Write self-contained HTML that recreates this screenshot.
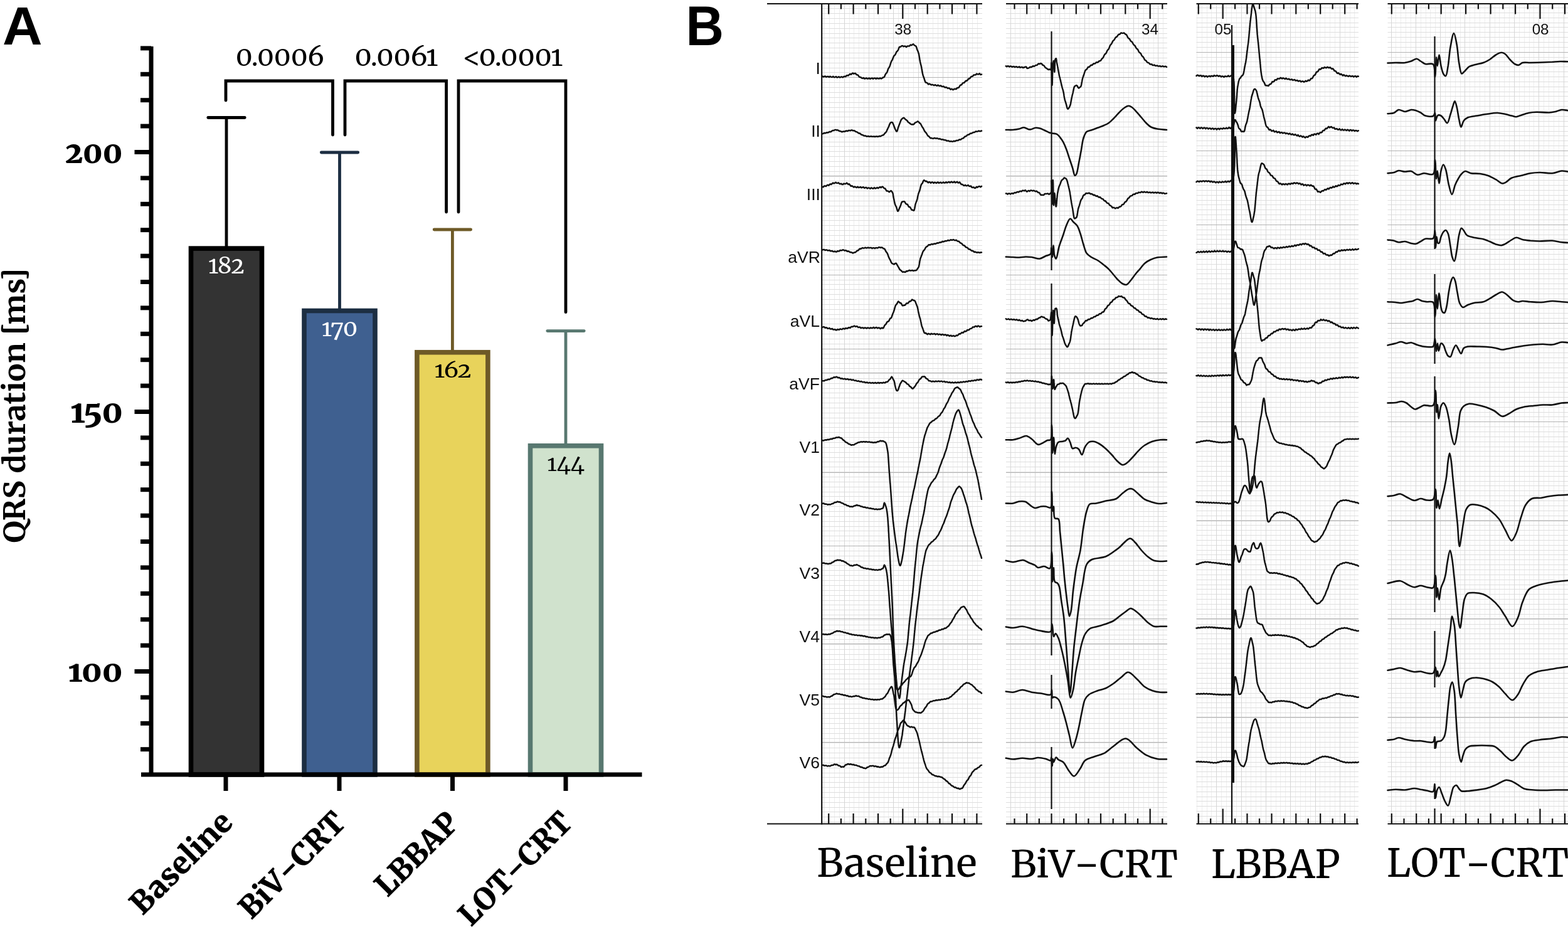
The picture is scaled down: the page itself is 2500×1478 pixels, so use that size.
<!DOCTYPE html>
<html><head><meta charset="utf-8"><style>
html,body{margin:0;padding:0;background:#fff;}
svg{display:block;}
text{font-optical-sizing:none;}
.on{font-variant-numeric:oldstyle-nums;}
.sf{font-size-adjust:cap-height 0.743;}
</style></head><body>
<svg width="2500" height="1478" viewBox="0 0 2500 1478">
<rect width="2500" height="1478" fill="#fff"/>
<line x1="361" y1="393.53999999999996" x2="361" y2="187.5" stroke="#000000" stroke-width="4.8"/>
<line x1="331.8" y1="187.5" x2="390.2" y2="187.5" stroke="#000000" stroke-width="4.8" stroke-linecap="round"/>
<rect x="304.5" y="396.14" width="113" height="838.86" fill="#333333" stroke="#000000" stroke-width="7.6"/>
<line x1="541.5" y1="492.9" x2="541.5" y2="243" stroke="#1c2e42" stroke-width="4.8"/>
<line x1="512.3" y1="243" x2="570.7" y2="243" stroke="#1c2e42" stroke-width="4.8" stroke-linecap="round"/>
<rect x="485.0" y="495.50" width="113" height="739.50" fill="#3f6090" stroke="#1c2e42" stroke-width="7.6"/>
<line x1="721.4" y1="559.14" x2="721.4" y2="366" stroke="#6e5a27" stroke-width="4.8"/>
<line x1="692.1999999999999" y1="366" x2="750.6" y2="366" stroke="#6e5a27" stroke-width="4.8" stroke-linecap="round"/>
<rect x="664.9" y="561.74" width="113" height="673.26" fill="#e8d35b" stroke="#6e5a27" stroke-width="7.6"/>
<line x1="902" y1="708.18" x2="902" y2="527.6" stroke="#587870" stroke-width="4.8"/>
<line x1="872.8" y1="527.6" x2="931.2" y2="527.6" stroke="#587870" stroke-width="4.8" stroke-linecap="round"/>
<rect x="845.5" y="710.78" width="113" height="524.22" fill="#d0e2cd" stroke="#587870" stroke-width="7.6"/>
<line x1="241" y1="74" x2="241" y2="1238" stroke="#000" stroke-width="7"/>
<line x1="224" y1="1194.7" x2="241" y2="1194.7" stroke="#000" stroke-width="7"/>
<line x1="224" y1="1153.3" x2="241" y2="1153.3" stroke="#000" stroke-width="7"/>
<line x1="224" y1="1111.9" x2="241" y2="1111.9" stroke="#000" stroke-width="7"/>
<line x1="214.5" y1="1070.5" x2="241" y2="1070.5" stroke="#000" stroke-width="7"/>
<line x1="224" y1="1029.1" x2="241" y2="1029.1" stroke="#000" stroke-width="7"/>
<line x1="224" y1="987.7" x2="241" y2="987.7" stroke="#000" stroke-width="7"/>
<line x1="224" y1="946.3" x2="241" y2="946.3" stroke="#000" stroke-width="7"/>
<line x1="224" y1="904.9" x2="241" y2="904.9" stroke="#000" stroke-width="7"/>
<line x1="224" y1="863.5" x2="241" y2="863.5" stroke="#000" stroke-width="7"/>
<line x1="224" y1="822.1" x2="241" y2="822.1" stroke="#000" stroke-width="7"/>
<line x1="224" y1="780.7" x2="241" y2="780.7" stroke="#000" stroke-width="7"/>
<line x1="224" y1="739.3" x2="241" y2="739.3" stroke="#000" stroke-width="7"/>
<line x1="224" y1="697.9" x2="241" y2="697.9" stroke="#000" stroke-width="7"/>
<line x1="214.5" y1="656.5" x2="241" y2="656.5" stroke="#000" stroke-width="7"/>
<line x1="224" y1="615.1" x2="241" y2="615.1" stroke="#000" stroke-width="7"/>
<line x1="224" y1="573.7" x2="241" y2="573.7" stroke="#000" stroke-width="7"/>
<line x1="224" y1="532.3" x2="241" y2="532.3" stroke="#000" stroke-width="7"/>
<line x1="224" y1="490.9" x2="241" y2="490.9" stroke="#000" stroke-width="7"/>
<line x1="224" y1="449.5" x2="241" y2="449.5" stroke="#000" stroke-width="7"/>
<line x1="224" y1="408.1" x2="241" y2="408.1" stroke="#000" stroke-width="7"/>
<line x1="224" y1="366.7" x2="241" y2="366.7" stroke="#000" stroke-width="7"/>
<line x1="224" y1="325.3" x2="241" y2="325.3" stroke="#000" stroke-width="7"/>
<line x1="224" y1="283.9" x2="241" y2="283.9" stroke="#000" stroke-width="7"/>
<line x1="214.5" y1="242.5" x2="241" y2="242.5" stroke="#000" stroke-width="7"/>
<line x1="224" y1="201.1" x2="241" y2="201.1" stroke="#000" stroke-width="7"/>
<line x1="224" y1="159.7" x2="241" y2="159.7" stroke="#000" stroke-width="7"/>
<line x1="224" y1="118.3" x2="241" y2="118.3" stroke="#000" stroke-width="7"/>
<line x1="224" y1="76.9" x2="241" y2="76.9" stroke="#000" stroke-width="7"/>
<line x1="225" y1="1235" x2="1023.5" y2="1235" stroke="#000" stroke-width="7"/>
<line x1="360" y1="1235" x2="360" y2="1261" stroke="#000" stroke-width="7"/>
<line x1="541" y1="1235" x2="541" y2="1261" stroke="#000" stroke-width="7"/>
<line x1="721.5" y1="1235" x2="721.5" y2="1261" stroke="#000" stroke-width="7"/>
<line x1="902" y1="1235" x2="902" y2="1261" stroke="#000" stroke-width="7"/>
<polyline points="360,160 360,129 530.5,129 530.5,215" fill="none" stroke="#000" stroke-width="4.8" stroke-linecap="round"/>
<polyline points="550,215 550,129 711.6,129 711.6,338" fill="none" stroke="#000" stroke-width="4.8" stroke-linecap="round"/>
<polyline points="731,338 731,129 902,129 902,497.7" fill="none" stroke="#000" stroke-width="4.8" stroke-linecap="round"/>
<path d="M1314.5 6.0V1313.5M1322.5 6.0V1313.5M1330.5 6.0V1313.5M1338.5 6.0V1313.5M1354.5 6.0V1313.5M1361.5 6.0V1313.5M1369.5 6.0V1313.5M1377.5 6.0V1313.5M1393.5 6.0V1313.5M1401.5 6.0V1313.5M1409.5 6.0V1313.5M1416.5 6.0V1313.5M1432.5 6.0V1313.5M1440.5 6.0V1313.5M1448.5 6.0V1313.5M1456.5 6.0V1313.5M1471.5 6.0V1313.5M1479.5 6.0V1313.5M1487.5 6.0V1313.5M1495.5 6.0V1313.5M1511.5 6.0V1313.5M1519.5 6.0V1313.5M1526.5 6.0V1313.5M1534.5 6.0V1313.5M1550.5 6.0V1313.5M1558.5 6.0V1313.5" stroke="#ededed" stroke-width="1" fill="none"/>
<path d="M1310.2 13.5H1566.0M1310.2 21.5H1566.0M1310.2 29.5H1566.0M1310.2 37.5H1566.0M1310.2 45.5H1566.0M1310.2 53.5H1566.0M1310.2 60.5H1566.0M1310.2 68.5H1566.0M1310.2 76.5H1566.0M1310.2 84.5H1566.0M1310.2 92.5H1566.0M1310.2 100.5H1566.0M1310.2 108.5H1566.0M1310.2 115.5H1566.0M1310.2 123.5H1566.0M1310.2 131.5H1566.0M1310.2 139.5H1566.0M1310.2 147.5H1566.0M1310.2 155.5H1566.0M1310.2 163.5H1566.0M1310.2 171.5H1566.0M1310.2 178.5H1566.0M1310.2 186.5H1566.0M1310.2 194.5H1566.0M1310.2 202.5H1566.0M1310.2 210.5H1566.0M1310.2 218.5H1566.0M1310.2 226.5H1566.0M1310.2 233.5H1566.0M1310.2 241.5H1566.0M1310.2 249.5H1566.0M1310.2 257.5H1566.0M1310.2 265.5H1566.0M1310.2 273.5H1566.0M1310.2 281.5H1566.0M1310.2 288.5H1566.0M1310.2 296.5H1566.0M1310.2 304.5H1566.0M1310.2 312.5H1566.0M1310.2 320.5H1566.0M1310.2 328.5H1566.0M1310.2 336.5H1566.0M1310.2 343.5H1566.0M1310.2 351.5H1566.0M1310.2 359.5H1566.0M1310.2 367.5H1566.0M1310.2 375.5H1566.0M1310.2 383.5H1566.0M1310.2 391.5H1566.0M1310.2 398.5H1566.0M1310.2 406.5H1566.0M1310.2 414.5H1566.0M1310.2 422.5H1566.0M1310.2 430.5H1566.0M1310.2 438.5H1566.0M1310.2 446.5H1566.0M1310.2 453.5H1566.0M1310.2 461.5H1566.0M1310.2 469.5H1566.0M1310.2 477.5H1566.0M1310.2 485.5H1566.0M1310.2 493.5H1566.0M1310.2 501.5H1566.0M1310.2 508.5H1566.0M1310.2 516.5H1566.0M1310.2 524.5H1566.0M1310.2 532.5H1566.0M1310.2 540.5H1566.0M1310.2 548.5H1566.0M1310.2 556.5H1566.0M1310.2 564.5H1566.0M1310.2 571.5H1566.0M1310.2 579.5H1566.0M1310.2 587.5H1566.0M1310.2 595.5H1566.0M1310.2 603.5H1566.0M1310.2 611.5H1566.0M1310.2 619.5H1566.0M1310.2 626.5H1566.0M1310.2 634.5H1566.0M1310.2 642.5H1566.0M1310.2 650.5H1566.0M1310.2 658.5H1566.0M1310.2 666.5H1566.0M1310.2 674.5H1566.0M1310.2 681.5H1566.0M1310.2 689.5H1566.0M1310.2 697.5H1566.0M1310.2 705.5H1566.0M1310.2 713.5H1566.0M1310.2 721.5H1566.0M1310.2 729.5H1566.0M1310.2 736.5H1566.0M1310.2 744.5H1566.0M1310.2 752.5H1566.0M1310.2 760.5H1566.0M1310.2 768.5H1566.0M1310.2 776.5H1566.0M1310.2 784.5H1566.0M1310.2 791.5H1566.0M1310.2 799.5H1566.0M1310.2 807.5H1566.0M1310.2 815.5H1566.0M1310.2 823.5H1566.0M1310.2 831.5H1566.0M1310.2 839.5H1566.0M1310.2 846.5H1566.0M1310.2 854.5H1566.0M1310.2 862.5H1566.0M1310.2 870.5H1566.0M1310.2 878.5H1566.0M1310.2 886.5H1566.0M1310.2 894.5H1566.0M1310.2 901.5H1566.0M1310.2 909.5H1566.0M1310.2 917.5H1566.0M1310.2 925.5H1566.0M1310.2 933.5H1566.0M1310.2 941.5H1566.0M1310.2 949.5H1566.0M1310.2 957.5H1566.0M1310.2 964.5H1566.0M1310.2 972.5H1566.0M1310.2 980.5H1566.0M1310.2 988.5H1566.0M1310.2 996.5H1566.0M1310.2 1004.5H1566.0M1310.2 1012.5H1566.0M1310.2 1019.5H1566.0M1310.2 1027.5H1566.0M1310.2 1035.5H1566.0M1310.2 1043.5H1566.0M1310.2 1051.5H1566.0M1310.2 1059.5H1566.0M1310.2 1067.5H1566.0M1310.2 1074.5H1566.0M1310.2 1082.5H1566.0M1310.2 1090.5H1566.0M1310.2 1098.5H1566.0M1310.2 1106.5H1566.0M1310.2 1114.5H1566.0M1310.2 1122.5H1566.0M1310.2 1129.5H1566.0M1310.2 1137.5H1566.0M1310.2 1145.5H1566.0M1310.2 1153.5H1566.0M1310.2 1161.5H1566.0M1310.2 1169.5H1566.0M1310.2 1177.5H1566.0M1310.2 1184.5H1566.0M1310.2 1192.5H1566.0M1310.2 1200.5H1566.0M1310.2 1208.5H1566.0M1310.2 1216.5H1566.0M1310.2 1224.5H1566.0M1310.2 1232.5H1566.0M1310.2 1239.5H1566.0M1310.2 1247.5H1566.0M1310.2 1255.5H1566.0M1310.2 1263.5H1566.0M1310.2 1271.5H1566.0M1310.2 1279.5H1566.0M1310.2 1287.5H1566.0M1310.2 1294.5H1566.0M1310.2 1302.5H1566.0M1310.2 1310.5H1566.0" stroke="#dedede" stroke-width="1" fill="none"/>
<path d="M1346.5 6.0V1313.5M1385.5 6.0V1313.5M1424.5 6.0V1313.5M1464.5 6.0V1313.5M1503.5 6.0V1313.5M1542.5 6.0V1313.5" stroke="#d6d6d6" stroke-width="1" fill="none"/>
<path d="M1310.2 123.5H1566.0M1310.2 280.5H1566.0M1310.2 438.5H1566.0M1310.2 556.5H1566.0M1310.2 594.5H1566.0M1310.2 753.5H1566.0M1310.2 870.5H1566.0M1310.2 986.5H1566.0M1310.2 1026.5H1566.0M1310.2 1183.5H1566.0" stroke="#b4b4b4" stroke-width="1" fill="none"/>
<path d="M1618.5 6.0V1313.5M1626.5 6.0V1313.5M1634.5 6.0V1313.5M1642.5 6.0V1313.5M1658.5 6.0V1313.5M1666.5 6.0V1313.5M1673.5 6.0V1313.5M1681.5 6.0V1313.5M1697.5 6.0V1313.5M1705.5 6.0V1313.5M1713.5 6.0V1313.5M1721.5 6.0V1313.5M1736.5 6.0V1313.5M1744.5 6.0V1313.5M1752.5 6.0V1313.5M1760.5 6.0V1313.5M1776.5 6.0V1313.5M1784.5 6.0V1313.5M1791.5 6.0V1313.5M1799.5 6.0V1313.5M1815.5 6.0V1313.5M1823.5 6.0V1313.5M1831.5 6.0V1313.5M1839.5 6.0V1313.5M1854.5 6.0V1313.5" stroke="#ededed" stroke-width="1" fill="none"/>
<path d="M1604.0 13.5H1861.0M1604.0 21.5H1861.0M1604.0 29.5H1861.0M1604.0 37.5H1861.0M1604.0 45.5H1861.0M1604.0 53.5H1861.0M1604.0 60.5H1861.0M1604.0 68.5H1861.0M1604.0 76.5H1861.0M1604.0 84.5H1861.0M1604.0 92.5H1861.0M1604.0 100.5H1861.0M1604.0 108.5H1861.0M1604.0 115.5H1861.0M1604.0 123.5H1861.0M1604.0 131.5H1861.0M1604.0 139.5H1861.0M1604.0 147.5H1861.0M1604.0 155.5H1861.0M1604.0 163.5H1861.0M1604.0 171.5H1861.0M1604.0 178.5H1861.0M1604.0 186.5H1861.0M1604.0 194.5H1861.0M1604.0 202.5H1861.0M1604.0 210.5H1861.0M1604.0 218.5H1861.0M1604.0 226.5H1861.0M1604.0 233.5H1861.0M1604.0 241.5H1861.0M1604.0 249.5H1861.0M1604.0 257.5H1861.0M1604.0 265.5H1861.0M1604.0 273.5H1861.0M1604.0 281.5H1861.0M1604.0 288.5H1861.0M1604.0 296.5H1861.0M1604.0 304.5H1861.0M1604.0 312.5H1861.0M1604.0 320.5H1861.0M1604.0 328.5H1861.0M1604.0 336.5H1861.0M1604.0 343.5H1861.0M1604.0 351.5H1861.0M1604.0 359.5H1861.0M1604.0 367.5H1861.0M1604.0 375.5H1861.0M1604.0 383.5H1861.0M1604.0 391.5H1861.0M1604.0 398.5H1861.0M1604.0 406.5H1861.0M1604.0 414.5H1861.0M1604.0 422.5H1861.0M1604.0 430.5H1861.0M1604.0 438.5H1861.0M1604.0 446.5H1861.0M1604.0 453.5H1861.0M1604.0 461.5H1861.0M1604.0 469.5H1861.0M1604.0 477.5H1861.0M1604.0 485.5H1861.0M1604.0 493.5H1861.0M1604.0 501.5H1861.0M1604.0 508.5H1861.0M1604.0 516.5H1861.0M1604.0 524.5H1861.0M1604.0 532.5H1861.0M1604.0 540.5H1861.0M1604.0 548.5H1861.0M1604.0 556.5H1861.0M1604.0 564.5H1861.0M1604.0 571.5H1861.0M1604.0 579.5H1861.0M1604.0 587.5H1861.0M1604.0 595.5H1861.0M1604.0 603.5H1861.0M1604.0 611.5H1861.0M1604.0 619.5H1861.0M1604.0 626.5H1861.0M1604.0 634.5H1861.0M1604.0 642.5H1861.0M1604.0 650.5H1861.0M1604.0 658.5H1861.0M1604.0 666.5H1861.0M1604.0 674.5H1861.0M1604.0 681.5H1861.0M1604.0 689.5H1861.0M1604.0 697.5H1861.0M1604.0 705.5H1861.0M1604.0 713.5H1861.0M1604.0 721.5H1861.0M1604.0 729.5H1861.0M1604.0 736.5H1861.0M1604.0 744.5H1861.0M1604.0 752.5H1861.0M1604.0 760.5H1861.0M1604.0 768.5H1861.0M1604.0 776.5H1861.0M1604.0 784.5H1861.0M1604.0 791.5H1861.0M1604.0 799.5H1861.0M1604.0 807.5H1861.0M1604.0 815.5H1861.0M1604.0 823.5H1861.0M1604.0 831.5H1861.0M1604.0 839.5H1861.0M1604.0 846.5H1861.0M1604.0 854.5H1861.0M1604.0 862.5H1861.0M1604.0 870.5H1861.0M1604.0 878.5H1861.0M1604.0 886.5H1861.0M1604.0 894.5H1861.0M1604.0 901.5H1861.0M1604.0 909.5H1861.0M1604.0 917.5H1861.0M1604.0 925.5H1861.0M1604.0 933.5H1861.0M1604.0 941.5H1861.0M1604.0 949.5H1861.0M1604.0 957.5H1861.0M1604.0 964.5H1861.0M1604.0 972.5H1861.0M1604.0 980.5H1861.0M1604.0 988.5H1861.0M1604.0 996.5H1861.0M1604.0 1004.5H1861.0M1604.0 1012.5H1861.0M1604.0 1019.5H1861.0M1604.0 1027.5H1861.0M1604.0 1035.5H1861.0M1604.0 1043.5H1861.0M1604.0 1051.5H1861.0M1604.0 1059.5H1861.0M1604.0 1067.5H1861.0M1604.0 1074.5H1861.0M1604.0 1082.5H1861.0M1604.0 1090.5H1861.0M1604.0 1098.5H1861.0M1604.0 1106.5H1861.0M1604.0 1114.5H1861.0M1604.0 1122.5H1861.0M1604.0 1129.5H1861.0M1604.0 1137.5H1861.0M1604.0 1145.5H1861.0M1604.0 1153.5H1861.0M1604.0 1161.5H1861.0M1604.0 1169.5H1861.0M1604.0 1177.5H1861.0M1604.0 1184.5H1861.0M1604.0 1192.5H1861.0M1604.0 1200.5H1861.0M1604.0 1208.5H1861.0M1604.0 1216.5H1861.0M1604.0 1224.5H1861.0M1604.0 1232.5H1861.0M1604.0 1239.5H1861.0M1604.0 1247.5H1861.0M1604.0 1255.5H1861.0M1604.0 1263.5H1861.0M1604.0 1271.5H1861.0M1604.0 1279.5H1861.0M1604.0 1287.5H1861.0M1604.0 1294.5H1861.0M1604.0 1302.5H1861.0M1604.0 1310.5H1861.0" stroke="#dedede" stroke-width="1" fill="none"/>
<path d="M1611.5 6.0V1313.5M1650.5 6.0V1313.5M1689.5 6.0V1313.5M1729.5 6.0V1313.5M1768.5 6.0V1313.5M1807.5 6.0V1313.5M1846.5 6.0V1313.5" stroke="#d6d6d6" stroke-width="1" fill="none"/>
<path d="M1604.0 123.5H1861.0M1604.0 280.5H1861.0M1604.0 438.5H1861.0M1604.0 556.5H1861.0M1604.0 594.5H1861.0M1604.0 753.5H1861.0M1604.0 870.5H1861.0M1604.0 986.5H1861.0M1604.0 1026.5H1861.0M1604.0 1183.5H1861.0" stroke="#b4b4b4" stroke-width="1" fill="none"/>
<path d="M1908.5 6.0V1313.5M1916.5 6.0V1313.5M1924.5 6.0V1313.5M1931.5 6.0V1313.5M1947.5 6.0V1313.5M1955.5 6.0V1313.5M1963.5 6.0V1313.5M1971.5 6.0V1313.5M1986.5 6.0V1313.5M1994.5 6.0V1313.5M2002.5 6.0V1313.5M2010.5 6.0V1313.5M2026.5 6.0V1313.5M2034.5 6.0V1313.5M2041.5 6.0V1313.5M2049.5 6.0V1313.5M2065.5 6.0V1313.5M2073.5 6.0V1313.5M2081.5 6.0V1313.5M2089.5 6.0V1313.5M2104.5 6.0V1313.5M2112.5 6.0V1313.5M2120.5 6.0V1313.5M2128.5 6.0V1313.5M2144.5 6.0V1313.5M2152.5 6.0V1313.5M2159.5 6.0V1313.5" stroke="#ededed" stroke-width="1" fill="none"/>
<path d="M1907.5 12.5H2166.0M1907.5 20.5H2166.0M1907.5 28.5H2166.0M1907.5 36.5H2166.0M1907.5 43.5H2166.0M1907.5 51.5H2166.0M1907.5 59.5H2166.0M1907.5 67.5H2166.0M1907.5 75.5H2166.0M1907.5 83.5H2166.0M1907.5 91.5H2166.0M1907.5 98.5H2166.0M1907.5 106.5H2166.0M1907.5 114.5H2166.0M1907.5 122.5H2166.0M1907.5 130.5H2166.0M1907.5 138.5H2166.0M1907.5 146.5H2166.0M1907.5 153.5H2166.0M1907.5 161.5H2166.0M1907.5 169.5H2166.0M1907.5 177.5H2166.0M1907.5 185.5H2166.0M1907.5 193.5H2166.0M1907.5 201.5H2166.0M1907.5 209.5H2166.0M1907.5 216.5H2166.0M1907.5 224.5H2166.0M1907.5 232.5H2166.0M1907.5 240.5H2166.0M1907.5 248.5H2166.0M1907.5 256.5H2166.0M1907.5 264.5H2166.0M1907.5 271.5H2166.0M1907.5 279.5H2166.0M1907.5 287.5H2166.0M1907.5 295.5H2166.0M1907.5 303.5H2166.0M1907.5 311.5H2166.0M1907.5 319.5H2166.0M1907.5 326.5H2166.0M1907.5 334.5H2166.0M1907.5 342.5H2166.0M1907.5 350.5H2166.0M1907.5 358.5H2166.0M1907.5 366.5H2166.0M1907.5 374.5H2166.0M1907.5 381.5H2166.0M1907.5 389.5H2166.0M1907.5 397.5H2166.0M1907.5 405.5H2166.0M1907.5 413.5H2166.0M1907.5 421.5H2166.0M1907.5 429.5H2166.0M1907.5 436.5H2166.0M1907.5 444.5H2166.0M1907.5 452.5H2166.0M1907.5 460.5H2166.0M1907.5 468.5H2166.0M1907.5 476.5H2166.0M1907.5 484.5H2166.0M1907.5 491.5H2166.0M1907.5 499.5H2166.0M1907.5 507.5H2166.0M1907.5 515.5H2166.0M1907.5 523.5H2166.0M1907.5 531.5H2166.0M1907.5 539.5H2166.0M1907.5 546.5H2166.0M1907.5 554.5H2166.0M1907.5 562.5H2166.0M1907.5 570.5H2166.0M1907.5 578.5H2166.0M1907.5 586.5H2166.0M1907.5 594.5H2166.0M1907.5 602.5H2166.0M1907.5 609.5H2166.0M1907.5 617.5H2166.0M1907.5 625.5H2166.0M1907.5 633.5H2166.0M1907.5 641.5H2166.0M1907.5 649.5H2166.0M1907.5 657.5H2166.0M1907.5 664.5H2166.0M1907.5 672.5H2166.0M1907.5 680.5H2166.0M1907.5 688.5H2166.0M1907.5 696.5H2166.0M1907.5 704.5H2166.0M1907.5 712.5H2166.0M1907.5 719.5H2166.0M1907.5 727.5H2166.0M1907.5 735.5H2166.0M1907.5 743.5H2166.0M1907.5 751.5H2166.0M1907.5 759.5H2166.0M1907.5 767.5H2166.0M1907.5 774.5H2166.0M1907.5 782.5H2166.0M1907.5 790.5H2166.0M1907.5 798.5H2166.0M1907.5 806.5H2166.0M1907.5 814.5H2166.0M1907.5 822.5H2166.0M1907.5 829.5H2166.0M1907.5 837.5H2166.0M1907.5 845.5H2166.0M1907.5 853.5H2166.0M1907.5 861.5H2166.0M1907.5 869.5H2166.0M1907.5 877.5H2166.0M1907.5 884.5H2166.0M1907.5 892.5H2166.0M1907.5 900.5H2166.0M1907.5 908.5H2166.0M1907.5 916.5H2166.0M1907.5 924.5H2166.0M1907.5 932.5H2166.0M1907.5 939.5H2166.0M1907.5 947.5H2166.0M1907.5 955.5H2166.0M1907.5 963.5H2166.0M1907.5 971.5H2166.0M1907.5 979.5H2166.0M1907.5 987.5H2166.0M1907.5 995.5H2166.0M1907.5 1002.5H2166.0M1907.5 1010.5H2166.0M1907.5 1018.5H2166.0M1907.5 1026.5H2166.0M1907.5 1034.5H2166.0M1907.5 1042.5H2166.0M1907.5 1050.5H2166.0M1907.5 1057.5H2166.0M1907.5 1065.5H2166.0M1907.5 1073.5H2166.0M1907.5 1081.5H2166.0M1907.5 1089.5H2166.0M1907.5 1097.5H2166.0M1907.5 1105.5H2166.0M1907.5 1112.5H2166.0M1907.5 1120.5H2166.0M1907.5 1128.5H2166.0M1907.5 1136.5H2166.0M1907.5 1144.5H2166.0M1907.5 1152.5H2166.0M1907.5 1160.5H2166.0M1907.5 1167.5H2166.0M1907.5 1175.5H2166.0M1907.5 1183.5H2166.0M1907.5 1191.5H2166.0M1907.5 1199.5H2166.0M1907.5 1207.5H2166.0M1907.5 1215.5H2166.0M1907.5 1222.5H2166.0M1907.5 1230.5H2166.0M1907.5 1238.5H2166.0M1907.5 1246.5H2166.0M1907.5 1254.5H2166.0M1907.5 1262.5H2166.0M1907.5 1270.5H2166.0M1907.5 1277.5H2166.0M1907.5 1285.5H2166.0M1907.5 1293.5H2166.0M1907.5 1301.5H2166.0M1907.5 1309.5H2166.0" stroke="#dedede" stroke-width="1" fill="none"/>
<path d="M1939.5 6.0V1313.5M1979.5 6.0V1313.5M2018.5 6.0V1313.5M2057.5 6.0V1313.5M2097.5 6.0V1313.5M2136.5 6.0V1313.5" stroke="#d6d6d6" stroke-width="1" fill="none"/>
<path d="M1907.5 83.5H2166.0M1907.5 240.5H2166.0M1907.5 358.5H2166.0M1907.5 515.5H2166.0M1907.5 672.5H2166.0M1907.5 830.5H2166.0M1907.5 986.5H2166.0M1907.5 1143.5H2166.0" stroke="#b4b4b4" stroke-width="1" fill="none"/>
<path d="M2225.5 6.0V1313.5M2233.5 6.0V1313.5M2241.5 6.0V1313.5M2249.5 6.0V1313.5M2265.5 6.0V1313.5M2273.5 6.0V1313.5M2280.5 6.0V1313.5M2288.5 6.0V1313.5M2304.5 6.0V1313.5M2312.5 6.0V1313.5M2320.5 6.0V1313.5M2328.5 6.0V1313.5M2343.5 6.0V1313.5M2351.5 6.0V1313.5M2359.5 6.0V1313.5M2367.5 6.0V1313.5M2383.5 6.0V1313.5M2390.5 6.0V1313.5M2398.5 6.0V1313.5M2406.5 6.0V1313.5M2422.5 6.0V1313.5M2430.5 6.0V1313.5M2438.5 6.0V1313.5M2445.5 6.0V1313.5M2461.5 6.0V1313.5M2469.5 6.0V1313.5M2477.5 6.0V1313.5M2485.5 6.0V1313.5" stroke="#ededed" stroke-width="1" fill="none"/>
<path d="M2212.5 12.5H2500.0M2212.5 20.5H2500.0M2212.5 28.5H2500.0M2212.5 36.5H2500.0M2212.5 43.5H2500.0M2212.5 51.5H2500.0M2212.5 59.5H2500.0M2212.5 67.5H2500.0M2212.5 75.5H2500.0M2212.5 83.5H2500.0M2212.5 91.5H2500.0M2212.5 98.5H2500.0M2212.5 106.5H2500.0M2212.5 114.5H2500.0M2212.5 122.5H2500.0M2212.5 130.5H2500.0M2212.5 138.5H2500.0M2212.5 146.5H2500.0M2212.5 153.5H2500.0M2212.5 161.5H2500.0M2212.5 169.5H2500.0M2212.5 177.5H2500.0M2212.5 185.5H2500.0M2212.5 193.5H2500.0M2212.5 201.5H2500.0M2212.5 209.5H2500.0M2212.5 216.5H2500.0M2212.5 224.5H2500.0M2212.5 232.5H2500.0M2212.5 240.5H2500.0M2212.5 248.5H2500.0M2212.5 256.5H2500.0M2212.5 264.5H2500.0M2212.5 271.5H2500.0M2212.5 279.5H2500.0M2212.5 287.5H2500.0M2212.5 295.5H2500.0M2212.5 303.5H2500.0M2212.5 311.5H2500.0M2212.5 319.5H2500.0M2212.5 326.5H2500.0M2212.5 334.5H2500.0M2212.5 342.5H2500.0M2212.5 350.5H2500.0M2212.5 358.5H2500.0M2212.5 366.5H2500.0M2212.5 374.5H2500.0M2212.5 381.5H2500.0M2212.5 389.5H2500.0M2212.5 397.5H2500.0M2212.5 405.5H2500.0M2212.5 413.5H2500.0M2212.5 421.5H2500.0M2212.5 429.5H2500.0M2212.5 436.5H2500.0M2212.5 444.5H2500.0M2212.5 452.5H2500.0M2212.5 460.5H2500.0M2212.5 468.5H2500.0M2212.5 476.5H2500.0M2212.5 484.5H2500.0M2212.5 491.5H2500.0M2212.5 499.5H2500.0M2212.5 507.5H2500.0M2212.5 515.5H2500.0M2212.5 523.5H2500.0M2212.5 531.5H2500.0M2212.5 539.5H2500.0M2212.5 546.5H2500.0M2212.5 554.5H2500.0M2212.5 562.5H2500.0M2212.5 570.5H2500.0M2212.5 578.5H2500.0M2212.5 586.5H2500.0M2212.5 594.5H2500.0M2212.5 602.5H2500.0M2212.5 609.5H2500.0M2212.5 617.5H2500.0M2212.5 625.5H2500.0M2212.5 633.5H2500.0M2212.5 641.5H2500.0M2212.5 649.5H2500.0M2212.5 657.5H2500.0M2212.5 664.5H2500.0M2212.5 672.5H2500.0M2212.5 680.5H2500.0M2212.5 688.5H2500.0M2212.5 696.5H2500.0M2212.5 704.5H2500.0M2212.5 712.5H2500.0M2212.5 719.5H2500.0M2212.5 727.5H2500.0M2212.5 735.5H2500.0M2212.5 743.5H2500.0M2212.5 751.5H2500.0M2212.5 759.5H2500.0M2212.5 767.5H2500.0M2212.5 774.5H2500.0M2212.5 782.5H2500.0M2212.5 790.5H2500.0M2212.5 798.5H2500.0M2212.5 806.5H2500.0M2212.5 814.5H2500.0M2212.5 822.5H2500.0M2212.5 829.5H2500.0M2212.5 837.5H2500.0M2212.5 845.5H2500.0M2212.5 853.5H2500.0M2212.5 861.5H2500.0M2212.5 869.5H2500.0M2212.5 877.5H2500.0M2212.5 884.5H2500.0M2212.5 892.5H2500.0M2212.5 900.5H2500.0M2212.5 908.5H2500.0M2212.5 916.5H2500.0M2212.5 924.5H2500.0M2212.5 932.5H2500.0M2212.5 939.5H2500.0M2212.5 947.5H2500.0M2212.5 955.5H2500.0M2212.5 963.5H2500.0M2212.5 971.5H2500.0M2212.5 979.5H2500.0M2212.5 987.5H2500.0M2212.5 995.5H2500.0M2212.5 1002.5H2500.0M2212.5 1010.5H2500.0M2212.5 1018.5H2500.0M2212.5 1026.5H2500.0M2212.5 1034.5H2500.0M2212.5 1042.5H2500.0M2212.5 1050.5H2500.0M2212.5 1057.5H2500.0M2212.5 1065.5H2500.0M2212.5 1073.5H2500.0M2212.5 1081.5H2500.0M2212.5 1089.5H2500.0M2212.5 1097.5H2500.0M2212.5 1105.5H2500.0M2212.5 1112.5H2500.0M2212.5 1120.5H2500.0M2212.5 1128.5H2500.0M2212.5 1136.5H2500.0M2212.5 1144.5H2500.0M2212.5 1152.5H2500.0M2212.5 1160.5H2500.0M2212.5 1167.5H2500.0M2212.5 1175.5H2500.0M2212.5 1183.5H2500.0M2212.5 1191.5H2500.0M2212.5 1199.5H2500.0M2212.5 1207.5H2500.0M2212.5 1215.5H2500.0M2212.5 1222.5H2500.0M2212.5 1230.5H2500.0M2212.5 1238.5H2500.0M2212.5 1246.5H2500.0M2212.5 1254.5H2500.0M2212.5 1262.5H2500.0M2212.5 1270.5H2500.0M2212.5 1277.5H2500.0M2212.5 1285.5H2500.0M2212.5 1293.5H2500.0M2212.5 1301.5H2500.0M2212.5 1309.5H2500.0" stroke="#dedede" stroke-width="1" fill="none"/>
<path d="M2218.5 6.0V1313.5M2257.5 6.0V1313.5M2296.5 6.0V1313.5M2335.5 6.0V1313.5M2375.5 6.0V1313.5M2414.5 6.0V1313.5M2453.5 6.0V1313.5M2493.5 6.0V1313.5" stroke="#d6d6d6" stroke-width="1" fill="none"/>
<path d="M2212.5 83.5H2500.0M2212.5 240.5H2500.0M2212.5 358.5H2500.0M2212.5 397.5H2500.0M2212.5 515.5H2500.0M2212.5 672.5H2500.0M2212.5 830.5H2500.0M2212.5 986.5H2500.0M2212.5 1143.5H2500.0" stroke="#b4b4b4" stroke-width="1" fill="none"/>
<path d="M1603.8 207.0C1607.5 207.0 1611.4 207.3 1615.0 207.0C1618.4 206.7 1621.9 206.2 1625.0 205.5C1627.7 204.9 1630.0 203.1 1632.5 203.2C1635.0 203.4 1637.9 205.8 1640.0 206.2C1641.4 206.5 1642.3 206.5 1643.8 206.2C1645.8 205.9 1648.8 204.0 1651.2 203.8C1653.4 203.5 1655.4 204.0 1657.5 204.5C1659.9 205.1 1662.5 206.4 1665.0 207.5C1667.5 208.6 1670.2 210.4 1672.5 211.2C1674.3 211.9 1675.7 212.1 1677.5 212.5C1679.7 213.0 1682.9 212.7 1685.0 213.8C1687.0 214.8 1688.4 216.8 1690.0 218.8C1691.8 220.9 1693.4 223.4 1695.0 226.2C1696.8 229.6 1698.4 233.4 1700.0 237.5C1701.8 242.1 1703.3 247.5 1705.0 252.5C1706.7 257.5 1708.5 262.7 1710.0 267.5C1711.4 271.8 1712.3 279.6 1713.8 280.0C1714.5 280.2 1715.5 278.9 1716.2 277.5C1717.9 274.4 1718.8 266.0 1720.0 260.0C1721.3 253.6 1722.5 246.7 1723.8 240.0C1725.0 233.3 1725.7 225.4 1727.5 220.0C1728.9 216.0 1730.1 212.1 1732.5 210.0C1734.5 208.3 1737.3 208.4 1740.0 207.5C1743.1 206.4 1746.7 205.0 1750.0 203.8C1753.3 202.5 1756.9 201.3 1760.0 200.0C1762.7 198.8 1765.1 197.9 1767.5 196.2C1770.1 194.5 1772.5 192.0 1775.0 189.5C1777.9 186.7 1780.8 183.0 1783.8 180.0C1786.6 177.2 1789.6 173.9 1792.5 172.0C1794.8 170.4 1797.3 168.8 1799.5 168.8C1801.4 168.7 1803.1 170.0 1805.0 171.2C1807.5 173.0 1810.0 176.1 1812.5 178.8C1815.1 181.5 1817.5 184.6 1820.0 187.5C1822.5 190.4 1824.9 193.7 1827.5 196.2C1829.9 198.6 1832.1 201.0 1835.0 202.5C1838.0 204.1 1841.3 204.8 1845.0 205.5C1849.5 206.4 1855.0 206.5 1860.0 207.0M1603.8 409.5C1607.5 409.7 1611.4 409.8 1615.0 410.0C1618.4 410.2 1621.7 410.6 1625.0 410.5C1628.3 410.4 1631.7 409.6 1635.0 409.5C1638.3 409.4 1641.5 409.6 1645.0 410.0C1649.0 410.5 1653.6 412.9 1657.5 412.5C1661.1 412.1 1664.4 409.3 1667.5 408.0C1670.2 406.9 1673.5 406.9 1675.0 405.0C1676.7 402.8 1675.8 395.0 1676.2 395.0C1676.8 395.0 1677.5 410.0 1678.0 410.0C1678.6 410.0 1678.9 391.3 1679.5 391.2C1680.0 391.2 1680.1 403.7 1681.2 407.5C1681.9 409.7 1682.9 412.6 1683.8 412.5C1685.4 412.3 1686.8 398.9 1688.8 392.5C1690.6 386.4 1693.1 380.6 1695.0 375.0C1696.8 369.8 1698.0 364.6 1700.0 360.0C1701.8 355.9 1704.1 349.1 1706.2 348.8C1707.9 348.5 1709.5 352.0 1711.2 353.8C1713.2 355.7 1715.7 357.3 1717.5 360.0C1719.7 363.3 1720.9 367.9 1722.5 372.5C1724.3 377.8 1725.7 384.5 1727.5 390.0C1729.1 394.9 1730.1 400.3 1732.5 403.8C1734.5 406.6 1737.2 408.2 1740.0 410.0C1743.0 412.0 1746.8 413.0 1750.0 415.0C1753.4 417.1 1756.9 420.1 1760.0 422.5C1762.7 424.6 1765.1 426.4 1767.5 428.8C1770.1 431.3 1772.5 434.6 1775.0 437.5C1777.5 440.4 1779.9 443.7 1782.5 446.2C1784.9 448.6 1787.5 451.3 1790.0 452.5C1792.1 453.5 1794.3 454.3 1796.2 453.8C1798.5 453.1 1800.4 449.9 1802.5 447.5C1805.0 444.6 1807.4 440.7 1810.0 437.5C1812.5 434.4 1815.0 431.7 1817.5 428.8C1820.0 425.8 1822.1 422.5 1825.0 420.0C1827.9 417.5 1831.6 415.4 1835.0 413.8C1838.2 412.2 1841.3 411.2 1845.0 410.5C1849.4 409.6 1855.0 409.8 1860.0 409.5M1603.8 701.2C1607.5 701.2 1611.4 701.7 1615.0 701.2C1618.5 700.8 1621.6 699.7 1625.0 698.8C1628.7 697.7 1632.8 694.7 1636.2 695.0C1639.4 695.3 1642.1 697.9 1645.0 700.0C1648.3 702.4 1651.7 708.1 1655.0 708.8C1657.5 709.3 1660.1 707.3 1662.5 706.2C1665.1 705.1 1667.7 702.8 1670.0 702.0C1671.8 701.4 1673.8 702.6 1675.0 701.2C1677.7 698.4 1676.5 677.5 1677.0 677.5C1677.7 677.5 1677.6 722.5 1678.2 722.5C1678.7 722.5 1679.4 697.5 1680.0 697.5C1680.6 697.5 1680.9 723.7 1681.8 723.8C1682.3 723.8 1682.7 715.8 1683.8 712.5C1684.7 709.7 1685.6 706.4 1687.5 705.0C1689.1 703.8 1691.8 704.2 1693.8 703.8C1695.5 703.4 1697.3 703.3 1698.8 702.5C1700.2 701.7 1701.3 698.6 1702.5 698.8C1703.9 698.9 1705.1 702.6 1706.2 705.0C1707.6 707.9 1708.1 714.0 1710.0 715.0C1711.3 715.7 1713.4 713.6 1715.0 713.8C1716.7 713.9 1718.5 714.8 1720.0 716.2C1722.0 718.1 1723.4 725.1 1725.0 725.0C1726.8 724.9 1727.9 716.0 1730.0 712.5C1731.8 709.5 1733.9 706.4 1736.2 705.0C1738.2 703.9 1740.2 703.6 1742.5 703.8C1745.5 704.0 1749.3 705.7 1752.5 707.5C1756.0 709.4 1759.3 712.2 1762.5 715.0C1765.9 718.0 1769.3 721.6 1772.5 725.0C1775.6 728.3 1778.2 732.2 1781.2 735.0C1784.0 737.5 1787.1 741.0 1790.0 741.2C1792.5 741.4 1795.1 739.2 1797.5 737.5C1800.2 735.6 1802.4 732.8 1805.0 730.0C1808.1 726.7 1811.6 722.2 1815.0 718.8C1818.2 715.5 1821.3 712.5 1825.0 710.0C1828.8 707.5 1833.2 705.2 1837.5 703.8C1841.6 702.4 1846.0 701.6 1850.0 701.2C1853.5 700.9 1856.7 701.2 1860.0 701.2M1603.8 802.5C1607.5 802.5 1611.4 803.0 1615.0 802.5C1618.5 802.0 1621.6 799.9 1625.0 799.5C1628.3 799.1 1631.8 798.9 1635.0 800.0C1638.5 801.3 1642.2 805.8 1645.0 807.5C1646.9 808.7 1648.0 809.8 1650.0 810.0C1652.7 810.3 1656.9 807.9 1660.0 807.5C1662.7 807.2 1665.0 807.2 1667.5 807.5C1670.0 807.8 1673.3 810.7 1675.0 809.5C1678.2 807.2 1676.5 783.7 1677.0 783.8C1677.6 783.8 1677.3 814.9 1678.2 815.0C1678.7 815.0 1679.5 807.5 1680.0 807.5C1680.8 807.6 1679.3 823.5 1681.8 826.2C1683.1 827.8 1686.1 826.0 1687.5 827.5C1690.1 830.3 1689.2 840.5 1690.0 847.5C1690.9 855.4 1691.7 864.2 1692.5 872.5C1693.3 880.8 1694.2 889.0 1695.0 897.5C1695.9 906.4 1696.6 916.3 1697.5 925.0C1698.3 932.9 1699.1 940.2 1700.0 947.5C1700.8 954.4 1701.6 961.3 1702.5 967.5C1703.3 972.9 1704.0 982.4 1705.0 982.5C1705.7 982.6 1706.7 978.5 1707.5 975.0C1709.1 967.7 1709.8 951.7 1711.2 940.0C1712.7 928.3 1714.2 915.9 1716.2 905.0C1718.1 895.2 1720.7 887.4 1722.5 877.5C1724.6 866.0 1725.6 851.2 1727.5 840.0C1729.0 830.8 1730.4 821.6 1732.5 815.0C1734.0 810.4 1734.8 805.8 1737.5 803.8C1740.0 801.9 1743.9 803.2 1747.5 802.5C1752.0 801.7 1757.3 800.0 1762.5 798.8C1768.1 797.5 1775.2 797.4 1780.0 795.0C1784.1 792.9 1786.6 788.9 1790.0 786.2C1793.3 783.7 1797.1 780.4 1800.0 779.5C1801.9 778.9 1803.2 778.9 1805.0 779.5C1807.9 780.5 1811.7 784.7 1815.0 787.5C1818.4 790.3 1821.5 794.1 1825.0 796.2C1828.2 798.1 1831.4 798.9 1835.0 800.0C1838.9 801.2 1843.3 802.7 1847.5 803.0C1851.6 803.3 1855.8 802.3 1860.0 802.0M1603.8 893.8C1607.5 894.6 1610.9 896.2 1615.0 896.2C1619.9 896.3 1626.7 892.5 1631.2 893.0C1634.7 893.4 1637.0 895.7 1640.0 897.0C1643.2 898.4 1647.3 899.7 1650.0 901.2C1652.0 902.4 1652.9 904.5 1655.0 905.0C1657.7 905.6 1661.8 902.7 1665.0 903.0C1668.0 903.2 1671.7 907.5 1673.8 906.2C1677.2 904.1 1676.2 880.0 1677.0 880.0C1678.0 880.0 1677.6 927.5 1678.2 927.5C1678.7 927.5 1679.4 905.0 1680.0 905.0C1680.6 905.0 1679.4 923.9 1681.8 927.5C1682.9 929.2 1685.1 928.8 1686.2 930.0C1687.5 931.3 1688.0 932.6 1688.8 935.0C1690.4 940.1 1691.2 951.7 1692.5 960.0C1693.8 968.3 1695.1 975.4 1696.2 985.0C1697.7 997.8 1698.8 1015.4 1700.0 1030.0C1701.1 1043.7 1702.0 1057.1 1703.0 1070.0C1704.0 1082.1 1705.0 1105.0 1706.0 1105.0C1707.0 1105.0 1708.1 1085.7 1709.0 1075.0C1710.1 1062.6 1710.8 1047.9 1712.0 1035.0C1713.1 1022.9 1714.6 1012.1 1716.0 1000.0C1717.5 987.1 1719.2 972.1 1721.0 960.0C1722.5 949.8 1724.2 941.6 1726.0 932.0C1728.0 921.7 1728.9 906.7 1732.5 900.0C1734.5 896.2 1736.5 894.4 1740.0 892.5C1745.2 889.6 1756.3 890.0 1762.5 887.5C1767.5 885.5 1771.1 882.6 1775.0 880.0C1778.6 877.6 1782.0 875.1 1785.0 872.5C1787.8 870.1 1789.9 867.3 1792.5 865.0C1794.9 862.8 1798.0 859.8 1800.0 859.0C1801.1 858.5 1801.9 858.4 1803.0 858.8C1805.0 859.4 1807.6 862.4 1810.0 865.0C1813.2 868.3 1816.6 873.7 1820.0 877.5C1823.2 881.1 1826.5 884.7 1830.0 887.5C1833.2 890.0 1836.5 892.5 1840.0 893.8C1843.2 894.9 1846.7 894.9 1850.0 895.0C1853.3 895.1 1856.7 894.7 1860.0 894.5M1603.8 999.5C1607.5 1000.0 1611.0 1001.0 1615.0 1001.0C1619.6 1001.0 1625.0 998.5 1630.0 998.8C1635.0 999.0 1640.2 1001.3 1645.0 1002.5C1649.4 1003.6 1653.0 1004.8 1657.5 1005.5C1662.8 1006.4 1671.8 1009.4 1675.0 1007.0C1677.7 1005.0 1676.7 995.0 1677.5 995.0C1678.5 995.0 1678.5 1014.7 1680.0 1015.0C1680.8 1015.2 1681.9 1010.0 1683.0 1010.0C1684.3 1010.0 1686.1 1014.4 1687.5 1017.5C1689.5 1022.0 1690.9 1028.8 1692.5 1035.0C1694.3 1042.0 1695.9 1049.6 1697.5 1057.5C1699.3 1066.2 1700.9 1075.8 1702.5 1085.0C1704.1 1094.2 1705.2 1112.4 1707.0 1112.5C1708.2 1112.6 1709.8 1105.0 1711.0 1100.0C1712.7 1092.7 1713.5 1081.4 1715.0 1072.5C1716.5 1063.9 1718.3 1055.6 1720.0 1047.5C1721.6 1039.8 1723.1 1031.5 1725.0 1025.0C1726.5 1019.8 1727.7 1015.1 1730.0 1011.2C1732.0 1007.8 1734.3 1004.6 1737.5 1002.5C1740.9 1000.3 1745.8 1000.0 1750.0 998.8C1754.2 997.5 1758.4 996.4 1762.5 995.0C1766.7 993.5 1771.2 992.1 1775.0 990.0C1778.7 987.9 1781.7 985.0 1785.0 982.5C1788.3 980.0 1791.9 977.2 1795.0 975.0C1797.7 973.1 1800.0 970.2 1802.5 970.0C1805.0 969.8 1807.4 972.0 1810.0 973.8C1813.2 975.9 1816.7 979.4 1820.0 982.5C1823.4 985.7 1826.5 989.7 1830.0 992.5C1833.2 995.0 1836.5 997.8 1840.0 998.8C1843.2 999.7 1846.7 998.8 1850.0 998.8C1853.3 998.8 1856.7 998.8 1860.0 998.8M1603.8 1102.5C1607.5 1102.9 1611.0 1104.0 1615.0 1103.8C1619.7 1103.4 1625.0 1100.0 1630.0 1100.0C1635.0 1100.0 1640.0 1102.8 1645.0 1103.8C1650.0 1104.7 1655.0 1104.9 1660.0 1105.5C1665.0 1106.1 1672.4 1109.3 1675.0 1107.5C1676.9 1106.2 1676.5 1100.0 1677.0 1100.0C1677.6 1100.1 1676.8 1111.9 1678.0 1112.5C1678.5 1112.8 1679.1 1111.3 1680.0 1111.2C1681.7 1111.2 1685.4 1112.6 1687.5 1115.0C1690.9 1118.8 1692.9 1128.5 1695.0 1135.0C1697.0 1141.0 1698.4 1146.5 1700.0 1152.5C1701.7 1158.9 1703.3 1165.8 1705.0 1172.5C1706.7 1179.2 1708.1 1192.4 1710.0 1192.5C1711.5 1192.6 1713.5 1184.7 1715.0 1180.0C1716.9 1174.2 1718.4 1167.1 1720.0 1160.0C1721.8 1152.2 1723.2 1142.8 1725.0 1135.0C1726.6 1127.9 1727.5 1119.9 1730.0 1115.0C1731.7 1111.6 1733.5 1109.6 1736.2 1107.5C1739.7 1104.8 1745.5 1103.0 1750.0 1101.2C1754.2 1099.7 1758.4 1099.3 1762.5 1097.5C1766.8 1095.6 1770.9 1092.8 1775.0 1090.0C1779.3 1087.0 1783.4 1083.1 1787.5 1080.0C1791.3 1077.1 1794.8 1071.7 1798.8 1071.8C1803.1 1071.8 1808.1 1078.6 1812.5 1082.5C1816.9 1086.4 1820.6 1091.8 1825.0 1095.0C1828.9 1097.8 1833.2 1099.8 1837.5 1101.2C1841.6 1102.6 1846.0 1103.4 1850.0 1103.8C1853.5 1104.1 1856.7 1103.8 1860.0 1103.8M1603.8 1208.8C1607.5 1209.3 1611.0 1210.4 1615.0 1210.5C1619.6 1210.6 1625.0 1208.8 1630.0 1208.8C1635.0 1208.7 1640.5 1210.3 1645.0 1210.0C1648.7 1209.8 1651.5 1208.1 1655.0 1208.0C1658.9 1207.9 1663.9 1209.1 1667.5 1210.0C1670.3 1210.7 1673.6 1213.3 1675.0 1212.5C1676.1 1211.9 1675.9 1207.5 1676.2 1207.5C1676.8 1207.5 1677.1 1221.2 1677.5 1221.2C1677.9 1221.3 1678.2 1210.0 1678.8 1210.0C1679.1 1210.0 1679.3 1214.9 1680.0 1215.0C1680.8 1215.1 1682.3 1207.7 1683.8 1207.5C1684.9 1207.3 1685.9 1210.1 1687.5 1211.2C1689.5 1212.7 1692.6 1212.9 1695.0 1215.0C1698.5 1218.1 1701.7 1226.0 1705.0 1230.0C1707.5 1233.1 1709.9 1237.6 1712.5 1237.5C1715.7 1237.3 1719.5 1229.3 1722.5 1225.0C1725.3 1220.9 1726.4 1215.6 1730.0 1212.5C1733.8 1209.2 1740.0 1208.1 1745.0 1206.2C1750.0 1204.4 1755.2 1203.8 1760.0 1201.2C1765.2 1198.5 1769.6 1193.7 1775.0 1190.0C1781.1 1185.8 1788.7 1177.0 1795.0 1177.5C1801.2 1178.0 1806.8 1187.9 1812.5 1192.5C1817.6 1196.6 1822.1 1200.8 1827.5 1203.8C1832.9 1206.7 1839.3 1208.9 1845.0 1210.0C1850.1 1211.0 1855.0 1210.3 1860.0 1210.5M2212.5 100.5C2216.7 100.3 2220.6 100.1 2225.0 100.0C2229.8 99.9 2235.5 100.5 2240.0 100.0C2243.7 99.5 2246.8 98.6 2250.0 97.5C2253.1 96.5 2256.1 93.6 2258.8 93.8C2261.1 93.9 2262.8 96.2 2265.0 97.5C2267.4 98.9 2269.6 101.1 2272.5 102.0C2276.0 103.1 2282.3 100.1 2285.0 102.5C2288.4 105.6 2287.2 122.5 2288.0 122.5C2289.0 122.5 2289.2 91.3 2290.0 91.2C2290.5 91.2 2291.1 105.0 2291.8 105.0C2292.5 105.0 2293.5 87.5 2294.5 87.5C2295.5 87.5 2296.3 99.7 2297.5 105.0C2298.6 109.6 2299.6 114.7 2301.2 117.5C2302.3 119.3 2303.9 121.6 2305.0 121.2C2306.9 120.7 2307.6 111.3 2308.8 105.0C2310.2 96.6 2310.8 84.2 2312.5 75.0C2314.0 67.1 2316.2 53.0 2318.0 53.0C2319.6 53.0 2321.2 63.5 2322.5 70.0C2324.2 78.5 2324.7 91.4 2326.2 100.0C2327.5 106.7 2328.3 116.8 2330.5 117.5C2331.7 117.9 2333.3 115.3 2335.0 113.8C2337.2 111.7 2339.6 108.0 2342.5 106.2C2345.4 104.5 2349.0 104.0 2352.5 103.0C2356.4 101.9 2361.1 101.4 2365.0 100.0C2368.6 98.7 2371.8 97.0 2375.0 95.0C2378.4 92.9 2381.7 89.4 2385.0 87.5C2387.9 85.8 2391.1 83.8 2393.8 83.8C2396.0 83.7 2398.0 84.8 2400.0 86.2C2402.6 88.1 2404.9 92.3 2407.5 95.0C2409.9 97.5 2412.4 100.6 2415.0 102.0C2417.0 103.1 2419.2 104.0 2421.2 103.8C2423.4 103.5 2424.9 100.7 2427.5 100.0C2430.9 99.1 2435.5 100.1 2440.0 100.0C2445.3 99.9 2451.7 99.7 2457.5 99.5C2463.3 99.3 2469.7 99.0 2475.0 98.8C2479.5 98.5 2483.3 98.1 2487.5 98.0C2491.7 97.9 2495.8 98.2 2500.0 98.2M2212.5 181.2C2215.8 180.8 2219.5 181.1 2222.5 180.0C2225.3 179.0 2227.2 175.4 2230.0 175.0C2233.0 174.6 2236.7 178.0 2240.0 178.0C2243.3 178.0 2246.9 175.2 2250.0 175.0C2252.7 174.8 2255.0 175.5 2257.5 176.2C2260.0 177.0 2262.6 178.2 2265.0 179.5C2267.6 180.9 2269.5 183.5 2272.5 184.5C2276.0 185.6 2282.4 186.4 2285.0 185.0C2286.7 184.1 2287.3 179.8 2288.0 180.0C2289.0 180.2 2287.9 192.3 2288.8 192.5C2289.5 192.6 2290.7 184.8 2292.5 183.8C2293.8 183.0 2296.0 183.7 2297.5 184.5C2299.4 185.5 2300.9 188.1 2302.5 190.0C2304.2 192.0 2306.0 196.5 2307.5 196.2C2309.5 195.9 2311.0 187.0 2312.5 182.5C2313.9 178.3 2315.0 173.8 2316.2 170.0C2317.3 166.8 2318.5 161.2 2319.5 161.2C2320.5 161.3 2321.6 166.4 2322.5 170.0C2323.9 175.3 2324.9 184.1 2326.2 190.0C2327.3 194.7 2328.2 202.4 2329.5 202.5C2330.7 202.6 2331.8 195.1 2333.8 192.5C2335.4 190.3 2337.3 188.8 2340.0 187.5C2343.8 185.7 2350.0 185.4 2355.0 184.5C2360.0 183.6 2364.8 182.7 2370.0 182.0C2375.6 181.2 2382.2 179.9 2387.5 180.0C2392.0 180.1 2396.1 181.2 2400.0 182.0C2403.5 182.7 2406.9 183.8 2410.0 184.5C2412.7 185.1 2415.0 186.4 2417.5 186.2C2420.0 186.1 2422.2 184.6 2425.0 183.8C2428.6 182.6 2433.3 180.8 2437.5 180.0C2441.6 179.2 2445.3 178.9 2450.0 178.8C2455.9 178.6 2464.5 179.8 2470.0 179.5C2473.9 179.3 2476.7 178.7 2480.0 178.0C2483.4 177.2 2486.6 175.3 2490.0 175.0C2493.3 174.7 2496.7 175.8 2500.0 176.2M2212.5 276.2C2215.8 275.8 2219.5 275.8 2222.5 275.0C2225.2 274.3 2227.3 272.3 2230.0 272.0C2233.1 271.7 2236.7 273.6 2240.0 273.8C2243.3 273.9 2246.8 272.3 2250.0 273.0C2253.5 273.8 2256.6 278.3 2260.0 278.8C2263.2 279.2 2266.3 276.5 2270.0 276.2C2274.5 275.9 2281.9 280.0 2285.0 277.5C2288.8 274.4 2287.2 255.0 2288.0 255.0C2288.9 255.0 2289.2 285.0 2290.0 285.0C2290.5 285.0 2291.1 272.5 2291.8 272.5C2292.6 272.5 2293.5 292.5 2294.5 292.5C2295.5 292.5 2296.1 278.0 2297.5 272.5C2298.5 268.5 2299.9 262.6 2301.2 262.5C2302.4 262.4 2303.9 266.7 2305.0 270.0C2307.0 275.8 2308.1 287.8 2310.0 295.0C2311.5 300.7 2313.3 310.0 2315.0 310.0C2316.7 310.0 2318.2 299.4 2320.0 295.0C2321.5 291.3 2323.2 288.0 2325.0 285.0C2326.6 282.3 2328.0 279.5 2330.0 277.5C2331.8 275.6 2333.9 273.3 2336.2 273.0C2338.8 272.7 2341.6 275.6 2345.0 276.2C2349.3 277.1 2355.3 276.3 2360.0 277.0C2364.4 277.6 2368.4 278.5 2372.5 280.0C2376.8 281.6 2381.1 284.1 2385.0 286.2C2388.6 288.3 2392.2 292.1 2395.0 292.5C2396.9 292.8 2398.1 292.1 2400.0 291.2C2402.9 289.9 2406.1 285.6 2410.0 283.8C2414.3 281.7 2420.0 281.2 2425.0 280.0C2430.0 278.8 2435.0 277.1 2440.0 276.2C2445.0 275.4 2449.6 275.1 2455.0 275.0C2461.2 274.9 2468.9 276.8 2475.0 276.2C2480.4 275.8 2485.5 272.8 2490.0 272.5C2493.6 272.3 2496.7 273.3 2500.0 273.8M2212.5 382.5C2215.8 382.9 2219.4 383.1 2222.5 383.8C2225.2 384.4 2227.3 386.0 2230.0 386.2C2233.1 386.6 2236.7 384.7 2240.0 385.0C2243.4 385.3 2246.9 387.4 2250.0 388.0C2252.7 388.5 2255.1 389.2 2257.5 388.8C2260.1 388.3 2262.5 386.3 2265.0 385.0C2267.5 383.7 2269.6 381.6 2272.5 380.8C2276.0 379.7 2282.4 382.2 2285.0 380.0C2287.6 377.8 2287.3 367.4 2288.0 367.5C2289.0 367.6 2288.5 395.0 2289.0 395.0C2289.4 395.0 2289.8 377.5 2290.5 377.5C2291.0 377.5 2291.3 386.5 2292.5 387.5C2293.1 388.0 2293.9 387.9 2294.5 387.5C2295.9 386.5 2296.3 380.5 2297.5 377.5C2298.6 374.8 2299.8 371.8 2301.2 370.0C2302.4 368.6 2303.8 366.8 2305.0 367.0C2306.4 367.2 2307.7 369.9 2308.8 372.5C2310.6 377.0 2311.3 386.1 2312.5 392.5C2313.6 398.5 2314.1 405.7 2315.5 410.0C2316.4 412.7 2317.8 416.4 2318.8 416.2C2320.3 416.1 2321.4 406.0 2322.5 400.0C2323.9 392.6 2324.7 381.6 2326.2 375.0C2327.3 370.5 2328.4 364.1 2330.0 363.8C2331.1 363.5 2332.5 366.0 2333.8 367.5C2335.4 369.5 2336.3 373.2 2338.8 375.0C2341.5 377.1 2345.9 377.7 2350.0 378.8C2354.6 379.9 2360.6 380.1 2365.0 381.2C2368.7 382.2 2371.7 383.6 2375.0 385.0C2378.4 386.4 2381.7 388.4 2385.0 389.5C2388.0 390.4 2391.1 391.5 2393.8 391.2C2396.0 391.0 2397.7 389.9 2400.0 388.8C2403.0 387.2 2406.9 384.3 2410.0 382.5C2412.6 381.0 2414.8 379.0 2417.5 378.8C2420.6 378.5 2423.9 381.2 2427.5 382.0C2431.4 382.9 2435.6 383.3 2440.0 383.8C2444.8 384.2 2449.6 384.5 2455.0 384.5C2461.2 384.5 2468.8 383.4 2475.0 383.8C2480.4 384.1 2485.5 385.7 2490.0 386.2C2493.7 386.7 2496.7 386.8 2500.0 387.0M2212.5 481.2C2216.7 481.5 2221.1 481.7 2225.0 482.0C2228.5 482.3 2231.7 483.1 2235.0 483.0C2238.3 482.9 2241.9 481.8 2245.0 481.2C2247.7 480.8 2250.0 480.7 2252.5 480.0C2255.0 479.3 2257.5 477.0 2260.0 477.0C2262.5 477.0 2265.0 479.3 2267.5 480.0C2270.0 480.7 2272.3 480.9 2275.0 481.2C2278.1 481.6 2282.7 479.8 2285.0 482.0C2288.5 485.3 2287.2 505.0 2288.0 505.0C2289.0 505.0 2289.3 470.0 2290.0 470.0C2290.6 470.0 2291.0 492.5 2291.8 492.5C2292.5 492.5 2293.5 467.5 2294.5 467.5C2295.4 467.5 2296.2 484.6 2297.5 490.0C2298.2 493.2 2298.7 496.1 2300.0 497.5C2300.8 498.4 2302.1 499.1 2303.0 498.8C2304.5 498.1 2305.3 493.7 2306.2 490.0C2307.8 483.9 2308.6 472.6 2310.0 465.0C2311.2 458.6 2312.1 451.6 2313.8 447.5C2314.7 445.0 2316.0 442.0 2317.0 442.0C2318.0 442.0 2319.1 445.0 2320.0 447.5C2321.6 452.0 2322.4 461.2 2323.8 467.5C2324.9 473.2 2325.6 479.8 2327.5 483.8C2328.8 486.5 2330.4 489.5 2332.5 490.0C2334.6 490.5 2337.3 487.4 2340.0 486.2C2343.1 485.0 2346.3 483.8 2350.0 483.0C2354.5 482.0 2360.6 482.6 2365.0 481.2C2368.8 480.1 2371.7 478.1 2375.0 476.2C2378.4 474.4 2381.6 471.8 2385.0 470.0C2388.3 468.3 2391.9 465.3 2395.0 465.5C2397.7 465.7 2399.9 468.1 2402.5 470.0C2405.7 472.3 2409.2 476.9 2412.5 478.8C2415.0 480.2 2417.5 481.1 2420.0 481.2C2422.5 481.4 2424.7 480.1 2427.5 480.0C2431.1 479.9 2435.5 480.9 2440.0 481.2C2445.3 481.6 2451.7 482.2 2457.5 482.0C2463.3 481.8 2469.4 480.1 2475.0 480.0C2480.2 479.9 2485.5 480.9 2490.0 481.2C2493.7 481.5 2496.7 481.8 2500.0 482.0M2212.5 550.5C2216.7 549.5 2221.2 548.5 2225.0 547.5C2228.2 546.7 2230.8 545.0 2233.8 545.0C2236.7 545.0 2239.7 547.3 2242.5 547.5C2245.1 547.6 2247.4 546.0 2250.0 546.2C2253.1 546.6 2256.6 549.0 2260.0 550.0C2263.3 551.0 2266.6 552.0 2270.0 552.5C2273.3 553.0 2277.2 553.4 2280.0 553.2C2282.0 553.2 2283.7 553.7 2285.0 552.5C2287.0 550.6 2287.2 539.9 2288.0 540.0C2289.0 540.1 2289.2 560.0 2290.0 560.0C2290.6 560.0 2291.4 547.5 2292.0 547.5C2292.6 547.5 2292.8 559.4 2293.8 559.5C2294.7 559.6 2295.7 548.1 2297.5 547.5C2298.6 547.1 2300.2 548.6 2301.2 550.0C2302.9 552.1 2303.7 556.9 2305.0 560.0C2306.2 562.7 2307.2 566.1 2308.8 567.5C2309.8 568.4 2311.4 569.3 2312.5 568.8C2314.4 567.9 2315.4 560.7 2317.0 557.5C2318.3 554.8 2319.9 550.5 2321.2 550.5C2322.5 550.5 2323.7 554.2 2325.0 556.2C2326.5 558.6 2328.1 563.8 2329.5 563.8C2331.0 563.7 2331.7 556.9 2333.8 555.0C2335.4 553.4 2337.4 553.0 2340.0 552.5C2343.9 551.8 2350.0 552.4 2355.0 552.5C2360.0 552.6 2365.0 552.6 2370.0 553.0C2375.0 553.4 2380.5 554.1 2385.0 555.0C2388.7 555.7 2391.9 557.4 2395.0 557.5C2397.7 557.6 2399.7 556.8 2402.5 556.2C2406.1 555.6 2410.6 554.5 2415.0 553.8C2419.8 552.9 2425.0 552.0 2430.0 551.2C2435.0 550.5 2440.0 549.9 2445.0 549.5C2450.0 549.1 2455.0 548.8 2460.0 548.8C2465.0 548.8 2470.0 550.0 2475.0 549.5C2480.0 549.0 2485.5 545.9 2490.0 545.5C2493.6 545.2 2496.7 546.0 2500.0 546.2M2212.5 642.5C2216.7 642.3 2221.1 642.5 2225.0 642.0C2228.5 641.6 2231.9 639.8 2235.0 640.0C2237.7 640.2 2240.1 641.2 2242.5 642.5C2245.1 644.0 2247.5 647.0 2250.0 648.8C2252.1 650.3 2254.1 652.3 2256.2 652.5C2258.3 652.7 2260.3 651.0 2262.5 650.0C2264.9 648.9 2267.0 647.0 2270.0 646.2C2274.1 645.3 2281.8 649.0 2285.0 646.2C2289.1 642.8 2287.8 622.5 2288.8 622.5C2289.8 622.6 2289.8 657.5 2290.5 657.5C2290.9 657.5 2291.5 645.0 2292.0 645.0C2292.6 645.0 2292.8 667.4 2293.8 667.5C2294.7 667.5 2295.6 651.8 2297.5 647.5C2298.6 645.1 2300.0 642.5 2301.2 642.5C2302.5 642.5 2303.9 645.1 2305.0 647.5C2307.1 651.8 2308.6 660.4 2310.0 667.5C2311.6 675.3 2312.1 685.1 2313.8 692.5C2315.1 698.6 2317.1 708.8 2318.8 708.8C2320.9 708.7 2323.3 689.3 2325.0 680.0C2326.6 671.4 2326.5 660.7 2328.8 655.0C2330.1 651.6 2331.5 649.4 2333.8 647.5C2336.1 645.6 2339.3 644.2 2342.5 643.8C2346.2 643.3 2350.7 644.6 2355.0 645.5C2359.8 646.5 2365.3 647.8 2370.0 649.5C2374.4 651.1 2378.4 652.7 2382.5 655.0C2386.8 657.4 2390.9 663.2 2395.0 663.8C2398.4 664.2 2401.6 661.7 2405.0 660.0C2409.0 658.1 2413.2 654.4 2417.5 652.5C2421.6 650.7 2425.6 649.7 2430.0 648.8C2434.7 647.8 2440.0 647.5 2445.0 647.0C2450.0 646.5 2455.0 645.7 2460.0 645.5C2465.0 645.3 2470.0 646.0 2475.0 645.5C2480.0 645.0 2485.5 643.1 2490.0 642.5C2493.7 642.0 2496.7 642.2 2500.0 642.0M2212.5 791.2C2215.8 790.8 2219.2 790.6 2222.5 790.0C2225.9 789.4 2229.2 787.1 2232.5 787.5C2235.9 787.9 2239.0 790.8 2242.5 792.5C2246.4 794.3 2251.0 797.8 2255.0 798.0C2258.5 798.2 2261.7 795.1 2265.0 795.0C2268.3 794.9 2271.6 797.3 2275.0 797.5C2278.3 797.7 2282.7 798.3 2285.0 796.2C2288.0 793.6 2287.8 779.9 2288.8 780.0C2290.0 780.1 2289.6 810.0 2290.5 810.0C2291.1 810.0 2291.8 797.5 2292.5 797.5C2293.3 797.5 2294.0 811.2 2295.0 811.2C2296.1 811.3 2297.5 800.3 2298.8 795.0C2300.0 789.9 2301.3 785.4 2302.5 780.0C2303.8 773.8 2305.2 767.1 2306.2 760.0C2307.4 752.2 2307.7 741.9 2308.8 735.0C2309.5 730.1 2310.4 722.5 2311.2 722.5C2312.1 722.5 2313.0 730.1 2313.8 735.0C2314.8 741.9 2315.3 750.8 2316.2 760.0C2317.4 771.2 2318.8 785.0 2320.0 797.5C2321.2 810.0 2322.6 822.6 2323.8 835.0C2324.9 847.2 2325.7 871.2 2327.0 871.2C2327.9 871.3 2329.0 861.0 2330.0 855.0C2331.2 847.6 2332.4 837.6 2333.8 830.0C2334.9 823.6 2335.3 816.9 2337.5 812.5C2339.1 809.2 2341.0 806.3 2343.8 805.0C2346.7 803.6 2351.2 804.4 2355.0 805.0C2359.1 805.6 2363.7 807.0 2367.5 808.8C2371.1 810.4 2374.1 812.3 2377.5 815.0C2381.6 818.3 2386.3 822.7 2390.0 827.5C2393.9 832.6 2396.6 839.2 2400.0 845.0C2403.3 850.7 2406.9 862.0 2410.0 862.0C2412.6 862.0 2415.3 854.9 2417.5 850.0C2420.5 843.3 2422.4 832.8 2425.0 825.0C2427.4 817.9 2429.1 810.2 2432.5 805.0C2435.3 800.7 2438.4 796.9 2442.5 795.0C2446.7 793.0 2452.7 794.4 2457.5 793.8C2461.9 793.1 2465.6 791.9 2470.0 791.2C2474.8 790.5 2480.0 789.9 2485.0 789.5C2490.0 789.1 2495.0 789.0 2500.0 788.8M2212.5 930.0C2219.2 928.8 2226.7 925.4 2232.5 926.2C2237.3 926.9 2241.0 930.8 2245.0 932.5C2248.5 934.0 2251.6 936.1 2255.0 936.2C2258.3 936.4 2261.7 933.8 2265.0 933.8C2268.3 933.8 2271.6 935.7 2275.0 936.2C2278.3 936.8 2282.7 938.8 2285.0 937.0C2288.3 934.5 2287.8 917.4 2288.8 917.5C2289.9 917.6 2289.8 952.5 2290.5 952.5C2291.0 952.5 2291.4 937.5 2292.0 937.5C2292.7 937.5 2293.6 956.2 2294.5 956.2C2295.4 956.3 2296.0 943.0 2297.5 937.5C2298.8 932.8 2301.2 929.0 2302.5 925.0C2303.6 921.5 2304.3 918.8 2305.0 915.0C2306.0 910.0 2306.4 903.5 2307.5 897.5C2308.7 891.0 2310.6 877.5 2312.0 877.5C2313.1 877.5 2314.1 884.8 2315.0 890.0C2316.5 898.3 2317.5 911.3 2318.8 922.5C2320.0 934.5 2321.2 947.7 2322.5 960.0C2323.7 971.9 2324.9 988.1 2326.2 995.0C2326.8 998.0 2327.4 1001.3 2328.0 1001.2C2329.1 1001.2 2330.1 987.4 2331.2 980.0C2332.5 972.0 2332.9 961.1 2335.0 955.0C2336.3 951.2 2337.5 947.9 2340.0 946.2C2342.5 944.6 2346.3 944.9 2350.0 945.0C2354.5 945.1 2360.4 945.8 2365.0 947.5C2369.5 949.2 2373.5 951.9 2377.5 955.0C2381.9 958.4 2386.3 962.9 2390.0 967.5C2393.8 972.1 2396.5 977.4 2400.0 982.5C2403.6 987.8 2407.8 998.8 2411.2 998.8C2414.4 998.7 2417.5 990.5 2420.0 985.0C2423.2 978.1 2424.4 967.7 2427.5 960.0C2430.3 952.8 2433.1 944.4 2437.5 940.0C2441.0 936.5 2445.4 935.4 2450.0 933.8C2455.2 931.8 2461.6 930.6 2467.5 929.5C2473.3 928.4 2479.4 927.7 2485.0 927.0C2490.2 926.4 2495.0 926.0 2500.0 925.5M2212.5 1068.8C2215.8 1068.2 2219.2 1067.6 2222.5 1067.0C2225.8 1066.4 2229.2 1064.8 2232.5 1065.0C2235.9 1065.2 2239.0 1067.0 2242.5 1068.0C2246.4 1069.1 2251.0 1070.9 2255.0 1071.2C2258.5 1071.6 2261.7 1070.2 2265.0 1070.5C2268.4 1070.8 2271.6 1072.8 2275.0 1073.2C2278.3 1073.7 2282.7 1074.8 2285.0 1073.2C2287.3 1071.7 2287.8 1063.6 2288.8 1063.8C2289.8 1063.9 2289.9 1078.7 2290.5 1078.8C2291.0 1078.8 2291.5 1070.0 2292.0 1070.0C2292.5 1070.0 2292.7 1078.6 2293.8 1078.8C2294.7 1078.9 2296.3 1074.7 2297.5 1072.5C2298.8 1070.1 2300.1 1067.9 2301.2 1065.0C2302.7 1061.4 2303.9 1057.4 2305.0 1052.5C2306.5 1045.6 2307.5 1035.8 2308.8 1027.5C2310.0 1019.2 2311.4 1010.4 2312.5 1002.5C2313.5 995.5 2313.9 982.6 2315.0 982.5C2316.0 982.4 2317.8 991.6 2318.8 997.5C2320.1 1005.7 2320.5 1016.9 2321.2 1027.5C2322.1 1039.3 2322.9 1053.2 2323.8 1065.0C2324.5 1075.6 2325.2 1086.4 2326.2 1095.0C2327.1 1101.6 2328.1 1112.5 2329.2 1112.5C2330.2 1112.5 2331.3 1104.2 2332.5 1100.0C2333.7 1095.8 2334.2 1090.5 2336.2 1087.5C2337.8 1085.1 2340.0 1083.7 2342.5 1082.5C2345.3 1081.2 2349.0 1080.6 2352.5 1080.5C2356.4 1080.3 2360.7 1081.0 2365.0 1082.0C2369.8 1083.2 2375.7 1085.1 2380.0 1087.5C2383.8 1089.6 2386.8 1092.1 2390.0 1095.0C2393.5 1098.2 2396.5 1102.7 2400.0 1106.2C2403.5 1109.8 2407.8 1116.4 2411.2 1116.2C2414.4 1116.2 2417.4 1111.1 2420.0 1107.5C2423.0 1103.4 2424.6 1097.4 2427.5 1092.5C2430.5 1087.4 2433.4 1081.1 2437.5 1077.5C2441.1 1074.3 2445.4 1072.8 2450.0 1071.2C2455.2 1069.5 2461.7 1069.0 2467.5 1068.0C2473.3 1067.0 2479.4 1065.9 2485.0 1065.0C2490.2 1064.2 2495.0 1063.7 2500.0 1063.0M2212.5 1180.0C2215.8 1179.6 2219.4 1179.4 2222.5 1178.8C2225.2 1178.1 2227.3 1176.4 2230.0 1176.2C2233.1 1176.1 2236.3 1178.0 2240.0 1178.8C2244.5 1179.7 2250.5 1180.9 2255.0 1181.2C2258.7 1181.6 2261.7 1181.0 2265.0 1181.2C2268.3 1181.5 2271.7 1182.7 2275.0 1183.0C2278.3 1183.3 2282.9 1184.5 2285.0 1183.0C2286.9 1181.6 2286.9 1174.9 2287.5 1175.0C2288.4 1175.1 2288.0 1192.4 2288.8 1192.5C2289.4 1192.6 2289.4 1184.3 2291.2 1182.5C2292.7 1181.1 2295.7 1182.3 2297.5 1181.2C2299.5 1180.0 2301.3 1177.5 2302.5 1175.0C2303.9 1172.2 2304.3 1169.1 2305.0 1165.0C2306.1 1158.6 2306.7 1148.3 2307.5 1140.0C2308.3 1131.7 2309.1 1122.9 2310.0 1115.0C2310.8 1108.0 2311.2 1100.0 2312.5 1095.0C2313.3 1091.8 2314.6 1087.4 2315.5 1087.5C2316.8 1087.6 2317.9 1096.3 2318.8 1102.5C2320.1 1112.1 2320.4 1127.5 2321.2 1140.0C2322.1 1152.5 2322.8 1166.3 2323.8 1177.5C2324.5 1186.7 2325.0 1195.6 2326.2 1202.5C2327.1 1207.4 2328.4 1215.0 2329.5 1215.0C2330.5 1215.0 2331.4 1208.3 2332.5 1205.0C2333.6 1201.6 2334.4 1197.6 2336.2 1195.0C2337.9 1192.8 2339.9 1191.1 2342.5 1190.0C2345.8 1188.7 2350.6 1189.0 2355.0 1188.8C2359.8 1188.5 2365.2 1188.5 2370.0 1188.8C2374.4 1189.0 2378.7 1188.5 2382.5 1190.0C2386.2 1191.5 2389.3 1194.7 2392.5 1197.5C2395.9 1200.5 2399.1 1204.9 2402.5 1207.5C2405.4 1209.7 2408.4 1212.8 2411.2 1212.5C2414.3 1212.2 2417.2 1208.2 2420.0 1205.0C2423.5 1201.0 2426.3 1193.9 2430.0 1190.0C2433.1 1186.7 2436.1 1184.2 2440.0 1182.5C2444.3 1180.6 2449.6 1180.3 2455.0 1179.5C2461.2 1178.6 2468.8 1178.3 2475.0 1177.5C2480.4 1176.8 2485.5 1175.3 2490.0 1175.0C2493.7 1174.8 2496.7 1175.3 2500.0 1175.5M2212.5 1260.0C2216.7 1259.6 2220.6 1258.9 2225.0 1258.8C2229.8 1258.6 2235.0 1259.8 2240.0 1259.5C2245.0 1259.2 2250.5 1257.0 2255.0 1257.0C2258.7 1257.0 2261.7 1258.2 2265.0 1258.8C2268.3 1259.3 2271.7 1260.0 2275.0 1260.5C2278.3 1261.0 2282.9 1263.5 2285.0 1262.0C2287.3 1260.4 2286.9 1250.0 2287.5 1250.0C2288.3 1250.1 2287.9 1272.4 2288.8 1272.5C2289.4 1272.5 2290.0 1263.1 2291.2 1260.0C2292.1 1257.9 2293.4 1254.9 2294.5 1255.0C2295.9 1255.1 2297.3 1261.5 2298.8 1265.0C2300.4 1268.9 2301.9 1274.0 2303.8 1277.5C2305.3 1280.3 2307.3 1284.7 2308.8 1284.5C2310.8 1284.1 2312.2 1272.7 2313.8 1267.5C2315.1 1263.0 2315.6 1257.6 2317.5 1255.0C2318.7 1253.3 2320.6 1251.8 2322.0 1252.0C2323.6 1252.3 2324.8 1255.9 2326.2 1257.5C2327.5 1258.9 2328.3 1260.5 2330.0 1261.2C2332.4 1262.2 2336.3 1261.5 2340.0 1261.2C2344.5 1261.0 2350.0 1260.2 2355.0 1259.5C2360.0 1258.8 2365.3 1258.2 2370.0 1257.0C2374.4 1255.8 2378.6 1254.2 2382.5 1252.5C2386.1 1251.0 2389.3 1249.0 2392.5 1247.5C2395.5 1246.1 2398.3 1244.1 2401.2 1243.8C2404.1 1243.5 2407.1 1244.4 2410.0 1245.5C2413.3 1246.7 2416.7 1249.3 2420.0 1251.2C2423.4 1253.3 2426.2 1256.1 2430.0 1257.5C2434.3 1259.1 2439.8 1259.1 2445.0 1259.5C2450.6 1260.0 2456.7 1260.0 2462.5 1260.0C2468.3 1260.0 2474.0 1259.6 2480.0 1259.5C2486.4 1259.4 2493.3 1259.5 2500.0 1259.5" stroke="#111" stroke-width="2.6" fill="none" stroke-linejoin="round" stroke-linecap="round"/>
<path d="M1311.2 121.5L1312.7 122.6L1314.2 121.9L1315.7 121.6L1317.2 122.8L1318.8 122.0L1320.4 121.9L1322.0 123.0L1323.6 121.8L1325.2 122.8L1326.8 123.0L1328.4 121.9L1330.0 123.3L1331.6 122.9L1333.1 122.1L1334.6 123.5L1336.0 123.1L1337.4 122.3L1338.7 123.4L1339.9 123.3L1341.1 122.4L1342.2 122.5L1343.2 123.3L1344.2 123.2L1345.0 122.2L1346.9 121.8L1348.3 122.1L1350.0 120.3L1351.2 120.2L1352.4 120.5L1353.8 119.2L1355.3 117.9L1356.8 118.8L1358.3 117.3L1359.8 116.5L1361.2 117.7L1362.5 117.0L1363.8 116.9L1365.2 118.6L1366.4 119.3L1367.7 119.5L1368.9 121.1L1370.1 122.8L1371.3 123.0L1372.5 123.2L1374.0 124.6L1375.4 124.9L1376.8 124.0L1378.3 125.5L1380.0 125.2L1381.3 124.4L1382.7 125.4L1384.2 125.4L1385.7 124.5L1387.3 125.8L1388.8 125.1L1390.4 124.6L1392.0 125.8L1393.5 124.8L1395.0 124.7L1396.7 125.7L1398.4 124.6L1400.1 125.3L1401.8 125.4L1403.5 124.4L1405.0 125.5L1406.3 124.8L1407.5 123.6L1408.7 123.4L1409.6 123.1L1410.4 121.7L1411.2 119.7L1411.9 118.3L1412.6 117.3L1413.3 116.5L1414.0 115.8L1414.7 114.2L1415.4 112.0L1416.1 110.0L1416.8 108.6L1417.5 107.7L1418.1 106.7L1418.7 105.5L1419.2 103.9L1419.8 101.9L1420.3 100.2L1420.9 98.6L1421.4 97.5L1422.0 96.5L1422.5 95.8L1423.1 94.4L1423.8 92.8L1424.5 90.8L1425.2 89.3L1426.0 88.4L1426.8 87.9L1427.6 86.6L1428.4 85.0L1429.2 83.1L1430.0 82.0L1430.8 81.4L1431.7 80.3L1432.5 78.7L1433.3 76.2L1434.2 74.7L1435.2 74.7L1436.2 74.4L1437.6 73.2L1439.0 72.9L1440.6 74.2L1442.2 73.6L1443.7 73.8L1445.0 75.0L1446.8 73.5L1448.4 73.6L1450.0 73.5L1451.6 71.5L1453.2 72.2L1454.8 71.2L1456.2 70.4L1457.6 72.0L1458.9 72.8L1460.0 73.3L1460.7 74.1L1461.4 75.9L1462.0 78.2L1462.6 79.7L1463.2 81.1L1463.8 82.3L1464.1 83.4L1464.5 84.6L1464.8 85.5L1465.1 87.1L1465.4 88.6L1465.7 90.4L1466.0 92.2L1466.3 94.2L1466.6 95.8L1466.9 97.5L1467.2 99.1L1467.5 100.4L1467.8 101.5L1468.1 102.9L1468.4 103.8L1468.7 105.1L1469.0 106.6L1469.3 108.1L1469.6 109.8L1469.9 111.3L1470.2 113.2L1470.5 115.1L1470.8 116.5L1471.2 118.3L1471.5 119.7L1471.8 120.7L1472.2 121.6L1472.5 122.5L1473.0 123.8L1473.5 125.1L1474.0 126.9L1474.6 128.8L1475.3 130.7L1476.2 131.8L1477.4 131.7L1478.7 132.5L1480.1 134.4L1481.7 133.6L1483.3 134.4L1485.0 135.4L1486.3 134.8L1487.8 135.4L1489.3 136.2L1490.8 135.2L1492.4 136.1L1494.0 136.8L1495.6 135.6L1497.1 136.9L1498.6 137.0L1500.0 136.5L1501.5 137.8L1503.0 138.1L1504.5 137.6L1505.8 139.0L1507.2 139.5L1508.6 139.0L1510.0 139.9L1511.4 140.9L1512.8 140.3L1514.1 141.1L1515.5 142.6L1516.9 141.8L1518.2 142.1L1519.5 143.2L1521.2 142.0L1522.9 141.7L1524.5 142.1L1526.1 140.1L1527.5 140.1L1528.6 139.7L1529.6 138.3L1530.5 136.5L1531.4 135.5L1532.5 135.5L1533.6 134.6L1534.7 132.7L1536.0 132.0L1537.3 132.1L1538.6 130.3L1539.9 128.7L1541.2 128.9L1542.5 128.0L1543.8 126.0L1545.0 125.5L1546.3 125.0L1547.5 123.3L1548.8 121.9L1550.0 121.8L1551.3 121.1L1552.5 119.5L1554.0 119.4L1555.6 119.3L1557.1 117.6L1558.6 118.3L1560.0 118.5L1561.7 117.2L1563.4 119.1L1565.0 118.6M1311.2 213.4L1312.7 212.8L1314.1 212.0L1315.5 212.4L1316.9 212.0L1318.3 211.2L1319.7 211.5L1321.1 211.0L1322.5 210.0L1324.0 210.2L1325.4 209.7L1326.8 208.4L1328.2 208.0L1329.7 207.9L1331.1 206.9L1332.5 206.9L1333.9 207.6L1335.4 207.3L1336.8 207.9L1338.3 209.0L1339.7 209.0L1341.1 209.7L1342.5 210.4L1344.0 209.7L1345.5 209.5L1347.0 209.7L1348.4 208.7L1350.0 208.6L1351.4 209.0L1352.8 208.1L1354.3 207.9L1355.8 208.3L1357.2 207.6L1358.7 207.6L1360.0 208.3L1361.6 208.3L1363.1 208.8L1364.5 210.1L1366.0 210.2L1367.5 211.2L1368.9 212.4L1370.2 212.5L1371.7 213.2L1373.1 214.7L1374.6 215.0L1376.0 215.5L1377.5 216.6L1378.9 216.6L1380.2 216.6L1381.6 217.4L1383.0 217.4L1384.4 217.0L1385.9 217.8L1387.5 217.6L1388.9 217.2L1390.3 217.8L1391.9 217.7L1393.5 217.4L1395.1 218.1L1396.7 217.5L1398.3 217.5L1399.8 218.0L1401.2 217.3L1402.6 217.0L1403.8 217.3L1405.3 216.5L1406.6 215.7L1407.8 215.6L1408.9 215.0L1410.0 213.5L1411.0 212.3L1411.9 211.5L1412.7 210.7L1413.5 209.3L1414.3 207.5L1415.0 205.8L1415.7 204.5L1416.3 203.3L1416.9 202.0L1417.5 200.5L1418.1 198.9L1418.8 197.4L1419.8 195.6L1420.9 195.1L1422.0 195.0L1422.8 195.2L1423.5 196.2L1424.2 197.9L1425.0 200.0L1425.6 201.8L1426.3 203.4L1426.9 205.1L1427.6 206.5L1428.3 207.8L1428.9 208.9L1429.5 209.6L1430.1 209.4L1430.7 208.2L1431.3 206.2L1431.9 204.0L1432.5 202.2L1433.0 200.8L1433.5 199.4L1434.0 198.2L1434.5 196.9L1435.1 195.4L1435.6 193.9L1436.2 192.4L1437.1 190.6L1438.0 189.5L1439.0 188.9L1440.0 188.1L1441.2 187.8L1442.4 188.9L1443.7 190.6L1445.0 191.2L1446.0 191.9L1447.0 193.3L1448.0 194.8L1449.0 195.5L1450.0 196.0L1451.7 197.6L1453.4 198.4L1455.0 198.3L1456.3 198.4L1457.5 197.6L1458.8 195.9L1460.1 195.1L1461.6 194.6L1463.0 193.4L1464.1 193.8L1465.2 195.2L1466.4 196.4L1467.5 197.1L1468.2 198.0L1468.9 199.5L1469.7 201.0L1470.4 202.4L1471.1 203.4L1471.9 204.3L1472.6 205.8L1473.4 207.5L1474.2 209.1L1475.0 210.2L1475.9 211.2L1476.8 212.2L1477.7 213.7L1478.7 215.5L1479.6 216.6L1480.6 217.1L1481.6 218.1L1482.7 219.5L1483.8 220.4L1485.1 220.1L1486.5 220.6L1487.9 221.0L1489.4 220.2L1490.9 220.3L1492.5 220.9L1493.8 220.4L1495.1 220.8L1496.5 221.5L1497.9 221.3L1499.3 221.5L1500.8 222.5L1502.2 222.3L1503.6 222.4L1505.0 223.3L1506.4 223.3L1507.8 223.4L1509.3 224.4L1510.7 224.4L1512.2 224.4L1513.6 225.3L1514.9 225.5L1516.2 225.1L1517.5 225.5L1519.1 225.7L1520.6 224.8L1522.1 225.2L1523.5 224.8L1525.0 223.9L1526.4 224.1L1527.9 223.7L1529.4 222.5L1530.9 222.7L1532.4 222.2L1533.8 220.9L1535.1 220.6L1536.4 220.0L1537.6 218.5L1538.8 217.5L1540.0 217.4L1541.2 216.4L1542.5 215.1L1543.7 214.7L1544.9 214.7L1546.1 213.5L1547.5 212.7L1548.8 212.7L1550.2 212.1L1551.7 211.0L1553.2 211.0L1554.7 210.3L1556.1 209.4L1557.5 209.9L1559.1 209.4L1560.6 208.6L1562.0 209.2L1563.5 209.0L1565.0 208.5M1311.2 298.0L1312.7 298.2L1314.1 296.4L1315.5 296.5L1316.9 297.1L1318.3 295.5L1319.7 294.8L1321.1 295.8L1322.5 294.4L1324.0 293.4L1325.4 294.0L1326.8 292.7L1328.2 291.5L1329.7 292.5L1331.1 291.7L1332.5 290.7L1333.9 291.9L1335.4 291.9L1336.9 291.3L1338.3 293.0L1339.7 293.3L1341.1 292.8L1342.5 294.0L1344.1 294.0L1345.5 292.6L1347.0 293.2L1348.5 292.9L1350.0 291.6L1351.4 293.1L1352.7 294.0L1354.1 293.4L1355.5 295.3L1356.9 297.0L1358.4 296.2L1360.0 297.6L1361.4 298.6L1362.8 297.5L1364.3 298.4L1365.8 299.1L1367.4 297.7L1368.9 299.0L1370.5 298.8L1372.0 298.0L1373.5 299.4L1375.0 298.8L1376.6 298.3L1378.2 299.9L1379.8 299.1L1381.3 299.0L1382.9 300.5L1384.4 299.5L1385.9 299.6L1387.5 300.9L1389.1 299.3L1390.7 300.3L1392.3 300.7L1394.0 299.1L1395.5 300.5L1397.1 300.0L1398.6 299.0L1400.0 300.1L1401.7 299.0L1403.2 298.1L1404.8 299.2L1406.2 297.8L1407.5 297.7L1408.9 299.5L1410.2 300.5L1411.3 300.5L1412.5 302.6L1413.7 304.5L1414.9 304.6L1416.2 304.8L1417.6 306.2L1419.2 305.1L1420.7 304.0L1422.0 305.5L1422.6 306.5L1423.1 307.4L1423.5 308.2L1423.8 309.1L1424.0 310.8L1424.2 312.2L1424.4 313.9L1424.7 315.1L1425.0 316.9L1425.4 318.3L1425.8 320.4L1426.2 322.2L1426.6 323.9L1427.0 325.7L1427.4 326.6L1427.9 327.7L1428.3 328.6L1428.8 329.2L1429.4 330.8L1430.0 333.2L1430.7 335.3L1431.3 336.7L1432.0 336.5L1432.6 335.6L1433.2 333.9L1433.8 332.5L1434.4 330.9L1435.0 330.0L1435.6 328.3L1436.2 326.9L1437.1 323.9L1438.1 321.9L1439.0 321.5L1440.0 321.4L1441.2 321.1L1442.4 321.7L1443.8 324.1L1444.7 325.2L1445.7 325.7L1446.8 325.8L1447.9 327.7L1448.9 329.7L1450.0 330.0L1451.1 330.4L1452.2 332.3L1453.3 334.5L1454.4 334.7L1455.4 334.8L1456.2 335.5L1456.9 335.7L1457.4 335.4L1457.9 334.1L1458.3 332.3L1458.7 330.2L1459.1 327.9L1459.5 325.8L1460.0 324.3L1460.4 323.1L1460.7 322.1L1461.1 321.4L1461.5 320.6L1461.9 319.1L1462.3 317.9L1462.7 316.2L1463.0 314.5L1463.4 312.5L1463.8 311.1L1464.2 309.3L1464.6 308.1L1465.0 307.0L1465.4 305.9L1465.9 305.1L1466.3 303.7L1466.8 302.1L1467.2 300.3L1467.7 298.4L1468.1 296.5L1468.6 295.2L1469.0 293.9L1469.5 293.4L1470.0 292.9L1471.0 291.5L1472.0 288.8L1473.2 287.2L1474.4 288.1L1475.6 289.2L1477.0 288.7L1478.5 290.0L1480.0 291.3L1481.3 290.1L1482.7 290.5L1484.1 291.8L1485.6 290.5L1487.1 290.6L1488.6 292.0L1490.0 290.7L1491.4 291.0L1492.8 292.0L1494.1 291.0L1495.5 290.5L1496.9 291.9L1498.4 291.2L1500.0 290.7L1501.2 291.8L1502.6 291.4L1504.0 290.4L1505.4 291.4L1506.9 291.4L1508.5 290.3L1510.0 291.5L1511.5 290.7L1513.1 290.0L1514.6 291.3L1516.0 290.3L1517.4 289.8L1518.8 291.1L1520.0 290.8L1521.6 289.6L1523.2 291.3L1524.7 290.5L1526.2 289.8L1527.5 291.4L1528.8 291.4L1530.0 290.4L1531.4 292.2L1532.5 293.9L1533.6 293.9L1535.0 294.3L1536.2 295.7L1537.6 295.9L1539.0 295.0L1540.6 296.2L1542.1 296.0L1543.6 295.2L1545.0 296.7L1546.5 297.0L1548.0 296.5L1549.5 298.7L1551.0 298.9L1552.4 298.4L1553.8 299.8L1555.4 299.7L1557.0 297.7L1558.5 298.7L1560.0 297.4L1561.7 296.9L1563.3 298.2L1565.0 296.9M1311.2 398.5L1312.7 397.9L1314.1 398.1L1315.5 399.1L1316.9 398.5L1318.3 398.4L1319.7 399.6L1321.1 399.3L1322.5 399.0L1324.0 400.3L1325.4 400.2L1326.8 400.0L1328.2 401.1L1329.6 401.3L1331.0 400.6L1332.5 401.5L1333.9 401.5L1335.3 400.3L1336.7 400.6L1338.2 400.4L1339.6 398.9L1341.0 399.2L1342.4 399.3L1343.8 398.3L1345.3 398.7L1346.7 399.7L1348.2 399.1L1349.6 399.9L1351.1 400.9L1352.5 400.5L1354.0 401.2L1355.4 402.2L1356.8 402.1L1358.3 402.6L1359.8 403.6L1361.2 402.8L1362.5 402.3L1363.7 402.4L1364.9 401.4L1366.2 400.0L1367.4 399.5L1368.7 399.0L1370.0 397.2L1371.2 396.5L1372.5 396.7L1373.9 395.8L1375.3 395.1L1376.7 395.7L1378.1 395.5L1379.6 394.7L1381.0 395.5L1382.5 395.3L1384.0 394.6L1385.6 395.4L1387.1 395.0L1388.7 394.9L1390.4 396.0L1391.9 395.3L1393.5 395.3L1395.0 396.0L1396.5 395.0L1398.1 395.2L1399.6 395.4L1401.0 394.2L1402.5 394.3L1403.8 395.0L1405.0 394.5L1406.9 394.8L1408.5 396.3L1410.0 396.5L1410.9 397.6L1411.8 399.5L1412.6 401.1L1413.4 402.2L1414.2 403.0L1415.0 404.6L1415.7 406.2L1416.3 408.2L1416.9 409.7L1417.5 411.2L1418.1 412.3L1418.7 413.3L1419.4 414.7L1420.0 416.1L1420.9 418.2L1421.8 419.7L1422.7 420.2L1423.8 420.7L1425.4 421.5L1427.2 419.9L1428.8 419.8L1429.6 421.0L1430.4 422.4L1431.0 423.4L1431.7 424.6L1432.5 425.9L1433.4 427.6L1434.4 429.5L1435.4 430.5L1436.5 431.1L1437.5 432.3L1439.3 433.9L1441.2 433.3L1442.5 434.0L1443.9 433.5L1445.3 432.2L1446.9 432.4L1448.5 431.7L1450.0 430.7L1451.4 431.6L1453.0 431.4L1454.5 430.9L1456.1 431.8L1457.5 431.6L1458.9 431.1L1460.0 431.3L1461.5 430.7L1462.7 428.7L1463.8 427.1L1464.2 426.6L1464.6 425.7L1465.0 424.7L1465.3 423.2L1465.6 421.8L1465.9 420.2L1466.2 418.3L1466.4 416.6L1466.8 415.0L1467.1 413.5L1467.5 411.9L1468.0 410.7L1468.5 409.5L1468.9 408.3L1469.4 407.1L1470.0 405.7L1470.5 404.0L1471.1 402.3L1471.8 400.7L1472.5 399.7L1473.3 399.0L1474.1 397.9L1475.0 396.4L1475.9 394.7L1476.8 393.6L1477.8 393.2L1478.9 392.5L1480.0 390.9L1481.3 390.2L1482.7 390.6L1484.1 389.7L1485.6 389.1L1487.1 389.7L1488.5 388.9L1490.0 388.5L1491.4 388.9L1492.9 388.1L1494.3 387.2L1495.7 387.7L1497.1 387.0L1498.6 386.3L1500.0 386.6L1501.4 385.9L1502.9 384.9L1504.3 385.5L1505.7 384.8L1507.1 384.0L1508.6 384.4L1510.0 383.9L1511.4 382.9L1512.9 383.5L1514.4 383.2L1515.8 382.3L1517.3 382.7L1518.7 382.7L1520.0 382.0L1521.6 382.9L1523.1 383.2L1524.6 382.8L1526.1 384.1L1527.5 384.8L1528.8 384.7L1530.0 386.1L1531.2 387.4L1532.4 387.8L1533.7 388.6L1535.0 390.4L1536.2 391.3L1537.4 391.3L1538.6 392.5L1539.9 394.2L1541.2 394.4L1542.4 394.9L1543.7 396.5L1545.0 397.4L1546.4 397.4L1547.8 398.7L1549.2 399.9L1550.7 399.8L1552.1 400.8L1553.5 402.0L1555.0 401.5L1556.4 402.3L1557.8 402.8L1559.2 402.3L1560.7 402.4L1562.1 403.1L1563.6 402.3L1565.0 402.4M1311.2 521.8L1312.7 521.2L1314.1 521.3L1315.5 522.7L1316.9 522.3L1318.3 522.4L1319.7 523.9L1321.1 523.6L1322.5 523.0L1324.0 524.6L1325.4 524.5L1326.8 524.0L1328.2 525.4L1329.7 525.6L1331.1 525.1L1332.5 526.2L1333.9 526.3L1335.4 525.0L1336.8 525.6L1338.2 525.7L1339.6 524.3L1341.1 524.9L1342.5 525.2L1343.9 523.8L1345.4 524.0L1346.8 524.6L1348.2 523.2L1349.7 523.4L1351.1 523.8L1352.5 522.5L1353.9 522.2L1355.4 522.9L1356.8 521.3L1358.2 520.7L1359.6 521.1L1361.1 520.0L1362.5 519.6L1363.9 520.9L1365.3 520.3L1366.7 520.2L1368.1 521.9L1369.5 521.8L1371.0 521.6L1372.5 523.0L1374.0 522.6L1375.5 522.4L1377.1 523.4L1378.7 522.5L1380.2 522.7L1381.8 523.6L1383.4 522.4L1385.0 523.0L1386.6 523.4L1388.2 522.4L1389.7 523.1L1391.3 522.9L1392.9 521.9L1394.5 523.2L1396.0 522.4L1397.5 521.9L1399.0 523.3L1400.6 522.5L1402.1 522.7L1403.6 524.2L1405.0 523.0L1406.3 522.6L1407.5 523.4L1408.5 522.9L1409.4 521.1L1410.2 519.3L1410.9 518.3L1411.6 517.6L1412.5 516.9L1413.4 515.2L1414.3 513.6L1415.3 512.8L1416.3 512.6L1417.4 511.4L1418.3 509.5L1419.2 507.7L1420.0 507.3L1420.9 506.8L1421.7 505.3L1422.4 503.1L1423.1 501.2L1423.8 499.4L1424.2 498.5L1424.7 497.4L1425.1 496.2L1425.5 495.0L1426.0 493.4L1426.4 491.7L1426.9 490.0L1427.5 488.1L1428.2 486.5L1429.0 485.5L1429.9 484.6L1430.7 483.2L1431.6 481.2L1432.5 480.5L1433.7 481.8L1435.0 483.3L1436.2 483.1L1437.5 484.8L1438.7 487.2L1440.0 487.3L1441.2 486.4L1442.4 486.8L1443.7 485.9L1445.0 483.8L1446.2 483.4L1447.5 483.5L1448.7 482.3L1450.0 480.4L1451.4 480.6L1452.8 479.6L1454.2 477.5L1455.5 478.3L1456.7 479.1L1457.9 479.1L1459.0 480.2L1460.0 482.6L1460.5 484.0L1461.0 485.1L1461.4 486.3L1461.8 487.2L1462.2 488.1L1462.5 489.0L1462.9 490.4L1463.2 491.8L1463.6 493.5L1463.9 495.3L1464.3 497.4L1464.6 498.9L1465.0 500.5L1465.4 502.2L1465.7 503.4L1466.1 504.8L1466.4 505.7L1466.8 507.1L1467.2 508.3L1467.5 509.8L1467.9 511.3L1468.2 513.0L1468.6 514.6L1468.9 516.4L1469.3 518.2L1469.6 519.6L1470.0 520.8L1470.5 521.9L1471.0 523.2L1471.5 524.5L1471.9 525.8L1472.5 527.5L1473.1 529.2L1473.8 530.7L1474.8 531.3L1476.0 530.8L1477.5 532.3L1478.7 533.1L1480.1 531.8L1481.6 532.4L1483.2 533.2L1484.9 531.8L1486.6 532.7L1488.3 532.6L1490.0 531.9L1491.5 533.4L1492.9 532.6L1494.4 532.2L1496.0 533.5L1497.5 532.8L1499.0 532.9L1500.6 534.1L1502.1 533.1L1503.6 533.3L1505.0 534.3L1506.5 533.6L1507.9 533.7L1509.4 535.2L1510.9 534.0L1512.3 534.7L1513.7 535.8L1515.0 535.1L1516.3 534.8L1517.5 536.1L1519.2 535.5L1520.7 535.3L1522.2 536.3L1523.8 535.5L1525.1 534.6L1526.5 535.1L1528.0 533.7L1529.4 532.1L1530.9 532.5L1532.5 531.1L1533.8 530.0L1535.2 530.7L1536.6 529.6L1538.0 527.9L1539.4 528.5L1540.9 527.8L1542.3 526.1L1543.7 526.3L1545.0 526.1L1546.5 524.2L1547.9 523.9L1549.3 523.6L1550.7 521.6L1552.1 521.6L1553.6 521.5L1555.0 519.9L1556.4 520.1L1557.8 521.0L1559.2 519.6L1560.7 519.9L1562.1 521.1L1563.6 520.2L1565.0 520.2M1311.2 607.2L1312.7 607.1L1314.1 607.4L1315.5 606.2L1316.9 605.9L1318.3 606.0L1319.7 605.1L1321.1 604.7L1322.5 605.0L1324.0 604.0L1325.4 602.9L1326.8 603.3L1328.2 602.2L1329.7 601.3L1331.1 601.8L1332.5 601.2L1333.9 600.8L1335.3 601.8L1336.7 602.3L1338.1 602.0L1339.5 603.1L1341.0 603.8L1342.5 603.2L1344.0 604.2L1345.5 604.3L1347.1 603.7L1348.7 604.9L1350.3 604.4L1351.8 604.2L1353.4 605.4L1355.0 604.9L1356.4 604.9L1357.8 606.1L1359.1 605.7L1360.5 605.6L1361.9 606.6L1363.2 606.9L1364.6 606.5L1366.1 607.6L1367.5 607.8L1368.9 607.2L1370.4 608.2L1371.9 608.5L1373.3 608.0L1374.8 609.0L1376.3 609.3L1377.9 608.9L1379.4 609.9L1380.9 610.0L1382.5 609.5L1383.9 610.5L1385.4 610.4L1386.8 609.9L1388.3 610.8L1389.8 610.5L1391.3 610.1L1392.8 610.9L1394.3 610.6L1395.8 610.0L1397.2 611.1L1398.6 610.6L1400.0 609.9L1401.7 611.0L1403.4 610.2L1405.1 610.3L1406.8 610.7L1408.4 609.7L1409.9 610.2L1411.2 610.3L1412.5 609.0L1414.0 608.9L1415.2 608.7L1416.4 607.2L1417.5 605.7L1418.7 605.0L1419.7 603.7L1420.8 601.8L1421.8 600.7L1422.6 601.7L1423.5 603.5L1424.3 605.2L1425.0 606.2L1425.5 607.3L1425.8 608.3L1426.2 609.8L1426.5 611.4L1426.8 613.2L1427.1 614.7L1427.5 616.5L1428.0 618.5L1428.6 620.5L1429.2 622.0L1429.9 622.9L1430.5 623.1L1431.1 622.8L1431.7 622.0L1432.4 620.6L1433.0 618.4L1433.8 616.2L1434.4 614.6L1435.0 612.7L1435.7 611.3L1436.4 610.2L1437.2 609.1L1438.0 607.8L1438.8 606.7L1440.5 607.4L1442.5 608.8L1443.6 609.2L1444.9 610.5L1446.2 612.1L1447.5 612.6L1448.8 613.6L1450.0 615.5L1451.2 616.4L1452.3 616.9L1453.4 618.4L1454.5 619.6L1455.5 619.7L1456.5 618.6L1457.3 617.7L1458.2 616.7L1459.0 615.7L1460.0 614.1L1460.9 612.3L1461.8 611.0L1462.7 610.1L1463.7 609.1L1464.6 607.3L1465.6 605.4L1466.6 604.5L1467.5 604.1L1468.8 602.6L1470.0 600.7L1471.3 600.5L1472.5 600.6L1473.8 600.2L1475.0 601.0L1476.2 603.0L1477.5 603.9L1478.7 604.2L1479.7 605.6L1481.0 607.3L1482.5 607.3L1483.6 607.4L1484.7 608.3L1486.0 608.5L1487.4 607.7L1488.9 608.3L1490.5 608.5L1492.0 607.6L1493.7 608.2L1495.3 608.1L1496.9 607.5L1498.5 608.4L1500.0 607.8L1501.4 607.8L1502.8 608.7L1504.2 608.4L1505.7 608.0L1507.1 609.2L1508.5 608.9L1510.0 608.7L1511.5 609.7L1512.9 609.7L1514.3 609.2L1515.8 610.2L1517.2 610.0L1518.6 609.5L1520.0 610.3L1521.5 610.3L1523.0 609.4L1524.5 610.3L1526.0 610.1L1527.5 609.3L1529.0 610.1L1530.5 609.7L1531.9 608.9L1533.4 609.5L1534.8 609.2L1536.1 608.5L1537.5 609.0L1539.0 608.9L1540.4 608.0L1541.8 608.4L1543.1 608.5L1544.5 607.3L1545.8 607.5L1547.2 607.9L1548.6 607.0L1550.0 606.7L1551.4 607.3L1552.9 606.5L1554.4 606.1L1555.9 606.8L1557.4 605.6L1558.9 605.5L1560.5 606.1L1562.0 605.1L1563.5 605.0L1565.0 605.5M1311.2 702.2L1312.8 702.5L1314.3 701.9L1315.8 701.3L1317.4 701.7L1318.9 701.0L1320.4 700.7L1321.9 700.9L1323.5 700.2L1325.0 699.8L1326.5 700.1L1328.1 699.0L1329.7 698.8L1331.3 698.6L1332.9 697.6L1334.4 697.6L1335.9 697.5L1337.4 697.0L1338.8 697.6L1340.1 698.3L1341.4 698.5L1342.7 699.7L1343.9 701.1L1345.1 701.9L1346.3 702.8L1347.5 704.3L1348.8 705.3L1350.1 705.5L1351.5 706.6L1353.0 707.9L1354.4 708.0L1355.8 708.8L1357.3 709.7L1358.8 709.2L1360.1 709.2L1361.5 709.3L1362.9 708.3L1364.3 707.4L1365.7 707.1L1367.1 706.1L1368.5 705.2L1370.0 705.3L1371.5 704.8L1373.0 704.2L1374.6 704.8L1376.2 704.3L1377.8 704.2L1379.4 704.8L1380.9 704.1L1382.5 704.6L1384.1 704.9L1385.7 704.3L1387.3 705.1L1388.8 705.2L1390.4 705.0L1392.0 705.8L1393.5 705.5L1395.0 705.2L1396.5 705.6L1398.0 704.8L1399.5 704.0L1400.9 704.2L1402.4 703.3L1403.7 702.7L1405.0 703.3L1406.7 703.1L1408.4 703.2L1409.9 704.3L1411.2 704.9L1411.9 705.5L1412.5 706.7L1413.0 707.9L1413.4 709.5L1413.8 711.2L1414.1 712.8L1414.4 714.6L1414.7 716.1L1415.0 717.8L1415.2 718.9L1415.4 719.9L1415.6 721.1L1415.7 722.3L1415.9 723.6L1416.0 724.9L1416.1 726.2L1416.2 727.6L1416.3 729.1L1416.4 730.5L1416.5 731.9L1416.6 733.6L1416.7 735.0L1416.8 736.6L1416.9 738.2L1417.0 739.6L1417.1 741.2L1417.2 742.7L1417.3 744.4L1417.4 745.9L1417.5 747.4L1417.6 748.8L1417.7 750.4L1417.8 751.7L1417.9 753.2L1418.1 754.7L1418.2 756.1L1418.3 757.5L1418.4 758.9L1418.5 760.4L1418.6 761.7L1418.7 763.2L1418.8 764.6L1418.9 766.1L1419.0 767.4L1419.1 768.9L1419.2 770.3L1419.4 771.7L1419.5 773.0L1419.6 774.4L1419.7 775.8L1419.8 777.2L1419.9 778.6L1420.0 780.0L1420.1 781.4L1420.2 782.6L1420.3 783.9L1420.4 785.4L1420.5 786.7L1420.6 788.1L1420.7 789.6L1420.8 790.9L1420.9 792.4L1421.0 793.8L1421.1 795.4L1421.2 796.8L1421.3 798.1L1421.4 799.6L1421.5 801.2L1421.6 802.6L1421.7 804.0L1421.8 805.5L1421.9 806.9L1422.0 808.3L1422.1 809.7L1422.2 811.0L1422.3 812.5L1422.4 813.8L1422.5 815.2L1422.6 816.8L1422.8 818.3L1422.9 820.0L1423.0 821.4L1423.2 822.9L1423.3 824.5L1423.5 825.9L1423.6 827.3L1423.7 828.7L1423.9 830.1L1424.0 831.3L1424.2 832.8L1424.3 834.0L1424.5 835.5L1424.7 836.9L1424.8 838.3L1425.0 839.8L1425.2 841.1L1425.3 842.5L1425.5 844.0L1425.7 845.3L1425.9 847.0L1426.1 848.5L1426.3 850.0L1426.5 851.6L1426.7 853.1L1426.9 854.6L1427.1 856.2L1427.3 857.7L1427.5 859.3L1427.7 860.8L1427.9 862.1L1428.1 863.6L1428.3 864.8L1428.5 866.2L1428.8 867.4L1429.0 868.9L1429.2 870.2L1429.4 871.7L1429.6 873.0L1429.8 874.4L1430.0 876.1L1430.2 877.6L1430.4 879.1L1430.6 880.6L1430.8 882.2L1431.0 883.7L1431.2 885.2L1431.4 886.8L1431.6 888.1L1431.9 889.5L1432.1 890.6L1432.3 891.7L1432.5 892.7L1432.8 894.4L1433.2 896.0L1433.5 897.7L1433.9 899.2L1434.3 900.4L1434.6 901.3L1435.0 901.8L1435.5 901.7L1436.0 900.6L1436.5 899.1L1437.0 897.1L1437.5 895.0L1437.8 893.8L1438.0 892.6L1438.3 891.3L1438.5 890.0L1438.7 888.7L1439.0 887.4L1439.2 886.1L1439.5 884.6L1439.7 883.2L1439.9 881.8L1440.1 880.4L1440.4 879.0L1440.6 877.5L1440.8 875.9L1441.0 874.3L1441.2 872.8L1441.4 871.4L1441.6 869.9L1441.8 868.5L1442.0 867.1L1442.2 865.5L1442.3 864.0L1442.5 862.6L1442.7 861.0L1442.8 859.6L1443.0 858.0L1443.2 856.6L1443.3 855.3L1443.5 853.7L1443.7 852.4L1443.8 850.9L1444.0 849.5L1444.2 848.2L1444.4 846.9L1444.6 845.5L1444.8 844.2L1445.0 842.8L1445.2 841.3L1445.5 839.8L1445.7 838.4L1445.9 836.9L1446.2 835.2L1446.4 833.7L1446.7 832.2L1447.0 830.6L1447.2 829.1L1447.5 827.7L1447.8 826.3L1448.0 824.9L1448.3 823.6L1448.6 822.3L1448.9 820.9L1449.1 819.8L1449.4 818.2L1449.7 816.9L1450.0 815.3L1450.3 813.8L1450.6 812.3L1450.8 810.7L1451.1 809.1L1451.4 807.6L1451.7 806.1L1452.0 804.8L1452.3 803.4L1452.6 802.1L1452.9 800.7L1453.2 799.5L1453.5 798.1L1453.8 796.9L1454.1 795.4L1454.4 794.0L1454.7 792.4L1455.0 790.8L1455.3 789.2L1455.7 787.5L1456.0 786.1L1456.2 784.6L1456.5 783.2L1456.8 781.9L1457.1 780.7L1457.5 779.2L1457.8 778.1L1458.1 776.7L1458.4 775.2L1458.7 773.8L1459.0 772.2L1459.3 770.6L1459.6 769.0L1459.9 767.4L1460.2 765.9L1460.5 764.5L1460.8 763.0L1461.1 761.7L1461.4 760.3L1461.6 759.0L1461.9 757.8L1462.2 756.5L1462.5 755.4L1462.8 753.9L1463.1 752.5L1463.4 751.0L1463.7 749.5L1463.9 747.9L1464.2 746.4L1464.5 744.8L1464.8 743.5L1465.1 742.0L1465.3 740.7L1465.6 739.5L1465.9 738.2L1466.1 737.1L1466.4 735.8L1466.7 734.5L1467.0 733.1L1467.2 731.8L1467.5 730.3L1467.8 728.9L1468.0 727.3L1468.3 725.7L1468.5 724.1L1468.8 722.5L1469.1 721.0L1469.3 719.4L1469.6 717.8L1469.8 716.5L1470.1 715.0L1470.3 713.7L1470.6 712.2L1470.8 710.9L1471.1 709.5L1471.4 708.2L1471.6 706.9L1471.9 705.4L1472.2 703.9L1472.5 702.6L1472.9 700.9L1473.2 699.3L1473.6 697.8L1473.9 696.4L1474.3 694.9L1474.7 693.7L1475.0 692.5L1475.4 691.5L1475.8 690.3L1476.2 688.9L1476.6 687.7L1477.1 686.2L1477.5 684.9L1478.1 683.0L1478.7 681.5L1479.3 680.4L1480.0 679.3L1480.7 677.9L1481.6 676.3L1482.5 674.7L1483.5 673.9L1484.7 673.2L1486.0 671.9L1487.3 670.7L1488.7 670.5L1490.0 669.5L1491.3 668.0L1492.5 667.5L1493.7 666.8L1494.8 665.5L1495.8 664.3L1496.9 663.5L1497.9 662.9L1499.0 661.4L1500.0 659.6L1500.7 658.7L1501.5 657.9L1502.2 657.2L1502.9 655.9L1503.7 654.2L1504.4 652.6L1505.1 651.5L1505.9 650.5L1506.6 649.4L1507.3 647.9L1508.0 646.2L1508.7 644.7L1509.3 643.4L1510.0 642.5L1510.7 641.4L1511.4 640.0L1512.1 638.4L1512.8 636.6L1513.4 635.1L1514.1 633.8L1514.7 632.7L1515.4 631.7L1516.1 630.2L1516.8 628.8L1517.5 627.2L1518.4 625.7L1519.3 624.6L1520.2 623.2L1521.2 621.2L1522.1 619.6L1523.1 618.6L1524.1 618.3L1525.0 617.7L1526.7 617.3L1528.4 618.8L1530.0 620.0L1530.7 620.5L1531.5 621.6L1532.2 623.0L1532.9 624.7L1533.6 626.1L1534.2 627.2L1534.9 628.5L1535.6 629.9L1536.2 631.9L1536.9 633.7L1537.5 635.4L1538.0 636.5L1538.6 637.5L1539.1 638.6L1539.6 639.8L1540.1 641.2L1540.6 642.7L1541.1 644.3L1541.6 645.7L1542.0 647.2L1542.5 648.5L1543.0 649.6L1543.5 650.8L1544.0 652.0L1544.5 653.3L1545.0 654.9L1545.5 656.5L1546.0 657.9L1546.5 659.4L1547.0 660.7L1547.5 661.8L1548.0 662.9L1548.4 664.2L1548.9 665.6L1549.4 667.1L1549.9 668.6L1550.4 670.1L1550.9 671.5L1551.4 672.7L1552.0 673.7L1552.5 674.7L1553.2 676.1L1553.8 677.9L1554.5 679.6L1555.2 681.3L1555.9 682.4L1556.6 683.6L1557.3 684.7L1558.0 686.1L1558.7 687.8L1559.3 689.2L1560.0 690.2L1560.9 691.3L1561.7 692.4L1562.5 693.7L1563.3 695.3L1564.2 696.6L1565.0 697.5M1311.2 802.7L1312.7 802.5L1314.0 803.0L1315.4 803.8L1316.8 803.6L1318.2 803.9L1319.6 804.7L1321.1 804.3L1322.5 804.3L1323.8 804.5L1325.2 803.8L1326.6 803.0L1328.0 803.1L1329.4 802.1L1330.8 801.0L1332.2 801.1L1333.6 800.7L1334.9 799.8L1336.2 800.0L1337.7 800.5L1339.2 800.2L1340.6 801.2L1342.0 802.1L1343.4 802.2L1344.8 803.1L1346.1 804.2L1347.5 804.4L1349.0 804.8L1350.4 806.1L1351.9 806.3L1353.3 806.7L1354.7 807.8L1356.1 807.7L1357.5 807.6L1359.0 808.1L1360.5 807.4L1361.9 806.5L1363.4 806.4L1364.8 805.7L1366.2 805.2L1367.7 805.9L1369.1 806.1L1370.5 806.2L1372.0 807.2L1373.4 807.6L1375.0 807.7L1376.3 808.6L1377.6 808.8L1379.0 808.5L1380.4 809.4L1381.8 809.7L1383.2 809.4L1384.7 810.1L1386.1 810.5L1387.5 810.2L1389.1 810.7L1390.7 811.3L1392.3 811.0L1394.0 811.9L1395.6 811.9L1397.1 811.6L1398.6 812.4L1400.0 812.0L1401.7 811.7L1403.4 812.0L1405.0 811.1L1406.4 810.8L1407.5 810.3L1408.3 808.8L1408.9 806.4L1409.2 804.2L1409.6 802.4L1410.0 801.7L1410.6 802.4L1411.3 804.0L1411.9 806.0L1412.5 807.8L1412.8 808.7L1413.1 809.9L1413.4 811.0L1413.7 812.3L1413.9 813.7L1414.1 815.3L1414.4 816.8L1414.6 818.6L1414.8 820.4L1415.0 822.4L1415.1 823.4L1415.3 824.7L1415.4 826.0L1415.5 827.4L1415.6 828.7L1415.7 830.1L1415.8 831.4L1415.9 832.8L1416.0 834.3L1416.1 835.8L1416.2 837.3L1416.3 838.6L1416.4 840.1L1416.5 841.7L1416.6 843.2L1416.6 844.7L1416.7 846.3L1416.8 847.8L1416.9 849.3L1417.0 850.9L1417.1 852.4L1417.1 854.0L1417.2 855.6L1417.3 857.0L1417.4 858.5L1417.5 860.1L1417.6 861.4L1417.7 862.6L1417.7 864.0L1417.8 865.3L1417.9 866.7L1418.0 868.0L1418.0 869.3L1418.1 870.7L1418.2 872.0L1418.2 873.5L1418.3 874.8L1418.4 876.2L1418.5 877.7L1418.5 879.1L1418.6 880.5L1418.7 881.9L1418.7 883.4L1418.8 884.9L1418.9 886.3L1419.0 887.8L1419.0 889.3L1419.1 890.9L1419.2 892.3L1419.2 893.7L1419.3 895.2L1419.4 896.7L1419.4 898.2L1419.5 899.7L1419.6 901.3L1419.6 902.8L1419.7 904.2L1419.8 905.7L1419.9 907.1L1419.9 908.6L1420.0 910.1L1420.1 911.5L1420.1 913.1L1420.2 914.4L1420.3 915.8L1420.4 917.4L1420.4 918.8L1420.5 920.2L1420.6 921.6L1420.6 923.0L1420.7 924.5L1420.8 926.0L1420.9 927.3L1420.9 928.7L1421.0 930.0L1421.1 931.4L1421.2 932.8L1421.2 934.3L1421.3 935.6L1421.4 937.1L1421.4 938.4L1421.5 939.8L1421.6 941.3L1421.7 942.7L1421.7 944.1L1421.8 945.4L1421.9 946.9L1421.9 948.2L1422.0 949.6L1422.1 951.0L1422.2 952.4L1422.2 953.8L1422.3 955.3L1422.4 956.8L1422.4 958.2L1422.5 959.8L1422.6 961.2L1422.6 962.4L1422.7 963.9L1422.7 965.2L1422.8 966.6L1422.8 967.9L1422.9 969.3L1423.0 970.7L1423.0 972.1L1423.1 973.5L1423.1 975.0L1423.2 976.5L1423.2 977.9L1423.3 979.3L1423.3 980.8L1423.4 982.3L1423.4 983.7L1423.5 985.2L1423.5 986.8L1423.6 988.2L1423.7 989.7L1423.7 991.1L1423.8 992.6L1423.8 994.2L1423.9 995.6L1423.9 997.1L1424.0 998.6L1424.0 1000.0L1424.1 1001.5L1424.1 1003.1L1424.2 1004.5L1424.3 1005.9L1424.3 1007.3L1424.4 1008.8L1424.4 1010.4L1424.5 1011.8L1424.5 1013.1L1424.6 1014.6L1424.7 1016.1L1424.7 1017.4L1424.8 1018.7L1424.9 1020.1L1424.9 1021.4L1425.0 1022.7L1425.1 1024.5L1425.2 1025.9L1425.2 1027.5L1425.3 1029.1L1425.4 1030.5L1425.5 1032.1L1425.6 1033.6L1425.7 1035.0L1425.7 1036.5L1425.8 1037.9L1425.9 1039.4L1426.0 1040.9L1426.1 1042.3L1426.2 1043.8L1426.3 1045.1L1426.4 1046.7L1426.4 1048.0L1426.5 1049.4L1426.6 1050.8L1426.7 1052.3L1426.8 1053.6L1426.9 1055.0L1427.0 1056.3L1427.1 1057.7L1427.2 1059.1L1427.3 1060.3L1427.4 1061.8L1427.5 1063.1L1427.6 1064.4L1427.7 1065.8L1427.8 1067.1L1427.9 1068.4L1428.0 1069.8L1428.1 1071.4L1428.3 1073.0L1428.4 1074.7L1428.5 1076.3L1428.6 1078.0L1428.8 1079.5L1428.9 1081.1L1429.0 1082.7L1429.2 1084.2L1429.3 1085.8L1429.4 1087.3L1429.6 1088.7L1429.7 1090.2L1429.8 1091.6L1430.0 1092.9L1430.1 1094.2L1430.3 1095.4L1430.5 1096.6L1430.6 1097.8L1430.8 1098.8L1431.0 1099.9L1431.3 1101.6L1431.6 1103.5L1432.0 1105.4L1432.3 1107.4L1432.7 1109.3L1433.0 1110.8L1433.4 1112.2L1433.7 1113.1L1434.0 1113.4L1434.2 1113.1L1434.4 1112.6L1434.6 1111.8L1434.8 1110.6L1435.0 1109.3L1435.2 1107.8L1435.4 1106.2L1435.5 1104.4L1435.7 1102.6L1435.9 1100.5L1436.1 1098.6L1436.2 1096.7L1436.4 1094.7L1436.6 1093.1L1436.8 1091.4L1437.0 1089.8L1437.2 1088.6L1437.4 1087.3L1437.5 1086.0L1437.7 1084.8L1437.9 1083.4L1438.1 1082.0L1438.2 1080.6L1438.4 1079.2L1438.6 1077.7L1438.8 1076.2L1439.0 1074.8L1439.2 1073.3L1439.4 1071.6L1439.6 1070.2L1439.8 1068.6L1440.0 1067.0L1440.2 1065.5L1440.4 1064.0L1440.6 1062.5L1440.8 1061.0L1441.0 1059.8L1441.2 1058.4L1441.4 1057.2L1441.7 1055.8L1441.9 1054.5L1442.1 1053.2L1442.4 1052.1L1442.6 1050.7L1442.9 1049.3L1443.1 1048.0L1443.4 1046.6L1443.7 1045.2L1443.9 1043.6L1444.2 1042.1L1444.4 1040.7L1444.7 1039.2L1444.9 1037.7L1445.2 1036.2L1445.4 1034.8L1445.6 1033.6L1445.8 1032.2L1446.0 1030.8L1446.2 1029.6L1446.4 1028.3L1446.6 1027.0L1446.8 1025.6L1446.9 1024.4L1447.1 1022.9L1447.2 1021.7L1447.4 1020.2L1447.5 1018.8L1447.7 1017.4L1447.8 1016.0L1447.9 1014.5L1448.1 1013.0L1448.2 1011.5L1448.3 1010.0L1448.5 1008.5L1448.6 1007.0L1448.7 1005.5L1448.9 1004.0L1449.0 1002.5L1449.1 1001.0L1449.3 999.6L1449.4 998.0L1449.5 996.6L1449.7 995.1L1449.8 993.7L1450.0 992.2L1450.1 990.9L1450.3 989.6L1450.4 988.4L1450.6 987.1L1450.7 985.8L1450.9 984.5L1451.0 983.3L1451.2 981.9L1451.4 980.7L1451.5 979.2L1451.7 977.9L1451.8 976.5L1452.0 975.1L1452.1 973.6L1452.3 972.2L1452.5 970.8L1452.6 969.2L1452.8 967.8L1453.0 966.3L1453.1 964.8L1453.3 963.2L1453.4 961.7L1453.6 960.2L1453.8 958.8L1453.9 957.3L1454.1 956.0L1454.2 954.5L1454.4 953.1L1454.5 951.6L1454.7 950.4L1454.8 949.0L1455.0 947.5L1455.1 946.2L1455.3 944.9L1455.4 943.6L1455.5 942.3L1455.7 940.8L1455.8 939.5L1455.9 938.1L1456.1 936.8L1456.2 935.3L1456.3 933.8L1456.5 932.2L1456.6 930.9L1456.7 929.2L1456.8 927.7L1457.0 926.1L1457.1 924.6L1457.2 923.1L1457.4 921.6L1457.5 920.0L1457.6 918.5L1457.7 916.9L1457.9 915.4L1458.0 913.9L1458.1 912.5L1458.2 911.0L1458.4 909.5L1458.5 908.2L1458.6 906.8L1458.7 905.5L1458.9 904.1L1459.0 902.8L1459.1 901.5L1459.2 900.2L1459.4 899.0L1459.5 897.6L1459.6 896.4L1459.7 895.3L1459.9 893.9L1460.0 892.8L1460.2 891.3L1460.3 889.6L1460.5 888.3L1460.6 886.8L1460.7 885.3L1460.9 883.8L1461.0 882.4L1461.2 880.8L1461.3 879.4L1461.4 878.0L1461.6 876.6L1461.7 875.2L1461.9 873.8L1462.0 872.4L1462.2 871.0L1462.3 869.6L1462.5 868.2L1462.7 866.7L1462.9 865.3L1463.1 864.0L1463.3 862.7L1463.5 861.3L1463.8 860.0L1464.0 858.8L1464.2 857.6L1464.5 856.3L1464.7 855.1L1465.0 853.7L1465.3 852.2L1465.6 850.9L1465.8 849.4L1466.2 847.8L1466.5 846.3L1466.8 844.8L1467.1 843.3L1467.4 842.1L1467.7 840.7L1468.1 839.4L1468.4 838.2L1468.7 837.0L1469.1 835.6L1469.4 834.3L1469.7 832.9L1470.0 831.3L1470.4 829.7L1470.7 828.2L1471.0 826.7L1471.3 825.3L1471.6 823.8L1471.9 822.5L1472.2 821.1L1472.5 819.9L1472.8 818.7L1473.0 817.4L1473.3 816.0L1473.6 814.6L1473.8 813.0L1474.1 811.5L1474.3 809.9L1474.6 808.3L1474.8 806.7L1475.1 805.0L1475.3 803.3L1475.6 801.8L1475.8 800.2L1476.0 798.7L1476.3 797.2L1476.5 795.9L1476.8 794.5L1477.0 793.3L1477.3 792.0L1477.5 790.6L1477.8 789.4L1478.0 788.2L1478.3 786.9L1478.6 785.5L1478.8 784.2L1479.1 783.0L1479.4 781.9L1479.7 780.6L1480.0 779.7L1480.7 777.8L1481.3 776.6L1482.0 775.5L1482.7 774.1L1483.4 772.7L1484.2 771.1L1485.0 769.8L1485.8 768.8L1486.8 767.9L1487.7 766.6L1488.7 764.9L1489.7 763.8L1490.7 763.0L1491.6 761.8L1492.5 759.9L1493.1 758.6L1493.6 757.3L1494.2 756.3L1494.7 755.3L1495.2 754.2L1495.7 752.8L1496.2 751.5L1496.7 749.9L1497.1 748.1L1497.6 746.7L1498.1 745.2L1498.5 744.0L1499.0 742.7L1499.5 741.6L1500.0 740.3L1500.5 739.0L1501.0 737.5L1501.5 735.9L1502.0 734.4L1502.5 733.1L1503.0 731.9L1503.6 730.9L1504.1 729.9L1504.6 728.6L1505.1 727.2L1505.6 725.5L1506.1 724.0L1506.5 722.5L1507.0 721.1L1507.5 719.8L1507.9 718.9L1508.3 717.8L1508.7 716.5L1509.1 715.2L1509.5 713.8L1509.8 712.3L1510.2 710.7L1510.6 709.2L1510.9 707.7L1511.3 706.4L1511.7 705.1L1512.0 703.9L1512.4 702.6L1512.8 701.3L1513.1 699.9L1513.5 698.6L1513.9 697.0L1514.2 695.4L1514.6 693.8L1515.0 692.2L1515.4 690.9L1515.7 689.6L1516.1 688.1L1516.4 686.9L1516.8 685.5L1517.1 684.2L1517.5 682.8L1517.9 681.2L1518.2 679.6L1518.6 677.9L1519.0 676.3L1519.3 674.5L1519.7 672.9L1520.1 671.6L1520.4 670.2L1520.8 668.9L1521.2 667.7L1521.5 666.5L1521.9 665.4L1522.3 664.2L1522.6 663.0L1523.0 661.8L1523.4 660.7L1523.8 659.8L1524.6 657.9L1525.5 656.5L1526.3 655.3L1527.2 654.2L1528.0 653.6L1528.5 653.6L1529.0 654.2L1529.4 655.1L1529.9 656.5L1530.4 658.1L1530.8 659.5L1531.3 661.2L1531.8 662.8L1532.2 664.4L1532.7 666.0L1533.1 667.8L1533.6 669.7L1534.1 671.7L1534.5 673.6L1535.0 675.4L1535.4 676.7L1535.8 677.9L1536.3 678.9L1536.7 680.0L1537.1 681.3L1537.5 682.6L1537.9 684.0L1538.4 685.5L1538.8 687.0L1539.2 688.6L1539.6 690.1L1540.1 691.4L1540.5 692.6L1540.9 693.9L1541.3 694.9L1541.7 696.2L1542.1 697.7L1542.5 699.3L1542.9 700.8L1543.2 702.3L1543.6 703.8L1543.9 705.2L1544.3 706.6L1544.6 707.9L1544.9 709.1L1545.3 710.3L1545.6 711.7L1545.9 712.9L1546.3 714.4L1546.6 715.8L1546.9 717.2L1547.3 718.8L1547.6 720.4L1547.9 722.0L1548.3 723.5L1548.6 724.8L1549.0 726.1L1549.3 727.4L1549.7 728.6L1550.0 729.8L1550.4 731.0L1550.7 732.5L1551.1 733.8L1551.5 735.3L1551.9 736.9L1552.3 738.5L1552.6 739.9L1553.0 741.3L1553.4 742.5L1553.8 743.6L1554.2 744.7L1554.6 746.0L1554.9 747.3L1555.3 748.6L1555.7 750.0L1556.1 751.7L1556.4 753.3L1556.8 754.8L1557.1 756.3L1557.5 757.9L1557.8 759.1L1558.1 760.1L1558.4 761.3L1558.6 762.5L1558.9 763.7L1559.2 765.0L1559.5 766.2L1559.7 767.7L1560.0 769.2L1560.3 770.6L1560.5 772.1L1560.8 773.7L1561.1 775.1L1561.3 776.7L1561.6 778.0L1561.9 779.4L1562.1 780.9L1562.4 782.1L1562.6 783.5L1562.9 784.7L1563.2 786.0L1563.4 787.3L1563.7 788.7L1563.9 790.1L1564.2 791.6L1564.5 792.9L1564.7 794.5L1565.0 796.0M1311.2 897.9L1312.7 897.5L1314.1 897.7L1315.5 898.5L1316.9 898.4L1318.3 898.5L1319.7 899.1L1321.1 899.0L1322.5 898.4L1323.9 898.6L1325.3 898.0L1326.7 896.7L1328.1 896.4L1329.5 895.5L1330.9 894.2L1332.3 893.8L1333.7 893.6L1335.0 892.7L1336.5 892.9L1337.9 893.3L1339.3 892.9L1340.7 893.4L1342.1 894.4L1343.6 894.2L1345.0 894.8L1346.2 895.8L1347.5 896.3L1348.7 896.7L1350.0 898.1L1351.3 899.1L1352.6 899.4L1353.8 900.4L1355.1 901.5L1356.3 901.7L1357.5 901.6L1359.0 902.3L1360.5 901.9L1362.0 900.9L1363.4 901.1L1364.8 900.7L1366.2 900.2L1367.5 901.0L1368.7 901.7L1369.9 901.9L1371.1 902.7L1372.4 903.9L1373.6 904.6L1375.0 904.6L1376.3 905.5L1377.6 906.1L1379.0 905.9L1380.4 906.3L1381.8 907.0L1383.2 906.6L1384.7 906.9L1386.1 907.6L1387.5 907.4L1389.1 907.5L1390.7 908.4L1392.3 908.0L1394.0 908.6L1395.6 908.9L1397.1 908.4L1398.6 908.9L1400.0 908.9L1401.7 908.1L1403.4 908.5L1405.0 907.6L1406.3 906.8L1407.5 906.5L1408.6 904.6L1409.3 902.2L1410.0 900.9L1410.9 901.8L1411.7 904.1L1412.5 906.5L1412.7 907.5L1413.0 908.3L1413.2 909.3L1413.4 910.5L1413.6 911.5L1413.8 912.7L1414.0 914.0L1414.2 915.3L1414.4 916.8L1414.6 918.3L1414.8 919.8L1414.9 921.4L1415.1 923.1L1415.3 924.7L1415.4 926.4L1415.6 928.2L1415.8 930.0L1415.9 931.7L1416.1 933.5L1416.2 935.2L1416.4 936.5L1416.5 937.9L1416.6 939.0L1416.7 940.4L1416.9 941.7L1417.0 943.1L1417.1 944.5L1417.2 945.9L1417.3 947.2L1417.4 948.7L1417.5 949.9L1417.6 951.5L1417.7 952.8L1417.8 954.3L1417.9 955.6L1418.0 957.2L1418.1 958.5L1418.2 960.0L1418.3 961.4L1418.4 962.8L1418.5 964.4L1418.6 965.8L1418.7 967.2L1418.8 968.7L1419.0 970.2L1419.1 971.7L1419.2 973.1L1419.3 974.6L1419.4 976.1L1419.5 977.6L1419.6 979.0L1419.7 980.5L1419.8 982.0L1419.9 983.5L1420.0 984.9L1420.1 986.4L1420.2 987.9L1420.4 989.4L1420.5 990.9L1420.6 992.4L1420.7 993.8L1420.9 995.4L1421.0 996.8L1421.1 998.3L1421.2 999.6L1421.4 1001.0L1421.5 1002.4L1421.6 1003.7L1421.7 1005.3L1421.9 1006.6L1422.0 1007.9L1422.1 1009.3L1422.2 1010.5L1422.4 1011.9L1422.5 1013.3L1422.6 1014.7L1422.7 1016.0L1422.8 1017.3L1423.0 1018.8L1423.1 1020.3L1423.2 1021.7L1423.3 1023.2L1423.4 1024.7L1423.5 1026.0L1423.6 1027.6L1423.8 1029.2L1423.8 1030.6L1423.9 1031.8L1424.0 1033.3L1424.1 1034.6L1424.2 1035.9L1424.3 1037.3L1424.4 1038.8L1424.4 1040.1L1424.5 1041.5L1424.6 1043.0L1424.7 1044.3L1424.8 1045.8L1424.8 1047.3L1424.9 1048.7L1425.0 1050.1L1425.1 1051.5L1425.1 1053.0L1425.2 1054.5L1425.3 1055.9L1425.4 1057.4L1425.4 1058.8L1425.5 1060.3L1425.6 1061.7L1425.6 1063.1L1425.7 1064.6L1425.8 1066.0L1425.9 1067.4L1425.9 1068.9L1426.0 1070.3L1426.1 1071.7L1426.1 1073.2L1426.2 1074.5L1426.3 1076.0L1426.4 1077.3L1426.4 1078.9L1426.5 1080.2L1426.6 1081.6L1426.6 1083.1L1426.7 1084.4L1426.8 1085.7L1426.9 1087.2L1426.9 1088.5L1427.0 1089.9L1427.1 1091.4L1427.1 1092.8L1427.2 1094.2L1427.3 1095.5L1427.4 1097.0L1427.4 1098.4L1427.5 1099.9L1427.6 1101.3L1427.6 1102.8L1427.7 1104.3L1427.8 1105.6L1427.8 1107.2L1427.9 1108.6L1428.0 1110.2L1428.0 1111.6L1428.1 1113.1L1428.2 1114.4L1428.2 1116.0L1428.3 1117.5L1428.3 1118.9L1428.4 1120.4L1428.5 1122.0L1428.5 1123.5L1428.6 1124.9L1428.7 1126.3L1428.8 1127.8L1428.8 1129.3L1428.9 1130.8L1429.0 1132.2L1429.0 1133.6L1429.1 1135.2L1429.2 1136.6L1429.3 1138.0L1429.3 1139.4L1429.4 1140.9L1429.5 1142.3L1429.6 1143.6L1429.7 1145.0L1429.7 1146.3L1429.8 1147.7L1429.9 1149.0L1430.0 1150.3L1430.1 1151.9L1430.2 1153.5L1430.3 1155.3L1430.4 1156.9L1430.5 1158.6L1430.6 1160.4L1430.7 1162.2L1430.8 1164.1L1431.0 1165.9L1431.1 1167.6L1431.2 1169.5L1431.3 1171.3L1431.4 1173.0L1431.5 1174.8L1431.6 1176.4L1431.7 1178.0L1431.9 1179.7L1432.0 1181.3L1432.1 1182.8L1432.2 1184.1L1432.4 1185.4L1432.5 1186.7L1432.7 1187.8L1432.8 1188.8L1432.9 1189.7L1433.1 1190.5L1433.3 1191.2L1433.4 1191.7L1433.6 1191.9L1433.8 1192.1L1434.1 1192.0L1434.5 1191.1L1434.9 1189.8L1435.4 1187.8L1435.8 1185.8L1436.2 1183.5L1436.6 1181.5L1437.0 1179.7L1437.3 1178.6L1437.5 1177.3L1437.7 1176.2L1437.9 1175.0L1438.1 1173.7L1438.4 1172.5L1438.6 1171.1L1438.8 1169.6L1438.9 1168.3L1439.1 1166.7L1439.4 1165.1L1439.6 1163.5L1439.8 1161.8L1440.0 1159.9L1440.2 1158.8L1440.3 1157.4L1440.5 1156.2L1440.7 1154.7L1440.8 1153.5L1441.0 1152.0L1441.2 1150.6L1441.4 1149.3L1441.5 1148.0L1441.7 1146.6L1441.9 1145.2L1442.1 1143.8L1442.3 1142.4L1442.5 1141.0L1442.6 1139.6L1442.8 1138.3L1443.0 1136.8L1443.2 1135.3L1443.4 1133.8L1443.6 1132.2L1443.7 1130.7L1443.9 1129.1L1444.1 1127.5L1444.3 1126.0L1444.5 1124.3L1444.6 1122.9L1444.8 1121.3L1445.0 1119.8L1445.2 1118.4L1445.3 1116.8L1445.5 1115.5L1445.7 1113.9L1445.8 1112.7L1446.0 1111.3L1446.2 1110.0L1446.3 1108.5L1446.5 1107.3L1446.7 1105.9L1446.8 1104.5L1447.0 1103.1L1447.1 1101.8L1447.3 1100.4L1447.5 1099.0L1447.6 1097.6L1447.8 1096.2L1448.0 1094.7L1448.1 1093.3L1448.3 1091.7L1448.5 1090.2L1448.6 1088.8L1448.8 1087.3L1449.0 1085.6L1449.1 1084.1L1449.3 1082.6L1449.5 1081.1L1449.6 1079.6L1449.8 1078.1L1450.0 1076.6L1450.2 1075.3L1450.3 1074.0L1450.5 1072.6L1450.7 1071.3L1450.9 1069.9L1451.1 1068.5L1451.3 1067.3L1451.4 1065.8L1451.6 1064.6L1451.8 1063.1L1452.0 1061.7L1452.2 1060.3L1452.4 1058.8L1452.6 1057.3L1452.8 1055.8L1453.0 1054.3L1453.2 1052.7L1453.3 1051.2L1453.5 1049.6L1453.7 1048.1L1453.9 1046.6L1454.1 1045.1L1454.3 1043.7L1454.5 1042.2L1454.6 1040.8L1454.8 1039.6L1455.0 1038.1L1455.2 1036.9L1455.3 1035.6L1455.5 1034.1L1455.7 1032.9L1455.8 1031.5L1456.0 1030.3L1456.2 1028.8L1456.3 1027.3L1456.5 1025.8L1456.6 1024.5L1456.8 1022.9L1456.9 1021.5L1457.1 1020.1L1457.2 1018.6L1457.4 1017.1L1457.5 1015.5L1457.6 1014.1L1457.8 1012.5L1457.9 1011.1L1458.0 1009.6L1458.2 1008.2L1458.3 1006.7L1458.4 1005.3L1458.6 1003.7L1458.7 1002.5L1458.8 1000.9L1459.0 999.6L1459.1 998.2L1459.2 996.9L1459.4 995.5L1459.5 994.2L1459.7 992.9L1459.8 991.4L1460.0 990.0L1460.2 988.7L1460.3 987.4L1460.5 986.1L1460.7 984.7L1460.8 983.2L1461.0 981.9L1461.2 980.5L1461.3 978.9L1461.5 977.6L1461.7 976.0L1461.8 974.5L1462.0 973.0L1462.2 971.6L1462.4 970.1L1462.5 968.6L1462.7 967.1L1462.9 965.7L1463.1 964.2L1463.3 962.8L1463.5 961.5L1463.6 960.0L1463.8 958.6L1464.0 957.4L1464.2 956.0L1464.4 954.5L1464.6 953.2L1464.8 951.8L1465.0 950.4L1465.2 949.1L1465.3 947.7L1465.5 946.4L1465.7 944.9L1465.9 943.5L1466.1 941.9L1466.2 940.5L1466.4 939.0L1466.6 937.5L1466.8 936.0L1466.9 934.5L1467.1 933.0L1467.3 931.5L1467.5 929.9L1467.7 928.5L1467.9 927.0L1468.1 925.6L1468.2 924.3L1468.4 922.9L1468.6 921.5L1468.8 920.1L1469.0 918.8L1469.2 917.5L1469.4 916.1L1469.6 914.7L1469.8 913.4L1470.0 911.9L1470.2 910.4L1470.5 909.0L1470.7 907.7L1470.9 906.1L1471.1 904.7L1471.3 903.4L1471.5 902.2L1471.8 900.9L1472.0 899.6L1472.3 898.2L1472.6 896.6L1472.9 895.2L1473.1 893.8L1473.4 892.4L1473.6 891.0L1473.9 889.6L1474.2 888.1L1474.4 886.6L1474.7 885.2L1475.0 883.7L1475.3 882.0L1475.7 880.6L1476.0 879.2L1476.4 877.8L1476.9 876.6L1477.3 875.6L1477.8 874.6L1478.4 873.5L1479.0 872.3L1479.7 870.6L1480.5 869.3L1481.4 868.2L1482.3 867.7L1483.3 866.7L1484.3 865.3L1485.3 864.1L1486.4 863.6L1487.5 863.0L1488.5 861.6L1489.6 860.4L1490.6 859.7L1491.7 859.0L1492.6 857.6L1493.6 856.0L1494.5 854.9L1495.2 854.1L1495.8 853.2L1496.5 852.0L1497.1 850.7L1497.7 849.2L1498.4 847.8L1499.0 846.8L1499.6 845.8L1500.2 844.7L1500.8 843.3L1501.4 841.8L1502.0 840.1L1502.6 838.6L1503.1 837.4L1503.7 836.1L1504.3 835.0L1504.8 833.9L1505.4 832.3L1505.9 830.8L1506.4 829.2L1507.0 827.6L1507.5 826.3L1508.0 825.2L1508.5 824.0L1509.0 822.9L1509.5 821.5L1510.0 820.1L1510.5 818.6L1511.0 817.0L1511.5 815.3L1512.0 814.0L1512.5 812.8L1512.9 811.5L1513.3 810.2L1513.8 808.9L1514.2 807.3L1514.6 805.7L1515.0 804.0L1515.4 802.4L1515.8 801.0L1516.3 799.6L1516.7 798.4L1517.1 797.3L1517.6 796.2L1518.0 795.0L1518.5 793.7L1519.0 792.3L1519.5 790.9L1520.0 789.6L1520.7 788.2L1521.5 787.0L1522.3 785.6L1523.1 783.9L1524.0 782.0L1524.8 780.2L1525.6 779.1L1526.5 778.3L1527.3 777.4L1528.1 776.3L1528.9 775.6L1529.7 775.6L1530.3 776.0L1530.9 776.7L1531.5 777.3L1532.2 778.0L1532.8 778.8L1533.3 779.9L1533.9 781.2L1534.5 783.0L1535.1 784.7L1535.7 786.5L1536.2 788.2L1536.8 789.7L1537.3 791.3L1537.9 793.0L1538.4 794.8L1539.0 796.8L1539.5 798.6L1540.0 800.4L1540.4 801.5L1540.8 802.6L1541.2 803.6L1541.5 804.7L1541.9 805.9L1542.2 807.1L1542.6 808.5L1542.9 809.9L1543.2 811.5L1543.6 812.9L1543.9 814.5L1544.2 815.8L1544.5 817.4L1544.8 818.8L1545.2 820.0L1545.5 821.3L1545.8 822.5L1546.1 823.8L1546.4 825.2L1546.8 826.6L1547.1 828.0L1547.4 829.6L1547.8 831.3L1548.1 832.9L1548.5 834.5L1548.9 835.9L1549.2 837.5L1549.6 838.7L1550.0 839.9L1550.4 841.1L1550.7 842.4L1551.1 843.5L1551.5 844.9L1551.8 846.3L1552.2 847.7L1552.6 849.3L1553.0 850.8L1553.4 852.1L1553.8 853.4L1554.2 854.6L1554.6 855.8L1555.0 857.0L1555.4 858.2L1555.8 859.5L1556.2 861.1L1556.6 862.7L1557.0 864.2L1557.5 865.7L1557.9 867.1L1558.3 868.4L1558.7 869.5L1559.1 870.6L1559.6 871.9L1560.0 873.3L1560.4 874.7L1560.8 876.3L1561.3 877.8L1561.7 879.3L1562.1 880.9L1562.5 882.1L1562.9 883.3L1563.4 884.5L1563.8 885.7L1564.2 887.0L1564.6 888.4L1565.0 889.8M1311.2 1011.3L1312.7 1010.9L1314.1 1011.6L1315.5 1011.5L1316.9 1011.2L1318.3 1011.8L1319.7 1011.7L1321.1 1011.1L1322.5 1011.3L1323.9 1011.1L1325.3 1010.0L1326.6 1009.7L1328.0 1009.3L1329.4 1008.1L1330.8 1007.3L1332.2 1007.2L1333.6 1006.3L1335.0 1006.0L1336.4 1006.6L1337.8 1006.3L1339.1 1006.2L1340.5 1007.1L1341.9 1007.3L1343.3 1007.2L1344.7 1008.1L1346.1 1008.6L1347.5 1008.4L1348.9 1009.1L1350.3 1009.7L1351.6 1009.5L1353.0 1010.1L1354.4 1010.9L1355.7 1010.9L1357.1 1011.1L1358.6 1012.1L1360.0 1012.0L1361.4 1011.9L1362.9 1012.8L1364.4 1012.5L1366.0 1012.5L1367.5 1013.3L1369.0 1012.9L1370.6 1013.0L1372.1 1013.7L1373.6 1013.2L1375.0 1013.7L1376.4 1014.4L1377.9 1014.0L1379.3 1014.3L1380.6 1015.2L1382.0 1015.1L1383.4 1015.2L1384.7 1016.0L1386.1 1016.1L1387.5 1016.0L1389.1 1016.7L1390.7 1016.6L1392.3 1016.6L1394.0 1017.2L1395.6 1016.8L1397.1 1017.0L1398.6 1017.4L1400.0 1016.8L1401.7 1016.8L1403.3 1016.7L1404.8 1015.7L1406.2 1015.6L1407.5 1015.2L1408.8 1013.8L1409.9 1012.7L1411.2 1012.3L1412.6 1011.6L1414.3 1011.2L1416.0 1011.6L1417.5 1011.2L1418.8 1011.7L1419.6 1013.2L1420.2 1014.7L1420.6 1016.2L1420.9 1018.1L1421.2 1020.0L1421.4 1020.8L1421.6 1021.8L1421.7 1022.7L1421.9 1023.7L1422.0 1024.8L1422.1 1026.1L1422.3 1027.3L1422.4 1028.5L1422.5 1030.1L1422.6 1031.4L1422.7 1032.9L1422.9 1034.4L1423.0 1036.0L1423.1 1037.6L1423.2 1039.2L1423.3 1040.9L1423.4 1042.5L1423.5 1044.3L1423.6 1045.8L1423.7 1047.6L1423.8 1049.2L1423.9 1050.8L1424.0 1052.5L1424.1 1054.0L1424.2 1055.7L1424.3 1057.1L1424.4 1058.6L1424.5 1060.2L1424.6 1061.5L1424.8 1062.8L1424.9 1064.2L1425.0 1065.3L1425.2 1067.0L1425.3 1068.5L1425.5 1070.2L1425.6 1071.7L1425.8 1073.2L1425.9 1074.8L1426.1 1076.2L1426.3 1077.8L1426.4 1079.2L1426.6 1080.6L1426.8 1081.9L1426.9 1083.3L1427.1 1084.7L1427.3 1086.1L1427.5 1087.5L1427.8 1088.8L1428.0 1090.0L1428.4 1092.0L1428.8 1094.1L1429.2 1095.9L1429.6 1097.4L1430.1 1098.7L1430.6 1099.4L1431.2 1099.6L1432.1 1099.5L1433.0 1098.9L1434.0 1097.4L1435.0 1095.2L1436.0 1093.8L1436.9 1092.9L1437.9 1092.1L1438.9 1090.6L1439.9 1089.1L1441.0 1088.1L1442.0 1087.3L1443.1 1085.8L1444.3 1084.1L1445.4 1083.1L1446.6 1082.3L1447.7 1080.8L1448.8 1079.7L1450.1 1079.3L1451.4 1079.1L1452.5 1077.8L1453.1 1076.7L1453.6 1075.5L1454.1 1074.1L1454.5 1072.7L1454.9 1071.3L1455.4 1069.9L1456.0 1068.3L1456.7 1066.7L1457.4 1065.0L1458.2 1064.0L1459.1 1063.2L1460.0 1062.0L1460.8 1060.4L1461.7 1058.7L1462.5 1057.3L1463.1 1056.2L1463.7 1055.4L1464.3 1054.2L1464.9 1052.8L1465.5 1051.2L1466.0 1049.6L1466.6 1048.1L1467.2 1047.0L1467.8 1045.8L1468.3 1044.6L1468.9 1043.2L1469.4 1041.5L1470.0 1039.9L1470.5 1038.3L1471.0 1037.0L1471.4 1035.5L1471.9 1034.3L1472.4 1032.9L1472.8 1031.5L1473.3 1030.0L1473.7 1028.2L1474.2 1026.5L1474.6 1024.8L1475.1 1023.3L1475.6 1021.8L1476.0 1020.6L1476.5 1019.7L1477.0 1018.8L1477.5 1017.8L1478.4 1015.9L1479.2 1014.1L1480.1 1012.9L1481.2 1012.3L1482.5 1011.1L1483.5 1010.1L1484.7 1009.4L1486.0 1009.5L1487.3 1008.5L1488.8 1007.8L1490.2 1007.8L1491.8 1007.1L1493.3 1006.3L1494.7 1006.4L1496.2 1005.4L1497.5 1004.6L1499.0 1004.7L1500.4 1004.1L1501.9 1003.1L1503.4 1003.3L1504.8 1002.6L1506.2 1001.6L1507.5 1001.7L1508.8 1001.1L1510.0 999.7L1511.1 998.9L1512.1 998.4L1513.0 997.4L1513.9 995.9L1514.8 994.5L1515.6 993.4L1516.4 992.6L1517.2 991.6L1518.0 990.0L1518.8 988.4L1519.6 987.2L1520.3 986.0L1521.0 984.9L1521.7 983.7L1522.5 981.9L1523.2 980.3L1524.1 979.0L1525.0 978.1L1525.9 977.1L1526.8 975.6L1527.8 973.9L1528.8 972.7L1529.9 971.9L1530.9 970.6L1532.0 968.9L1533.0 968.1L1534.1 967.8L1535.1 967.5L1536.0 967.0L1536.9 967.0L1537.8 967.7L1538.6 969.0L1539.4 970.2L1540.2 971.2L1541.0 972.3L1541.8 973.9L1542.6 975.9L1543.4 977.6L1544.2 978.8L1545.0 979.8L1545.8 980.9L1546.6 982.4L1547.4 984.1L1548.2 985.4L1549.1 986.3L1549.9 987.4L1550.7 988.8L1551.5 990.4L1552.4 991.9L1553.2 992.8L1554.1 993.7L1555.0 994.8L1556.1 996.3L1557.1 997.5L1558.2 998.0L1559.4 999.0L1560.5 1000.5L1561.6 1001.4L1562.8 1001.9L1563.9 1002.8L1565.0 1004.2M1311.2 1109.8L1312.7 1110.0L1314.1 1110.8L1315.5 1110.7L1316.9 1110.8L1318.4 1111.6L1319.8 1111.3L1321.2 1111.1L1322.5 1111.5L1324.0 1110.8L1325.4 1109.8L1326.8 1109.5L1328.2 1108.3L1329.6 1107.1L1331.1 1106.9L1332.5 1106.4L1333.9 1105.7L1335.3 1106.3L1336.7 1106.6L1338.1 1106.3L1339.5 1106.9L1341.0 1107.4L1342.5 1107.2L1343.9 1107.9L1345.4 1108.5L1346.9 1108.2L1348.5 1108.9L1350.1 1109.5L1351.6 1109.3L1353.2 1110.4L1354.7 1110.5L1356.1 1110.3L1357.5 1111.0L1359.1 1110.7L1360.6 1110.1L1362.0 1110.3L1363.4 1109.8L1364.8 1109.2L1366.2 1109.7L1367.7 1109.9L1369.0 1109.8L1370.4 1110.8L1371.8 1111.6L1373.3 1111.7L1375.0 1112.7L1376.2 1113.1L1377.5 1112.8L1378.8 1113.3L1380.2 1113.9L1381.7 1113.7L1383.2 1114.1L1384.8 1114.8L1386.3 1114.4L1387.9 1115.0L1389.4 1115.3L1390.9 1114.9L1392.3 1115.5L1393.7 1115.9L1395.0 1115.3L1396.5 1115.4L1398.1 1115.8L1399.6 1115.1L1401.0 1115.4L1402.4 1115.5L1403.8 1114.7L1405.1 1114.5L1406.3 1114.6L1407.5 1113.9L1408.7 1112.7L1409.7 1112.0L1410.7 1111.3L1411.6 1110.1L1412.5 1108.5L1413.3 1107.0L1414.2 1106.2L1415.0 1105.3L1415.9 1103.9L1416.7 1101.9L1417.6 1100.0L1418.4 1098.6L1419.2 1097.4L1419.9 1096.4L1420.6 1095.4L1421.2 1094.8L1421.8 1095.0L1422.3 1095.9L1422.7 1097.1L1423.1 1098.7L1423.5 1100.5L1423.9 1102.4L1424.2 1104.3L1424.6 1106.1L1425.0 1107.6L1425.3 1108.8L1425.5 1110.0L1425.8 1111.5L1426.0 1113.0L1426.2 1114.7L1426.5 1116.6L1426.7 1118.4L1426.9 1120.2L1427.1 1122.1L1427.4 1124.0L1427.6 1125.7L1427.9 1127.4L1428.2 1128.9L1428.5 1130.2L1428.8 1131.3L1429.2 1131.9L1429.6 1132.3L1430.0 1132.3L1430.9 1131.9L1431.8 1131.2L1432.9 1130.2L1433.9 1128.2L1435.1 1126.1L1436.2 1125.0L1437.3 1124.4L1438.4 1123.1L1439.5 1121.4L1440.7 1120.7L1441.8 1120.2L1443.0 1118.9L1444.0 1117.8L1445.0 1117.5L1447.0 1116.6L1448.8 1115.9L1449.6 1117.0L1450.4 1118.4L1451.1 1119.7L1451.8 1121.0L1452.5 1122.2L1453.1 1123.5L1453.6 1125.0L1454.1 1127.0L1454.6 1128.8L1455.1 1130.4L1455.8 1131.7L1456.6 1132.5L1457.5 1133.5L1458.6 1134.6L1460.0 1135.5L1461.5 1135.5L1463.0 1136.3L1464.6 1136.6L1466.1 1136.2L1467.5 1136.7L1468.8 1136.4L1470.0 1135.2L1471.1 1134.4L1472.1 1133.5L1473.0 1131.9L1474.0 1130.1L1475.0 1128.5L1475.9 1127.6L1476.7 1126.7L1477.5 1125.4L1478.3 1123.7L1479.2 1122.2L1480.2 1121.4L1481.3 1120.8L1482.5 1119.5L1483.6 1118.5L1484.9 1118.5L1486.3 1118.2L1487.8 1117.3L1489.3 1117.3L1490.9 1117.0L1492.5 1116.3L1494.0 1116.6L1495.6 1116.2L1497.1 1115.7L1498.6 1116.1L1500.0 1115.6L1501.5 1114.9L1502.9 1115.3L1504.4 1114.9L1505.8 1114.3L1507.2 1114.7L1508.5 1114.4L1509.9 1113.6L1511.2 1113.6L1512.5 1113.4L1513.7 1112.2L1514.9 1111.3L1516.0 1111.0L1517.1 1110.1L1518.2 1108.7L1519.3 1107.6L1520.4 1107.1L1521.5 1105.9L1522.7 1104.4L1523.8 1103.4L1525.0 1102.9L1526.0 1101.8L1527.1 1100.2L1528.2 1099.3L1529.3 1098.7L1530.4 1097.3L1531.5 1095.7L1532.7 1094.6L1533.8 1094.1L1534.9 1092.9L1536.0 1091.3L1537.1 1090.6L1538.2 1090.3L1539.3 1089.6L1540.3 1088.8L1541.2 1088.5L1542.8 1089.0L1544.4 1089.0L1545.8 1089.6L1547.3 1090.9L1548.7 1091.5L1550.0 1092.2L1551.2 1093.7L1552.3 1094.8L1553.3 1095.3L1554.3 1096.4L1555.4 1098.1L1556.4 1099.4L1557.5 1099.9L1558.7 1100.7L1560.0 1102.1L1561.2 1102.9L1562.5 1103.1L1563.7 1104.0L1565.0 1105.4M1311.2 1220.1L1312.7 1219.8L1314.1 1220.7L1315.5 1220.8L1316.9 1220.4L1318.3 1221.2L1319.7 1221.5L1321.1 1220.9L1322.5 1221.4L1324.0 1221.3L1325.4 1220.2L1326.8 1220.0L1328.2 1220.1L1329.6 1218.8L1331.1 1218.6L1332.5 1219.3L1333.9 1218.8L1335.4 1219.4L1336.8 1220.8L1338.3 1220.7L1339.8 1221.6L1341.2 1223.0L1342.5 1222.6L1343.8 1222.6L1345.1 1222.8L1346.3 1221.7L1347.4 1220.1L1348.6 1219.3L1350.0 1219.3L1351.3 1218.3L1352.8 1218.1L1354.3 1218.8L1356.0 1218.2L1357.6 1218.7L1359.3 1219.2L1360.9 1218.9L1362.5 1219.9L1363.9 1220.1L1365.4 1219.9L1366.9 1221.0L1368.4 1221.4L1369.8 1221.4L1371.3 1222.6L1372.6 1223.2L1373.9 1222.9L1375.0 1223.7L1376.8 1224.7L1378.4 1224.6L1380.0 1225.3L1381.4 1224.7L1382.8 1223.2L1384.3 1223.0L1385.8 1222.1L1387.5 1220.9L1388.9 1221.4L1390.5 1221.1L1392.2 1220.9L1393.9 1222.0L1395.6 1221.4L1397.2 1222.0L1398.7 1222.7L1400.0 1222.3L1401.8 1223.0L1403.3 1223.3L1405.0 1222.5L1406.2 1222.7L1407.5 1222.5L1408.8 1221.3L1410.2 1220.6L1411.5 1220.4L1412.7 1219.0L1413.8 1217.5L1414.6 1216.9L1415.4 1216.0L1416.0 1215.0L1416.6 1213.3L1417.2 1211.6L1417.7 1209.9L1418.2 1208.4L1418.8 1207.3L1419.2 1206.3L1419.7 1205.1L1420.1 1204.0L1420.5 1202.5L1420.9 1201.1L1421.3 1199.5L1421.7 1197.8L1422.1 1196.0L1422.5 1194.7L1422.9 1193.3L1423.2 1192.2L1423.6 1191.2L1424.0 1190.0L1424.4 1188.8L1424.7 1187.4L1425.1 1185.9L1425.5 1184.5L1425.9 1182.8L1426.3 1181.2L1426.7 1179.7L1427.1 1178.4L1427.5 1177.3L1427.9 1176.0L1428.4 1174.9L1428.8 1173.7L1429.3 1172.2L1429.7 1170.7L1430.2 1169.2L1430.6 1167.6L1431.1 1165.9L1431.5 1164.6L1432.0 1163.6L1432.5 1162.7L1433.1 1161.2L1433.7 1159.9L1434.3 1158.1L1434.9 1156.1L1435.5 1154.3L1436.1 1152.9L1436.8 1152.1L1437.5 1151.7L1438.7 1150.0L1440.0 1148.6L1441.2 1148.7L1442.0 1149.9L1442.7 1151.0L1443.4 1152.1L1444.2 1153.3L1445.0 1154.7L1446.1 1156.3L1447.3 1157.4L1448.6 1157.6L1450.0 1158.8L1451.4 1159.5L1453.0 1158.7L1454.6 1159.4L1456.2 1159.6L1457.5 1159.5L1458.5 1160.6L1459.3 1162.3L1460.0 1163.8L1460.7 1165.1L1461.3 1166.4L1461.9 1167.9L1462.5 1169.5L1462.9 1171.0L1463.3 1172.6L1463.7 1174.2L1464.1 1175.6L1464.4 1177.1L1464.8 1178.4L1465.1 1179.6L1465.5 1180.9L1465.8 1182.2L1466.1 1183.8L1466.5 1185.2L1466.8 1186.8L1467.1 1188.2L1467.5 1190.0L1467.9 1191.6L1468.2 1193.3L1468.6 1194.7L1468.9 1196.3L1469.3 1197.5L1469.6 1198.9L1470.0 1200.2L1470.3 1201.4L1470.7 1202.7L1471.0 1204.1L1471.4 1205.6L1471.7 1207.2L1472.1 1208.7L1472.5 1210.3L1472.9 1212.0L1473.3 1213.5L1473.7 1214.7L1474.1 1216.0L1474.5 1217.2L1474.9 1218.3L1475.4 1219.6L1475.8 1221.0L1476.3 1222.6L1476.9 1224.1L1477.5 1225.4L1478.3 1226.5L1479.1 1227.4L1480.0 1228.4L1481.0 1230.1L1482.0 1231.4L1483.0 1232.1L1484.0 1232.5L1485.0 1233.6L1486.4 1235.3L1487.9 1235.2L1489.4 1236.3L1491.0 1237.3L1492.5 1237.1L1494.0 1237.8L1495.5 1238.3L1497.0 1237.8L1498.5 1238.4L1500.0 1239.1L1501.3 1239.1L1502.5 1239.8L1503.8 1241.2L1505.0 1241.8L1506.2 1242.4L1507.5 1243.9L1508.6 1245.0L1509.7 1245.5L1510.8 1246.2L1511.9 1247.9L1513.0 1249.2L1514.2 1249.5L1515.3 1250.5L1516.4 1251.9L1517.5 1252.9L1519.0 1253.1L1520.5 1254.5L1522.0 1255.5L1523.5 1255.3L1525.0 1256.4L1526.5 1257.0L1528.0 1256.8L1529.6 1257.9L1531.1 1258.1L1532.5 1257.1L1533.6 1256.9L1534.5 1256.5L1535.5 1254.9L1536.4 1252.9L1537.3 1251.5L1538.2 1250.4L1539.1 1249.3L1540.0 1247.6L1540.9 1245.9L1541.7 1244.6L1542.6 1243.8L1543.4 1243.0L1544.3 1241.5L1545.1 1239.6L1545.9 1238.1L1546.7 1237.3L1547.5 1236.7L1548.4 1235.1L1549.1 1233.5L1549.9 1231.8L1550.7 1230.7L1551.5 1230.1L1552.5 1229.1L1553.6 1227.6L1554.9 1226.5L1556.2 1226.3L1557.5 1225.6L1558.8 1224.0L1560.0 1223.7L1561.3 1223.0L1562.6 1221.4L1563.8 1220.2L1565.0 1219.9M1603.8 105.4L1605.2 106.2L1606.6 105.2L1608.0 105.4L1609.4 106.4L1610.8 105.6L1612.2 105.8L1613.6 106.8L1615.0 106.2L1616.5 105.9L1617.9 107.1L1619.4 106.4L1620.8 106.2L1622.2 107.2L1623.6 107.1L1625.0 106.3L1626.6 107.7L1628.2 107.1L1629.8 107.1L1631.3 108.1L1632.6 107.5L1633.8 107.0L1636.2 106.6L1636.9 107.7L1637.5 108.9L1640.0 108.6L1641.1 107.7L1642.4 106.8L1643.8 107.2L1645.4 106.5L1647.0 105.3L1648.5 105.8L1650.0 105.0L1651.4 103.9L1652.8 104.0L1654.2 103.3L1655.6 101.5L1656.9 101.7L1658.1 101.9L1659.2 100.9L1660.9 101.7L1662.3 103.8L1663.8 104.1L1664.9 105.1L1666.2 107.2L1667.4 108.4L1668.7 108.7L1670.0 110.2L1671.8 111.0L1673.6 110.5L1675.0 111.2L1675.6 110.4L1675.9 108.6L1676.1 106.2L1676.1 104.1L1676.1 102.2L1676.2 100.8L1676.2 100.3L1676.3 100.3L1676.4 100.6L1676.5 101.6L1676.5 102.5L1676.6 103.7L1676.6 105.1L1676.7 106.8L1676.7 108.5L1676.8 110.6L1676.8 112.4L1676.9 114.6L1676.9 116.6L1677.0 118.9L1677.0 120.8L1677.1 123.0L1677.1 125.1L1677.1 127.1L1677.2 128.7L1677.2 130.5L1677.3 131.9L1677.3 133.2L1677.4 134.2L1677.4 135.2L1677.5 135.5L1677.5 135.8L1677.5 135.4L1677.6 135.2L1677.6 134.4L1677.7 133.5L1677.7 132.6L1677.8 131.5L1677.8 129.8L1677.8 128.4L1677.9 126.9L1677.9 125.0L1677.9 123.2L1678.0 121.2L1678.0 119.4L1678.1 117.6L1678.1 115.8L1678.2 114.0L1678.2 112.0L1678.3 110.1L1678.3 108.6L1678.4 107.2L1678.5 105.8L1678.6 104.5L1678.7 103.3L1678.8 102.5L1679.0 100.5L1679.4 98.8L1679.7 97.3L1680.0 97.0L1680.1 97.2L1680.3 97.8L1680.4 99.2L1680.5 101.0L1680.6 102.7L1680.7 104.9L1680.7 106.9L1680.8 109.0L1680.9 110.8L1681.0 112.3L1681.1 113.6L1681.2 114.4L1681.2 114.8L1681.3 114.5L1681.4 113.6L1681.5 112.7L1681.5 111.2L1681.6 109.5L1681.6 107.7L1681.7 105.9L1681.8 103.8L1681.8 101.8L1681.9 100.0L1682.0 98.3L1682.2 96.7L1682.3 95.4L1682.5 94.6L1683.8 93.1L1684.0 93.7L1684.3 94.9L1684.5 96.5L1684.7 98.4L1685.0 100.3L1685.2 101.2L1685.4 101.9L1685.6 103.2L1685.9 104.3L1686.1 105.5L1686.4 106.9L1686.7 108.4L1686.9 109.8L1687.2 111.6L1687.5 113.3L1687.9 115.0L1688.2 116.8L1688.5 118.4L1688.8 120.1L1689.1 121.4L1689.4 122.5L1689.7 123.7L1690.0 124.6L1690.3 126.0L1690.7 127.5L1691.1 128.9L1691.4 130.5L1691.8 132.2L1692.2 134.0L1692.5 135.7L1692.9 137.1L1693.3 138.5L1693.6 139.8L1694.0 141.0L1694.3 142.1L1694.7 143.2L1695.0 144.6L1695.3 145.9L1695.7 147.4L1696.0 149.3L1696.3 151.0L1696.5 152.7L1696.8 154.5L1697.1 156.1L1697.4 157.5L1697.7 158.9L1698.0 160.3L1698.4 161.2L1698.8 162.3L1699.2 163.6L1699.7 165.3L1700.3 167.5L1700.8 169.7L1701.4 171.9L1701.9 173.1L1702.5 173.8L1703.0 173.6L1703.7 172.8L1704.3 171.8L1705.0 170.9L1705.6 169.5L1706.2 168.1L1706.6 167.0L1707.0 165.5L1707.3 163.6L1707.6 162.0L1707.9 160.3L1708.2 158.5L1708.5 157.0L1708.8 155.5L1709.1 154.2L1709.4 152.7L1709.7 151.6L1710.0 150.3L1710.4 149.1L1710.8 147.3L1711.1 145.6L1711.5 143.7L1711.9 141.8L1712.3 140.0L1712.8 138.7L1713.2 137.8L1713.8 137.3L1716.2 136.0L1717.5 136.8L1718.8 139.3L1720.0 140.5L1722.5 138.6L1723.0 138.2L1723.4 137.6L1723.8 136.4L1724.2 134.7L1724.5 132.9L1724.8 131.2L1725.2 129.4L1725.5 127.5L1725.9 125.9L1726.2 124.4L1726.7 123.2L1727.1 121.9L1727.5 120.8L1727.9 119.6L1728.4 118.2L1728.9 116.6L1729.4 115.0L1730.0 113.2L1730.8 111.7L1731.7 111.1L1732.7 110.5L1733.8 108.6L1735.0 106.8L1736.0 106.9L1737.2 106.5L1738.4 104.8L1739.7 103.7L1741.0 104.0L1742.4 102.8L1743.7 101.3L1745.0 101.6L1746.4 101.0L1747.9 99.2L1749.5 99.6L1751.0 98.8L1752.4 97.3L1753.8 97.2L1755.0 96.7L1756.1 94.8L1757.1 93.5L1758.0 92.7L1758.8 91.9L1759.6 90.4L1760.4 88.4L1761.2 87.0L1762.1 86.1L1763.0 85.4L1763.8 84.4L1764.6 82.6L1765.4 80.8L1766.2 79.6L1766.9 79.1L1767.6 78.3L1768.3 76.9L1768.9 75.1L1769.6 73.3L1770.3 72.0L1771.0 71.1L1771.7 70.4L1772.5 69.3L1773.4 67.4L1774.3 65.4L1775.2 64.6L1776.1 63.9L1777.0 62.8L1778.0 60.8L1779.0 59.4L1780.0 58.9L1781.2 58.1L1782.4 56.1L1783.7 54.8L1785.0 54.8L1786.2 53.8L1787.5 52.3L1789.1 52.9L1790.7 52.8L1792.3 52.5L1793.8 54.1L1794.9 54.8L1795.9 55.3L1796.8 56.6L1797.7 58.9L1798.8 60.6L1799.7 61.3L1800.8 61.9L1801.8 63.6L1802.9 65.6L1803.9 66.2L1805.0 66.8L1805.9 68.5L1806.8 70.3L1807.8 71.6L1808.7 72.3L1809.7 73.1L1810.6 74.9L1811.6 76.7L1812.5 77.8L1813.4 78.2L1814.4 79.5L1815.3 81.6L1816.2 83.2L1817.2 83.9L1818.1 84.6L1819.1 85.8L1820.0 87.8L1820.9 89.4L1821.8 90.0L1822.7 90.9L1823.7 92.4L1824.6 94.5L1825.5 95.8L1826.5 96.2L1827.5 97.0L1828.7 98.9L1829.9 99.9L1831.1 99.9L1832.3 100.9L1833.6 102.6L1835.0 102.4L1836.3 102.4L1837.6 103.9L1839.0 104.1L1840.5 103.5L1841.9 104.7L1843.4 104.9L1845.0 104.5L1846.4 105.5L1847.8 105.6L1849.3 105.1L1850.8 106.1L1852.3 105.9L1853.8 105.3L1855.4 106.3L1856.9 106.1L1858.5 105.7L1860.0 106.7M1603.8 308.5L1605.2 308.6L1606.7 309.6L1608.1 308.5L1609.6 308.5L1611.0 309.5L1612.5 308.5L1613.9 308.1L1615.3 308.9L1616.7 307.7L1618.1 307.1L1619.5 307.5L1621.0 306.5L1622.5 305.9L1623.9 306.4L1625.4 305.3L1627.1 304.8L1628.7 305.3L1630.3 303.7L1631.8 303.8L1633.1 304.4L1634.2 303.5L1635.0 303.2L1636.2 304.8L1637.2 305.6L1638.5 304.7L1640.1 303.9L1641.7 304.9L1643.4 303.4L1645.0 303.8L1646.4 304.4L1647.9 303.7L1649.4 304.4L1650.9 305.3L1652.4 304.6L1653.7 305.5L1655.0 306.9L1656.4 306.9L1657.6 307.8L1658.8 310.2L1660.0 311.1L1661.2 310.6L1662.8 311.1L1664.3 310.7L1665.9 308.9L1667.5 309.1L1669.0 308.9L1670.7 308.5L1672.3 309.7L1673.8 309.2L1675.0 308.0L1675.5 307.7L1675.9 306.8L1676.2 305.7L1676.4 304.1L1676.5 302.5L1676.5 300.6L1676.5 298.6L1676.5 296.6L1676.5 294.6L1676.4 292.8L1676.3 291.1L1676.2 289.6L1676.2 288.6L1676.2 287.9L1676.2 287.9L1676.3 288.1L1676.4 288.3L1676.4 289.2L1676.5 290.4L1676.5 291.6L1676.6 292.9L1676.6 294.8L1676.7 296.6L1676.7 298.4L1676.8 300.4L1676.8 302.6L1676.9 304.8L1676.9 306.8L1676.9 308.9L1677.0 311.1L1677.0 313.3L1677.1 315.2L1677.1 317.1L1677.2 318.9L1677.2 320.4L1677.3 321.9L1677.3 323.3L1677.4 324.2L1677.4 324.8L1677.5 325.5L1677.5 325.4L1677.5 325.2L1677.6 324.6L1677.6 323.9L1677.7 322.9L1677.7 321.6L1677.8 320.3L1677.8 318.5L1677.9 316.7L1677.9 314.8L1678.0 312.9L1678.0 310.6L1678.1 308.5L1678.1 306.2L1678.2 304.1L1678.2 301.9L1678.3 299.9L1678.3 297.8L1678.4 295.8L1678.4 294.1L1678.5 292.3L1678.5 290.8L1678.6 289.7L1678.6 288.5L1678.7 287.8L1678.7 287.2L1678.8 287.2L1678.8 287.2L1678.8 287.5L1678.9 288.4L1678.9 289.2L1679.0 290.3L1679.0 291.6L1679.1 293.0L1679.1 294.8L1679.1 296.7L1679.2 298.5L1679.2 300.5L1679.3 302.6L1679.3 304.8L1679.3 306.9L1679.4 309.1L1679.4 311.1L1679.5 313.2L1679.5 315.3L1679.6 317.1L1679.6 319.0L1679.6 320.6L1679.7 322.4L1679.7 323.6L1679.8 324.9L1679.8 325.7L1679.9 326.6L1679.9 327.1L1680.0 327.2L1680.1 327.1L1680.2 326.3L1680.2 325.1L1680.3 323.4L1680.4 321.7L1680.5 319.7L1680.5 317.7L1680.6 315.8L1680.7 313.8L1680.8 311.7L1680.9 310.4L1681.0 309.2L1681.1 308.4L1681.2 308.0L1681.4 308.5L1681.5 309.0L1681.6 310.3L1681.8 311.6L1681.9 313.3L1682.1 315.1L1682.3 316.7L1682.4 318.9L1682.6 320.7L1682.8 322.6L1682.9 324.4L1683.1 326.1L1683.3 327.3L1683.4 328.4L1683.6 329.2L1683.8 329.4L1683.9 329.3L1684.0 328.7L1684.2 328.2L1684.3 327.0L1684.4 325.9L1684.6 324.5L1684.7 322.8L1684.8 321.4L1685.0 319.5L1685.1 318.0L1685.3 316.2L1685.5 314.4L1685.6 312.7L1685.8 310.9L1686.0 309.4L1686.2 307.9L1686.6 306.4L1686.9 304.4L1687.2 302.7L1687.5 301.3L1687.9 299.7L1688.3 298.3L1688.7 297.3L1689.1 296.2L1689.5 295.4L1690.0 294.3L1690.6 292.9L1691.3 290.7L1692.0 288.9L1692.7 287.5L1693.4 286.8L1694.2 286.3L1695.0 285.6L1696.9 283.4L1698.8 284.3L1699.5 284.8L1700.2 285.4L1700.8 286.7L1701.4 288.3L1702.0 290.4L1702.5 292.6L1702.9 294.0L1703.2 295.5L1703.6 296.9L1703.9 298.2L1704.2 299.6L1704.5 300.7L1704.8 301.9L1705.1 303.4L1705.4 304.8L1705.7 306.1L1706.0 308.0L1706.2 309.7L1706.5 311.2L1706.7 312.8L1707.0 314.3L1707.2 315.8L1707.4 317.5L1707.7 319.0L1707.9 320.5L1708.1 321.8L1708.3 323.2L1708.6 324.6L1708.8 325.7L1709.0 327.0L1709.3 328.2L1709.5 329.5L1709.7 330.6L1710.0 331.9L1710.3 333.7L1710.6 335.6L1710.9 337.7L1711.2 340.0L1711.5 342.0L1711.9 344.2L1712.2 345.7L1712.5 347.2L1712.9 348.0L1713.3 348.3L1713.8 348.4L1715.0 347.7L1716.2 346.8L1716.7 346.0L1717.0 344.6L1717.4 343.3L1717.7 341.3L1718.0 339.6L1718.3 337.5L1718.6 335.8L1718.9 334.0L1719.2 332.5L1719.6 331.2L1720.0 330.2L1720.4 328.9L1720.9 327.6L1721.3 326.1L1721.8 324.4L1722.3 322.5L1722.8 320.8L1723.3 319.4L1723.9 318.3L1724.4 317.4L1725.0 316.8L1725.8 315.6L1726.5 313.5L1727.3 311.6L1728.2 310.8L1729.1 310.7L1730.0 310.0L1731.5 308.1L1733.2 308.3L1735.0 308.2L1736.3 307.6L1737.6 308.4L1739.1 309.4L1740.5 308.9L1742.1 310.1L1743.6 311.2L1745.0 310.7L1746.5 312.0L1748.0 312.9L1749.4 312.2L1750.9 313.8L1752.4 314.7L1753.7 314.2L1755.0 315.4L1756.4 316.8L1757.6 317.0L1758.9 317.7L1760.0 319.4L1761.2 320.4L1762.5 320.3L1763.7 321.9L1765.0 323.6L1766.2 324.0L1767.5 324.3L1768.7 326.5L1769.9 327.6L1771.1 328.1L1772.4 329.3L1773.7 331.3L1775.0 331.1L1776.5 331.1L1778.0 332.4L1779.5 331.6L1781.0 331.1L1782.5 331.9L1783.8 330.8L1785.1 329.4L1786.4 329.6L1787.6 328.6L1788.8 326.6L1790.0 326.0L1791.1 326.0L1792.2 324.6L1793.3 322.7L1794.4 321.7L1795.3 321.5L1796.2 320.3L1797.3 318.3L1798.1 316.8L1799.0 316.0L1800.0 315.4L1801.1 314.1L1802.3 312.5L1803.6 312.3L1805.0 311.9L1806.4 310.0L1807.9 309.6L1809.4 309.8L1811.0 308.0L1812.5 308.1L1813.9 308.1L1815.4 306.6L1816.8 306.9L1818.3 307.0L1820.0 305.8L1821.3 306.2L1822.7 306.8L1824.1 305.7L1825.6 306.4L1827.2 306.8L1828.7 305.9L1830.3 306.9L1831.9 306.9L1833.5 306.5L1835.0 307.4L1836.5 307.0L1838.0 306.6L1839.6 307.6L1841.1 306.9L1842.7 306.8L1844.2 307.8L1845.7 306.8L1847.2 307.1L1848.6 308.1L1850.0 307.2L1851.5 307.4L1853.0 308.4L1854.4 307.6L1855.8 307.9L1857.2 308.9L1858.6 308.6L1860.0 308.3M1603.8 508.3L1605.2 509.3L1606.6 508.9L1608.0 508.4L1609.4 509.6L1610.8 509.3L1612.2 508.7L1613.6 509.6L1615.0 509.8L1616.5 509.0L1617.9 509.9L1619.3 510.3L1620.7 509.4L1622.2 510.4L1623.6 510.9L1625.0 509.9L1626.5 511.0L1628.2 511.6L1629.8 511.0L1631.4 512.2L1632.9 512.2L1634.1 511.6L1635.0 511.8L1636.2 510.5L1637.2 510.0L1638.5 509.4L1640.1 510.9L1641.7 510.9L1643.4 510.7L1645.0 511.9L1646.4 511.0L1647.9 510.2L1649.4 510.7L1650.9 509.6L1652.3 508.8L1653.7 509.2L1655.0 508.0L1656.7 506.6L1658.2 506.6L1659.7 505.0L1661.2 504.7L1662.8 505.8L1664.4 505.7L1665.9 507.1L1667.5 508.4L1668.8 508.5L1670.2 509.6L1671.5 511.4L1672.7 511.2L1673.8 510.7L1674.4 510.1L1674.8 509.1L1675.2 507.5L1675.4 505.4L1675.6 503.3L1675.8 501.3L1675.9 499.7L1676.1 498.5L1676.2 498.0L1676.4 498.2L1676.5 498.5L1676.6 499.2L1676.6 500.2L1676.7 501.5L1676.8 502.9L1676.8 504.4L1676.9 506.2L1676.9 507.9L1677.0 509.8L1677.0 511.9L1677.0 514.0L1677.1 516.1L1677.1 518.4L1677.1 520.6L1677.1 522.4L1677.2 524.6L1677.2 526.5L1677.2 528.2L1677.3 529.6L1677.3 531.2L1677.3 532.3L1677.4 533.2L1677.4 533.9L1677.4 534.5L1677.5 534.7L1677.6 534.3L1677.6 533.9L1677.7 533.2L1677.7 532.1L1677.8 531.1L1677.8 529.8L1677.9 528.2L1678.0 526.3L1678.0 524.5L1678.1 522.7L1678.1 520.8L1678.2 518.8L1678.3 516.6L1678.3 514.3L1678.4 512.2L1678.4 510.2L1678.5 508.1L1678.6 506.1L1678.6 504.3L1678.7 502.6L1678.8 500.8L1678.8 499.5L1678.9 498.2L1679.0 497.0L1679.0 496.1L1679.1 495.4L1679.2 495.2L1679.2 495.1L1679.4 495.5L1679.5 496.2L1679.6 497.6L1679.7 499.2L1679.8 501.2L1679.9 503.3L1680.0 505.4L1680.1 507.6L1680.2 509.9L1680.3 511.6L1680.4 513.2L1680.5 514.5L1680.6 515.2L1680.8 515.5L1680.8 515.2L1680.9 514.5L1681.0 513.4L1681.0 512.2L1681.1 510.7L1681.1 508.9L1681.2 506.9L1681.2 504.9L1681.3 503.0L1681.4 500.9L1681.5 498.7L1681.6 497.0L1681.8 495.2L1682.0 493.9L1682.2 492.6L1682.5 491.9L1684.2 491.6L1684.6 492.3L1684.9 493.3L1685.1 494.5L1685.3 495.9L1685.4 497.7L1685.6 499.6L1685.7 501.2L1686.0 503.2L1686.2 504.5L1686.5 505.9L1686.8 507.0L1687.1 508.6L1687.5 510.1L1687.8 511.7L1688.2 513.5L1688.6 515.4L1688.9 517.0L1689.3 518.4L1689.7 519.7L1690.1 520.9L1690.5 522.1L1690.9 523.1L1691.2 524.4L1691.6 525.9L1692.0 527.5L1692.4 529.1L1692.7 530.9L1693.1 532.5L1693.5 534.1L1693.8 535.4L1694.2 536.6L1694.6 537.4L1695.0 538.4L1695.4 539.7L1695.8 540.8L1696.2 542.2L1696.8 544.2L1697.4 546.4L1698.1 548.0L1698.7 549.4L1699.3 550.4L1700.0 551.4L1700.6 552.1L1701.2 553.2L1702.2 553.1L1703.2 551.3L1704.1 548.9L1705.0 546.9L1705.4 546.2L1705.7 545.3L1706.0 544.3L1706.3 543.1L1706.6 541.9L1706.8 540.5L1707.1 538.8L1707.3 537.0L1707.5 535.4L1707.8 533.4L1708.0 531.9L1708.2 530.0L1708.5 528.3L1708.8 526.9L1709.1 525.3L1709.4 524.0L1709.7 522.5L1710.0 521.1L1710.3 519.8L1710.6 518.4L1710.9 517.3L1711.2 515.7L1711.5 514.3L1711.8 512.7L1712.2 511.1L1712.5 509.8L1713.1 507.4L1713.7 505.3L1714.3 504.4L1715.0 504.2L1715.7 504.8L1716.4 505.3L1717.2 506.4L1718.0 507.8L1718.8 509.8L1719.3 511.7L1719.8 513.7L1720.3 515.6L1720.8 516.9L1721.3 518.1L1721.9 518.7L1722.5 519.6L1725.0 519.0L1725.9 517.5L1726.8 515.9L1727.7 515.2L1728.8 514.3L1730.0 512.5L1731.2 511.1L1732.5 511.4L1734.0 510.2L1735.5 509.0L1737.0 509.3L1738.5 508.3L1740.0 507.1L1741.4 507.2L1742.9 506.3L1744.3 504.9L1745.7 505.1L1747.2 504.1L1748.6 502.7L1750.0 502.8L1751.3 502.2L1752.7 500.4L1754.1 500.2L1755.5 500.0L1756.8 498.3L1758.0 497.5L1759.1 497.5L1760.0 496.7L1761.0 494.9L1761.6 493.2L1762.5 492.3L1763.2 491.8L1764.1 491.2L1765.0 489.6L1766.0 487.6L1767.0 486.9L1768.0 486.5L1769.0 485.3L1770.0 483.4L1771.0 482.0L1772.1 481.7L1773.1 480.9L1774.2 478.8L1775.3 477.7L1776.4 477.4L1777.5 476.9L1778.9 474.6L1780.4 474.4L1781.9 473.9L1783.5 472.1L1785.0 472.6L1786.5 472.8L1788.1 472.2L1789.6 473.9L1791.1 474.5L1792.5 474.5L1793.6 476.0L1794.7 477.8L1795.7 478.7L1796.6 479.4L1797.6 481.1L1798.8 483.1L1799.7 483.9L1800.8 483.9L1801.8 484.8L1802.9 486.7L1804.1 487.6L1805.2 487.8L1806.4 488.6L1807.5 490.4L1808.7 491.3L1809.9 491.2L1811.2 492.7L1812.4 494.2L1813.7 494.3L1815.0 495.0L1816.2 497.1L1817.5 497.7L1818.7 497.8L1820.0 499.4L1821.2 501.1L1822.4 501.2L1823.7 501.9L1824.9 503.8L1826.2 504.6L1827.5 504.3L1828.9 505.7L1830.3 506.7L1831.7 506.3L1833.1 507.0L1834.5 507.9L1836.0 507.2L1837.5 507.8L1839.0 508.7L1840.5 508.0L1842.1 508.8L1843.7 508.9L1845.3 508.1L1846.9 509.2L1848.5 508.9L1850.0 508.3L1851.5 509.3L1852.9 508.7L1854.4 508.2L1855.8 509.3L1857.2 509.1L1858.6 508.3L1860.0 509.0M1603.8 609.6L1605.2 610.0L1606.6 609.3L1608.0 609.8L1609.4 610.3L1610.8 609.7L1612.2 609.8L1613.6 610.3L1615.0 609.8L1616.5 609.7L1617.9 610.1L1619.3 609.5L1620.7 609.1L1622.2 609.6L1623.6 609.0L1625.0 608.4L1626.4 609.0L1627.9 608.2L1629.3 607.6L1630.7 608.0L1632.1 607.4L1633.6 606.8L1635.0 607.3L1636.4 607.2L1637.9 606.5L1639.3 607.2L1640.7 607.4L1642.1 606.9L1643.6 607.5L1645.0 607.7L1646.4 607.3L1647.9 607.9L1649.3 608.3L1650.7 607.6L1652.2 608.4L1653.6 608.9L1655.0 608.5L1656.4 608.9L1657.9 609.8L1659.3 609.4L1660.7 610.1L1662.1 611.0L1663.6 610.8L1665.0 611.1L1666.5 612.0L1668.1 611.8L1669.7 612.4L1671.3 613.2L1672.7 612.8L1674.0 612.9L1675.0 612.9L1675.6 611.9L1676.1 610.4L1676.3 608.4L1676.5 606.5L1676.6 604.5L1676.6 602.7L1676.6 601.1L1676.6 600.2L1676.8 599.8L1676.9 600.0L1677.0 600.7L1677.1 602.1L1677.2 603.6L1677.3 605.4L1677.4 607.4L1677.5 609.7L1677.6 611.7L1677.7 613.8L1677.8 615.7L1677.9 617.4L1678.0 618.7L1678.1 619.5L1678.2 619.8L1678.4 619.6L1678.6 618.6L1678.7 616.8L1678.9 615.0L1679.1 612.8L1679.3 610.6L1679.5 608.7L1679.6 607.1L1679.8 605.8L1680.0 605.3L1680.2 605.6L1680.3 606.6L1680.4 608.0L1680.5 609.9L1680.7 611.9L1680.8 614.2L1681.0 616.2L1681.1 618.1L1681.3 619.6L1681.5 620.5L1681.8 620.8L1682.3 620.1L1682.9 618.1L1683.8 616.7L1684.8 615.1L1686.0 613.2L1687.5 612.6L1688.8 612.2L1690.4 611.0L1692.0 611.3L1693.6 611.1L1695.0 610.9L1696.2 611.8L1697.2 612.9L1698.2 613.7L1699.1 614.6L1700.0 616.0L1700.5 617.2L1701.0 618.6L1701.5 619.9L1701.9 621.2L1702.3 622.4L1702.7 623.7L1703.1 624.9L1703.5 626.2L1703.9 627.6L1704.2 629.2L1704.6 630.9L1705.0 632.5L1705.4 634.2L1705.7 635.7L1706.1 637.1L1706.5 638.5L1706.9 639.7L1707.2 641.0L1707.6 642.4L1707.9 643.7L1708.3 645.1L1708.6 646.6L1709.0 648.3L1709.3 649.9L1709.7 651.3L1710.0 652.8L1710.4 654.6L1710.7 656.3L1711.1 658.1L1711.4 659.7L1711.7 661.5L1712.1 663.0L1712.4 664.4L1712.8 665.5L1713.3 666.4L1713.8 667.0L1714.6 667.1L1715.6 665.8L1716.6 663.8L1717.5 662.1L1717.9 661.5L1718.2 660.7L1718.5 659.6L1718.8 658.5L1719.0 657.0L1719.2 655.6L1719.4 654.1L1719.6 652.6L1719.8 650.8L1720.0 649.2L1720.2 647.6L1720.4 645.8L1720.6 644.2L1720.8 642.5L1721.0 641.1L1721.2 639.7L1721.5 638.0L1721.8 636.6L1722.1 635.2L1722.4 633.7L1722.6 632.4L1722.9 631.1L1723.2 629.7L1723.5 628.2L1723.9 626.7L1724.2 625.3L1724.6 623.8L1725.0 622.3L1725.6 620.4L1726.1 618.7L1726.7 617.4L1727.4 616.2L1728.1 615.0L1729.0 613.4L1730.0 612.0L1731.1 611.9L1732.4 612.1L1733.7 611.6L1735.2 611.5L1736.7 612.2L1738.3 611.8L1740.0 611.9L1741.2 612.3L1742.4 611.9L1743.8 611.6L1745.1 612.2L1746.6 612.0L1748.1 611.6L1749.6 612.3L1751.1 612.0L1752.6 611.7L1754.1 612.4L1755.7 611.9L1757.1 611.7L1758.6 612.4L1759.9 612.1L1761.3 611.7L1762.5 612.1L1764.3 612.0L1765.9 611.7L1767.6 612.4L1769.1 611.8L1770.6 611.8L1772.1 612.3L1773.6 611.3L1775.0 611.1L1776.4 611.1L1777.6 610.0L1778.9 608.9L1780.1 608.8L1781.3 607.9L1782.5 606.5L1783.8 605.6L1785.0 605.4L1786.3 604.2L1787.5 603.1L1788.8 602.8L1790.0 602.1L1791.3 600.7L1792.5 600.1L1793.8 599.9L1795.0 598.9L1796.3 597.5L1797.6 597.1L1798.8 596.4L1800.1 595.0L1801.3 594.3L1802.6 594.4L1803.8 593.8L1805.4 593.3L1806.9 594.4L1808.4 594.3L1810.0 594.7L1811.2 596.0L1812.4 596.5L1813.7 596.9L1814.9 598.3L1816.2 599.5L1817.5 599.9L1818.8 600.6L1820.2 601.9L1821.6 602.3L1823.1 602.8L1824.6 604.1L1826.0 604.2L1827.5 604.6L1828.9 606.0L1830.3 606.1L1831.7 606.2L1833.1 607.3L1834.5 607.5L1836.0 607.2L1837.5 608.2L1839.0 608.4L1840.5 608.2L1842.1 609.1L1843.7 608.8L1845.3 608.8L1846.9 609.6L1848.5 609.2L1850.0 609.4L1851.5 609.9L1852.9 609.3L1854.4 609.7L1855.8 610.1L1857.2 609.7L1858.6 609.8L1860.0 610.4M1907.5 120.9L1909.0 119.7L1910.4 120.1L1911.9 121.2L1913.4 120.4L1914.9 120.3L1916.3 122.0L1917.8 120.7L1919.3 121.0L1920.7 122.4L1922.2 121.4L1923.6 121.2L1925.0 122.7L1926.6 121.6L1928.1 121.1L1929.7 122.3L1931.2 121.0L1932.8 121.2L1934.3 121.8L1935.8 120.2L1937.2 120.9L1938.6 121.3L1940.0 120.3L1941.5 120.8L1943.0 121.7L1944.4 120.7L1945.7 121.1L1947.1 122.5L1948.5 121.6L1950.0 121.7L1951.6 123.0L1953.2 121.3L1955.0 122.1L1956.7 121.9L1958.4 120.6L1959.9 122.1L1961.3 121.6L1962.5 120.6L1964.2 121.7L1965.5 121.8L1965.8 121.6L1966.0 122.0L1966.2 122.5L1966.4 122.8L1966.6 123.8L1966.8 124.7L1967.0 125.9L1967.1 127.4L1967.2 128.9L1967.4 130.7L1967.5 132.0L1967.6 133.9L1967.7 136.0L1967.7 137.8L1967.8 139.7L1967.9 141.6L1967.9 143.7L1967.9 145.6L1968.0 147.9L1968.0 149.9L1968.0 151.9L1968.1 154.1L1968.1 156.0L1968.1 158.0L1968.1 160.1L1968.1 161.8L1968.1 163.7L1968.1 165.7L1968.2 167.4L1968.2 169.2L1968.2 170.6L1968.2 172.2L1968.2 173.4L1968.3 174.9L1968.3 176.1L1968.3 177.2L1968.4 178.3L1968.4 178.8L1968.5 179.8L1968.6 180.2L1968.7 180.6L1968.8 180.7L1968.9 180.6L1969.1 179.9L1969.3 178.9L1969.6 177.5L1969.8 175.8L1970.0 173.9L1970.2 171.9L1970.4 169.9L1970.6 167.7L1970.9 165.5L1971.1 163.3L1971.2 161.6L1971.4 160.4L1971.5 159.1L1971.6 157.6L1971.8 156.3L1971.9 154.9L1972.0 153.2L1972.1 151.8L1972.2 150.5L1972.2 148.8L1972.4 147.5L1972.5 146.0L1972.6 144.4L1972.7 143.2L1972.8 141.7L1973.0 140.7L1973.1 139.5L1973.3 138.2L1973.5 137.1L1973.8 135.7L1974.1 133.8L1974.5 131.7L1974.9 129.6L1975.4 128.1L1975.9 126.3L1976.4 125.6L1976.9 124.9L1977.5 124.5L1978.7 122.6L1980.0 120.8L1981.2 120.1L1981.7 119.4L1982.1 118.7L1982.5 117.5L1982.9 116.2L1983.2 114.4L1983.5 112.9L1983.8 111.0L1984.1 109.3L1984.4 107.4L1984.7 105.9L1985.0 104.3L1985.2 103.5L1985.4 102.4L1985.6 101.7L1985.9 100.6L1986.1 99.5L1986.3 98.2L1986.5 96.9L1986.7 95.6L1986.9 94.2L1987.1 93.0L1987.3 91.2L1987.5 89.8L1987.7 87.8L1987.9 86.3L1988.1 84.4L1988.3 82.7L1988.5 81.3L1988.7 79.6L1988.9 78.2L1989.1 76.4L1989.3 75.0L1989.5 73.6L1989.6 72.3L1989.8 71.4L1990.0 69.9L1990.2 68.7L1990.3 67.4L1990.5 66.3L1990.6 64.9L1990.8 63.3L1990.9 61.9L1991.1 60.5L1991.2 59.2L1991.4 57.7L1991.5 55.9L1991.6 54.4L1991.8 52.8L1991.9 51.3L1992.0 49.7L1992.2 47.9L1992.3 46.3L1992.4 44.7L1992.6 43.4L1992.7 41.6L1992.9 40.2L1993.0 38.5L1993.1 37.2L1993.3 35.7L1993.4 34.5L1993.6 33.0L1993.8 31.7L1993.9 30.5L1994.1 29.0L1994.3 27.3L1994.5 25.6L1994.7 23.9L1994.9 22.4L1995.1 20.9L1995.2 19.0L1995.4 17.4L1995.6 15.8L1995.8 14.1L1996.0 12.5L1996.3 11.2L1996.5 10.1L1996.7 8.9L1997.0 7.7L1997.2 7.2L1997.5 6.9L1998.0 7.1L1998.5 8.2L1999.1 10.1L1999.7 12.4L2000.2 14.3L2000.8 15.7L2001.2 17.2L2001.5 17.9L2001.7 19.1L2001.8 20.1L2002.0 21.0L2002.2 22.3L2002.4 23.6L2002.5 24.8L2002.7 26.4L2002.8 27.9L2002.9 29.6L2003.1 30.9L2003.2 32.8L2003.3 34.2L2003.4 36.1L2003.5 37.9L2003.6 39.2L2003.7 41.1L2003.8 42.6L2003.9 44.5L2004.1 46.1L2004.2 47.9L2004.3 49.3L2004.4 51.0L2004.5 52.5L2004.6 54.0L2004.7 55.2L2004.9 56.5L2005.0 58.1L2005.1 59.2L2005.3 60.7L2005.4 61.8L2005.6 63.3L2005.7 64.7L2005.8 66.1L2006.0 67.1L2006.1 68.5L2006.3 70.0L2006.4 71.6L2006.6 72.8L2006.7 74.3L2006.8 75.8L2007.0 77.2L2007.1 79.0L2007.3 80.4L2007.4 82.1L2007.6 83.8L2007.7 85.3L2007.9 86.8L2008.0 88.5L2008.1 90.0L2008.3 91.6L2008.4 92.8L2008.6 94.3L2008.8 95.9L2008.9 97.3L2009.1 98.8L2009.2 100.3L2009.3 101.7L2009.5 103.2L2009.6 104.7L2009.7 106.1L2009.8 107.6L2010.0 108.8L2010.1 110.0L2010.2 111.5L2010.4 113.0L2010.5 114.3L2010.7 115.6L2010.9 116.7L2011.1 118.1L2011.3 119.7L2011.6 121.0L2011.9 122.4L2012.2 124.2L2012.5 125.4L2013.1 127.6L2013.7 128.9L2014.3 129.9L2015.0 130.7L2015.7 131.8L2016.5 133.7L2017.2 135.7L2018.0 136.3L2018.8 136.2L2020.6 136.5L2022.5 136.9L2023.6 135.2L2024.8 134.2L2026.0 134.1L2027.3 132.5L2028.6 130.1L2030.0 130.5L2031.3 129.8L2032.6 127.4L2034.0 127.2L2035.4 127.6L2036.9 125.2L2038.4 125.4L2040.0 125.6L2041.4 124.0L2042.8 124.5L2044.2 125.4L2045.7 124.4L2047.3 125.2L2048.8 126.0L2050.4 124.6L2051.9 126.0L2053.5 126.3L2055.0 125.6L2056.5 127.1L2058.1 127.1L2059.6 126.3L2061.1 127.9L2062.7 127.5L2064.2 127.0L2065.7 128.6L2067.2 128.2L2068.6 128.1L2070.0 129.6L2071.5 128.9L2073.0 128.7L2074.4 130.5L2075.8 129.8L2077.2 129.4L2078.6 130.7L2080.0 130.3L2081.5 128.9L2083.0 129.8L2084.4 129.1L2085.9 127.6L2087.4 128.5L2088.7 127.6L2090.0 125.3L2091.1 125.3L2092.1 125.0L2093.0 123.8L2093.9 121.8L2094.8 120.3L2095.7 119.9L2096.6 119.5L2097.5 118.0L2098.5 115.5L2099.5 114.5L2100.5 114.5L2101.5 113.6L2102.6 111.6L2103.7 110.0L2105.0 110.7L2106.2 109.9L2107.5 108.2L2109.0 108.4L2110.4 108.7L2111.9 107.1L2113.4 107.9L2114.9 108.2L2116.2 106.8L2117.5 107.4L2119.1 108.3L2120.7 107.3L2122.2 108.9L2123.6 110.0L2125.0 109.3L2126.3 110.8L2127.5 112.9L2128.7 113.1L2129.9 113.6L2131.1 115.6L2132.5 117.0L2133.8 116.3L2135.2 117.5L2136.7 118.9L2138.2 117.9L2139.7 119.3L2141.1 120.5L2142.5 119.3L2144.0 120.5L2145.4 121.3L2146.8 120.3L2148.3 121.1L2150.0 122.0L2151.2 120.7L2152.5 121.1L2153.9 122.1L2155.3 121.4L2156.8 121.2L2158.3 122.6L2159.8 121.5L2161.3 121.3L2162.8 122.8L2164.3 121.6L2165.8 121.8M1907.5 203.4L1909.0 204.9L1910.4 203.4L1911.9 203.6L1913.4 204.9L1914.9 203.4L1916.3 203.8L1917.8 205.0L1919.3 203.7L1920.7 203.7L1922.2 205.3L1923.6 203.9L1925.0 204.0L1926.5 205.6L1928.0 204.4L1929.5 204.4L1930.9 205.9L1932.4 205.0L1933.8 204.5L1935.3 206.2L1936.8 205.1L1938.4 204.9L1940.0 206.6L1941.3 205.1L1942.7 204.8L1944.2 206.3L1945.8 204.7L1947.4 204.9L1949.0 205.7L1950.7 204.1L1952.3 205.1L1953.9 205.1L1955.4 203.7L1956.9 204.9L1958.2 204.8L1959.5 203.1L1960.7 203.8L1961.7 204.9L1962.5 204.2L1964.2 202.7L1965.5 203.5L1966.1 202.9L1966.7 201.2L1967.2 198.8L1967.6 196.2L1968.1 193.6L1968.5 192.1L1969.0 191.0L1969.5 191.0L1970.2 192.3L1970.9 193.9L1971.6 194.8L1972.3 195.8L1973.0 197.5L1973.8 199.6L1974.5 202.3L1975.1 204.1L1975.8 205.1L1976.6 205.6L1977.5 206.5L1979.1 209.8L1980.9 209.6L1982.5 209.8L1983.2 209.9L1983.9 209.1L1984.4 207.8L1984.9 205.3L1985.3 202.9L1985.8 200.9L1986.2 199.2L1986.6 198.2L1987.0 197.3L1987.3 196.4L1987.7 195.5L1988.0 194.4L1988.4 193.1L1988.7 191.4L1989.0 189.7L1989.4 188.1L1989.7 185.9L1990.0 184.4L1990.3 182.7L1990.6 181.5L1990.8 180.2L1991.1 179.0L1991.4 177.9L1991.6 176.6L1991.9 175.3L1992.2 174.4L1992.4 172.9L1992.7 171.4L1992.9 170.2L1993.2 168.5L1993.5 166.5L1993.8 165.0L1994.0 162.9L1994.3 161.4L1994.6 159.4L1994.9 158.0L1995.2 156.4L1995.4 154.8L1995.7 153.8L1996.0 152.9L1996.4 151.8L1996.7 150.5L1997.1 149.5L1997.5 148.1L1998.2 145.5L1999.0 143.3L1999.8 142.1L2000.6 141.8L2001.2 142.1L2001.9 142.7L2002.5 143.6L2003.1 144.6L2003.8 146.4L2004.1 148.0L2004.5 149.3L2004.8 150.9L2005.2 152.9L2005.6 154.4L2006.0 156.0L2006.4 157.3L2006.7 158.1L2007.1 159.2L2007.5 160.1L2007.9 161.5L2008.4 162.8L2008.8 164.4L2009.2 166.6L2009.6 168.3L2010.1 170.0L2010.6 171.3L2011.0 171.9L2011.5 172.8L2012.0 173.8L2012.4 175.1L2012.9 176.3L2013.3 178.3L2013.8 180.1L2014.1 182.0L2014.5 183.6L2014.8 185.2L2015.1 186.5L2015.4 187.7L2015.8 189.2L2016.1 190.3L2016.4 191.3L2016.7 192.6L2017.1 194.0L2017.4 195.7L2017.8 197.5L2018.3 199.4L2018.8 200.8L2019.6 202.1L2020.5 202.8L2021.4 203.4L2022.5 205.5L2023.8 207.2L2024.9 206.4L2026.1 207.0L2027.5 209.0L2028.9 208.7L2030.4 207.9L2031.9 210.2L2033.5 209.7L2035.0 209.2L2036.4 211.3L2037.8 210.6L2039.3 210.0L2040.8 212.1L2042.3 211.2L2043.9 211.2L2045.4 212.5L2047.0 211.7L2048.5 211.7L2050.0 213.2L2051.5 212.3L2053.1 212.9L2054.6 213.9L2056.2 212.6L2057.7 214.0L2059.2 214.5L2060.7 213.5L2062.2 214.9L2063.6 215.3L2065.0 214.1L2066.6 215.4L2068.1 216.5L2069.5 215.1L2070.9 216.9L2072.3 217.6L2073.7 216.4L2075.0 217.2L2076.6 218.7L2078.0 217.3L2079.5 218.5L2081.0 219.6L2082.5 218.1L2083.9 218.3L2085.2 218.8L2086.6 217.0L2088.1 216.3L2089.5 216.9L2091.0 215.0L2092.5 214.7L2093.8 215.8L2095.2 213.8L2096.7 213.7L2098.2 214.7L2099.6 213.0L2101.1 212.6L2102.5 214.0L2103.8 212.3L2105.0 211.1L2106.4 211.5L2107.7 210.8L2108.9 208.5L2110.1 207.9L2111.3 207.9L2112.5 206.3L2114.0 204.6L2115.4 205.2L2116.9 203.5L2118.4 201.9L2120.0 203.5L2121.3 202.5L2122.7 202.0L2124.2 203.8L2125.6 203.9L2127.1 203.5L2128.5 205.8L2130.0 205.6L2131.4 205.1L2132.8 206.5L2134.3 206.7L2135.7 205.4L2137.1 207.1L2138.6 207.5L2140.0 206.0L2141.4 207.4L2142.8 207.6L2144.2 206.6L2145.6 207.3L2147.0 208.0L2148.5 206.7L2150.0 207.5L2151.3 208.6L2152.6 207.1L2154.0 207.2L2155.5 208.7L2156.9 207.4L2158.4 207.8L2159.9 209.0L2161.4 207.9L2162.8 208.2L2164.3 209.3L2165.8 208.3M1907.5 290.2L1909.0 288.8L1910.4 289.1L1911.9 289.9L1913.4 288.8L1914.9 288.9L1916.3 289.6L1917.8 288.4L1919.3 288.5L1920.7 289.6L1922.2 288.4L1923.6 288.6L1925.0 289.5L1926.5 288.5L1928.0 288.8L1929.5 290.2L1930.9 288.8L1932.4 289.5L1933.8 290.6L1935.3 289.5L1936.8 290.0L1938.4 291.3L1940.0 290.0L1941.3 290.2L1942.7 291.4L1944.2 289.7L1945.8 290.5L1947.4 290.9L1949.0 289.5L1950.7 290.4L1952.3 290.1L1953.9 289.0L1955.4 290.5L1956.9 289.7L1958.3 288.8L1959.5 289.9L1960.7 289.7L1961.7 288.7L1962.5 287.8L1964.2 289.3L1965.5 287.6L1965.7 287.2L1966.0 286.2L1966.2 285.3L1966.4 284.4L1966.6 283.2L1966.7 282.2L1966.9 281.2L1967.1 280.1L1967.2 278.6L1967.4 277.4L1967.5 276.0L1967.6 274.7L1967.7 273.3L1967.8 271.4L1967.9 269.9L1968.0 268.0L1968.1 266.5L1968.2 264.8L1968.3 262.8L1968.3 260.9L1968.4 258.7L1968.4 256.8L1968.5 254.9L1968.5 252.8L1968.6 250.9L1968.6 249.2L1968.7 247.0L1968.7 245.3L1968.7 243.3L1968.8 241.4L1968.8 239.5L1968.8 237.6L1968.8 235.7L1968.9 234.0L1968.9 232.3L1968.9 230.5L1968.9 229.0L1969.0 227.7L1969.0 226.3L1969.0 225.2L1969.1 223.9L1969.1 222.9L1969.1 221.7L1969.2 220.9L1969.2 220.2L1969.3 219.2L1969.3 218.7L1969.4 218.5L1969.4 218.2L1969.5 218.1L1969.6 218.0L1969.8 218.5L1969.9 219.1L1970.0 220.3L1970.1 221.2L1970.3 222.6L1970.4 224.4L1970.5 225.9L1970.6 227.5L1970.8 229.7L1970.9 231.4L1971.0 233.4L1971.1 235.0L1971.2 236.7L1971.3 237.9L1971.4 239.1L1971.5 240.9L1971.6 242.1L1971.7 243.6L1971.8 245.1L1971.9 246.8L1971.9 248.6L1972.0 250.0L1972.1 251.9L1972.2 253.5L1972.3 255.1L1972.4 256.9L1972.4 258.6L1972.5 260.4L1972.6 261.7L1972.7 263.3L1972.8 265.0L1972.9 266.5L1973.0 268.1L1973.1 269.6L1973.2 270.9L1973.4 272.3L1973.5 273.3L1973.6 274.8L1973.8 275.8L1974.0 277.1L1974.2 278.5L1974.4 280.0L1974.7 280.9L1974.9 282.2L1975.2 283.0L1975.5 284.4L1975.9 285.6L1976.2 287.0L1976.9 289.4L1977.6 291.5L1978.4 292.7L1979.2 292.9L1980.0 294.2L1980.5 295.5L1981.1 297.6L1981.7 299.3L1982.2 300.9L1982.8 302.0L1983.4 302.8L1983.9 303.8L1984.5 305.1L1985.0 307.0L1985.4 308.7L1985.8 310.4L1986.2 311.8L1986.6 313.2L1987.0 314.6L1987.4 315.4L1987.7 316.5L1988.1 317.5L1988.5 318.5L1988.9 319.8L1989.2 321.2L1989.6 323.1L1990.0 325.3L1990.3 326.5L1990.6 328.2L1990.9 330.1L1991.2 331.6L1991.5 333.2L1991.8 334.6L1992.1 336.0L1992.5 337.5L1992.8 339.3L1993.1 340.9L1993.4 342.4L1993.7 344.5L1994.0 346.4L1994.3 348.1L1994.6 349.6L1994.9 351.1L1995.2 352.7L1995.4 353.2L1995.7 353.7L1996.0 354.0L1996.2 354.2L1996.6 353.6L1997.0 352.5L1997.4 351.3L1997.7 349.9L1998.1 348.1L1998.4 346.8L1998.7 345.4L1999.1 343.8L1999.4 342.1L1999.7 340.2L2000.0 338.1L2000.2 337.0L2000.4 335.9L2000.5 334.3L2000.7 332.6L2000.8 331.2L2001.0 329.8L2001.1 328.0L2001.3 326.3L2001.4 325.0L2001.6 323.3L2001.7 321.6L2001.8 320.0L2002.0 318.4L2002.1 317.0L2002.2 315.3L2002.3 313.9L2002.5 312.6L2002.6 311.0L2002.7 309.5L2002.9 308.0L2003.0 306.8L2003.1 305.4L2003.3 304.4L2003.4 303.0L2003.6 301.8L2003.8 300.6L2003.9 299.3L2004.1 297.7L2004.3 296.2L2004.5 294.6L2004.7 293.0L2004.8 291.4L2005.0 289.8L2005.2 288.4L2005.4 286.7L2005.6 284.9L2005.8 283.3L2006.0 281.9L2006.2 280.6L2006.5 279.1L2006.7 278.0L2007.0 276.7L2007.2 276.0L2007.5 275.0L2007.9 273.7L2008.3 272.5L2008.7 270.6L2009.1 268.6L2009.5 266.6L2010.0 264.5L2010.5 262.5L2011.0 261.3L2011.5 260.5L2012.0 260.3L2012.5 260.7L2013.3 260.9L2014.0 261.5L2014.9 262.0L2015.7 263.5L2016.6 266.2L2017.5 268.3L2018.3 269.0L2019.2 269.4L2020.2 270.6L2021.1 273.1L2022.1 274.6L2023.0 275.0L2024.0 275.7L2025.0 277.5L2026.0 279.5L2027.1 279.8L2028.2 280.0L2029.3 281.7L2030.3 283.6L2031.4 284.1L2032.5 284.4L2033.5 285.7L2034.6 288.1L2035.6 289.0L2036.6 289.2L2037.7 290.2L2038.8 292.3L2040.0 293.2L2041.3 292.3L2042.6 293.2L2044.0 294.4L2045.4 293.3L2046.9 293.5L2048.4 294.3L2050.0 293.1L2051.3 293.6L2052.7 294.4L2054.1 292.9L2055.6 292.7L2057.1 293.8L2058.6 292.3L2060.2 292.5L2061.7 293.0L2063.2 291.3L2064.7 291.9L2066.1 292.7L2067.5 291.4L2069.0 292.0L2070.4 293.1L2071.8 292.2L2073.2 292.7L2074.6 294.4L2075.9 293.6L2077.3 293.6L2078.6 295.6L2080.0 294.9L2081.6 294.5L2083.3 296.1L2085.0 294.7L2086.7 295.2L2088.3 296.2L2089.8 294.9L2091.3 295.9L2092.5 296.9L2093.7 296.5L2094.7 297.4L2095.6 299.2L2096.5 301.1L2097.5 301.7L2098.7 301.5L2099.9 303.7L2101.2 305.8L2102.4 305.4L2103.8 305.8L2105.2 306.8L2106.8 305.2L2108.3 304.1L2110.0 304.4L2111.3 303.0L2112.6 302.0L2114.1 302.9L2115.5 301.6L2117.0 300.4L2118.5 301.4L2120.0 299.8L2121.3 298.9L2122.7 299.7L2124.1 298.9L2125.5 297.4L2126.9 298.5L2128.3 297.9L2129.7 296.4L2131.1 297.2L2132.5 296.7L2133.9 295.2L2135.3 295.7L2136.7 295.6L2138.1 293.6L2139.5 294.1L2140.9 294.2L2142.3 292.5L2143.7 292.4L2145.0 293.4L2146.5 292.0L2147.9 291.5L2149.3 292.7L2150.7 291.5L2152.1 291.4L2153.6 292.8L2155.0 291.8L2156.5 291.3L2158.0 292.9L2159.6 292.1L2161.1 291.9L2162.7 293.3L2164.2 292.4L2165.8 293.0M1907.5 402.8L1909.0 402.1L1910.4 401.1L1911.8 402.3L1913.3 401.9L1914.7 400.9L1916.2 402.2L1917.6 401.8L1919.1 400.6L1920.5 402.2L1922.0 401.5L1923.5 400.4L1925.0 402.1L1926.4 401.4L1927.8 400.2L1929.2 401.7L1930.7 401.4L1932.1 400.2L1933.5 401.3L1935.0 401.3L1936.5 399.7L1937.9 401.2L1939.3 401.1L1940.8 399.7L1942.2 400.9L1943.6 401.0L1945.0 399.8L1946.5 400.8L1948.2 401.0L1949.8 399.7L1951.5 401.3L1953.1 400.5L1954.7 400.5L1956.3 401.9L1957.8 400.7L1959.2 400.7L1960.4 401.8L1961.6 401.5L1962.5 400.5L1964.2 402.0L1965.5 401.8L1966.0 400.9L1966.4 398.9L1966.8 397.3L1967.2 395.1L1967.5 393.2L1967.8 391.3L1968.1 389.5L1968.3 387.9L1968.6 386.7L1968.9 385.4L1969.2 384.8L1969.5 384.7L1970.0 384.7L1970.4 385.6L1970.9 386.9L1971.3 388.5L1971.9 390.2L1972.5 392.3L1973.6 394.7L1974.9 395.1L1976.2 395.4L1977.9 397.6L1979.7 397.2L1981.2 398.3L1981.9 400.0L1982.5 401.7L1983.0 403.0L1983.4 404.0L1983.8 405.2L1984.2 406.4L1984.6 407.7L1985.0 409.4L1985.4 410.6L1985.7 412.4L1986.1 414.0L1986.4 415.8L1986.8 417.3L1987.1 418.4L1987.5 419.7L1987.8 421.1L1988.1 422.0L1988.4 423.2L1988.8 424.2L1989.0 425.5L1989.3 426.8L1989.5 428.2L1989.7 429.5L1990.0 431.4L1990.2 433.1L1990.5 434.7L1990.7 436.4L1990.9 437.9L1991.1 439.5L1991.4 441.2L1991.6 442.5L1991.8 443.9L1992.0 445.3L1992.3 446.3L1992.5 447.8L1992.7 448.6L1993.0 450.0L1993.2 451.0L1993.4 452.3L1993.7 453.8L1993.9 455.5L1994.2 456.8L1994.4 458.6L1994.6 460.4L1994.9 461.8L1995.1 463.6L1995.3 465.1L1995.6 466.7L1995.8 468.3L1996.0 469.4L1996.2 470.6L1996.5 472.0L1996.8 473.9L1997.1 475.2L1997.3 477.1L1997.6 478.9L1997.9 480.5L1998.1 482.2L1998.4 483.4L1998.7 484.8L1999.0 485.8L1999.2 486.2L1999.6 486.4L1999.9 485.9L2000.2 484.9L2000.6 483.6L2000.9 481.6L2001.2 479.9L2001.6 477.4L2001.9 475.4L2002.2 473.5L2002.5 471.5L2002.7 470.7L2002.9 469.5L2003.1 468.2L2003.3 467.0L2003.5 465.9L2003.7 464.6L2003.9 463.2L2004.0 462.2L2004.2 460.6L2004.4 459.4L2004.6 457.9L2004.7 456.6L2004.9 454.9L2005.1 453.5L2005.3 451.7L2005.5 450.4L2005.7 448.4L2005.9 446.8L2006.2 445.2L2006.4 443.6L2006.6 442.1L2006.8 440.7L2007.1 439.1L2007.3 437.6L2007.5 436.6L2007.8 435.4L2008.0 434.3L2008.2 432.9L2008.5 432.1L2008.8 430.6L2009.0 429.4L2009.3 427.9L2009.6 426.1L2009.9 424.3L2010.2 422.6L2010.5 420.6L2010.8 419.0L2011.1 417.5L2011.4 416.1L2011.8 414.8L2012.1 413.7L2012.5 412.9L2012.9 411.6L2013.3 410.3L2013.7 409.0L2014.1 406.9L2014.5 405.1L2014.9 403.3L2015.4 401.7L2015.9 400.3L2016.4 399.1L2016.9 398.8L2017.5 398.1L2018.4 396.7L2019.3 394.5L2020.3 393.2L2021.4 393.1L2022.5 393.2L2023.8 392.0L2025.2 392.8L2026.7 394.8L2028.3 394.4L2030.0 395.5L2031.3 396.3L2032.6 395.3L2034.1 395.2L2035.6 396.3L2037.2 394.6L2038.7 395.1L2040.3 395.8L2041.9 394.2L2043.5 395.2L2045.0 394.7L2046.5 393.7L2048.0 394.6L2049.5 394.4L2051.0 393.1L2052.5 394.2L2054.0 393.6L2055.5 392.4L2057.0 393.6L2058.5 392.9L2060.0 391.9L2061.5 393.0L2063.1 392.0L2064.7 390.9L2066.2 392.2L2067.8 390.6L2069.4 390.4L2070.9 391.0L2072.3 389.4L2073.7 389.3L2075.0 390.4L2076.6 388.8L2078.1 388.5L2079.6 389.5L2081.0 388.1L2082.5 388.6L2083.9 389.9L2085.3 389.2L2086.7 389.8L2088.2 392.0L2089.6 391.7L2091.1 392.3L2092.5 394.6L2093.9 394.4L2095.4 394.4L2096.8 396.6L2098.2 396.4L2099.7 396.6L2101.1 398.9L2102.5 398.8L2103.8 398.7L2105.0 400.6L2106.3 401.7L2107.6 401.4L2108.8 402.7L2110.1 404.5L2111.3 404.3L2112.5 404.1L2114.0 406.1L2115.6 406.6L2117.0 406.3L2118.5 407.9L2120.0 407.6L2121.5 406.6L2123.0 407.1L2124.5 405.7L2126.0 404.1L2127.5 404.4L2129.0 402.9L2130.4 401.4L2131.9 401.9L2133.4 400.4L2135.0 399.3L2136.3 400.5L2137.7 399.6L2139.2 398.6L2140.6 399.6L2142.1 399.0L2143.6 398.3L2145.0 399.5L2146.4 398.7L2147.8 397.8L2149.3 398.8L2150.7 398.4L2152.1 397.5L2153.6 398.7L2155.0 398.4L2156.5 397.1L2158.0 398.5L2159.6 398.0L2161.1 397.1L2162.7 398.1L2164.2 397.6L2165.8 396.8M1907.5 524.3L1909.0 524.9L1910.4 525.7L1911.8 524.4L1913.3 524.9L1914.7 526.0L1916.2 524.6L1917.6 524.9L1919.1 526.3L1920.5 524.7L1922.0 525.0L1923.5 526.1L1925.0 524.9L1926.4 525.0L1927.8 526.6L1929.2 525.2L1930.7 525.5L1932.1 526.5L1933.5 525.8L1935.0 525.4L1936.5 526.9L1937.9 525.9L1939.3 525.5L1940.8 526.8L1942.2 526.2L1943.6 525.4L1945.0 526.7L1946.5 526.3L1948.2 525.7L1949.8 526.8L1951.5 525.5L1953.1 526.2L1954.7 526.4L1956.3 524.9L1957.8 526.0L1959.2 526.1L1960.4 524.8L1961.6 525.0L1962.5 526.2L1964.2 525.2L1965.5 524.7L1965.8 525.5L1966.1 526.5L1966.4 528.2L1966.6 529.7L1966.8 531.3L1966.9 532.9L1967.0 534.8L1967.1 537.0L1967.2 538.7L1967.3 541.0L1967.3 542.9L1967.3 544.7L1967.4 546.7L1967.4 548.8L1967.5 550.3L1967.5 551.9L1967.6 553.3L1967.6 554.2L1967.7 555.0L1967.9 555.6L1968.0 555.6L1968.2 555.1L1968.5 554.1L1968.7 552.8L1968.9 551.1L1969.2 549.4L1969.4 547.2L1969.7 545.6L1970.0 543.5L1970.3 541.8L1970.6 540.6L1970.9 538.9L1971.2 538.0L1971.7 536.7L1972.2 535.1L1972.7 533.4L1973.3 531.3L1973.8 529.6L1974.4 528.1L1975.0 527.6L1975.5 526.6L1976.1 525.6L1976.6 524.0L1977.2 522.1L1977.8 520.1L1978.3 518.4L1978.9 517.4L1979.5 516.3L1980.0 515.5L1980.5 514.6L1980.9 513.0L1981.4 511.5L1981.9 509.5L1982.4 508.0L1982.8 506.5L1983.3 505.2L1983.7 504.1L1984.2 503.3L1984.6 502.3L1985.0 501.0L1985.3 499.6L1985.6 498.0L1985.9 496.4L1986.2 494.8L1986.5 493.0L1986.8 491.6L1987.1 489.9L1987.4 488.6L1987.7 487.3L1987.9 486.1L1988.2 485.1L1988.5 483.9L1988.7 482.7L1989.0 481.4L1989.3 480.0L1989.5 478.6L1989.8 477.1L1990.0 475.7L1990.2 474.0L1990.5 472.1L1990.7 470.4L1990.9 468.7L1991.1 467.2L1991.3 465.8L1991.5 464.2L1991.7 462.6L1991.9 461.5L1992.1 460.1L1992.3 458.9L1992.5 457.5L1992.7 456.3L1992.9 455.2L1993.1 454.4L1993.3 453.1L1993.5 451.8L1993.8 450.9L1994.0 449.0L1994.3 446.8L1994.6 444.5L1994.9 442.2L1995.2 439.9L1995.5 438.2L1995.8 436.6L1996.1 435.2L1996.4 434.7L1996.8 434.8L1997.2 435.5L1997.8 437.6L1998.3 439.3L1998.8 441.1L1999.2 442.4L1999.5 443.3L1999.8 444.3L2000.0 445.5L2000.2 446.8L2000.4 448.2L2000.6 449.6L2000.8 451.3L2001.0 453.1L2001.2 454.6L2001.4 456.1L2001.6 457.6L2001.7 459.0L2001.9 460.5L2002.0 462.4L2002.2 463.8L2002.3 465.4L2002.5 467.0L2002.6 468.4L2002.7 470.0L2002.9 471.4L2003.0 473.0L2003.2 474.4L2003.3 475.9L2003.5 477.4L2003.6 478.7L2003.8 480.0L2003.9 481.3L2004.0 482.7L2004.2 483.8L2004.3 485.4L2004.5 486.5L2004.6 488.2L2004.8 489.5L2004.9 491.1L2005.1 492.7L2005.2 493.9L2005.4 495.5L2005.5 497.1L2005.7 498.8L2005.8 500.4L2006.0 502.2L2006.1 503.9L2006.2 505.3L2006.4 507.0L2006.5 508.5L2006.7 510.1L2006.8 511.7L2006.9 513.2L2007.0 515.1L2007.2 516.4L2007.3 518.1L2007.4 519.5L2007.6 520.8L2007.7 522.2L2007.8 523.6L2008.0 524.8L2008.2 526.1L2008.4 527.0L2008.5 528.4L2008.8 529.6L2009.0 531.2L2009.3 532.9L2009.5 534.8L2009.8 536.6L2010.1 538.5L2010.5 540.5L2010.9 542.0L2011.4 543.3L2012.0 543.7L2013.2 542.2L2014.6 542.1L2016.0 541.7L2017.5 539.6L2018.7 538.7L2019.9 538.9L2021.1 537.2L2022.4 535.0L2023.7 535.1L2025.0 534.4L2026.2 532.6L2027.4 531.6L2028.6 532.0L2029.8 530.6L2031.1 528.8L2032.4 529.0L2033.7 528.7L2035.0 527.1L2036.4 526.5L2037.7 527.1L2039.1 525.4L2040.5 524.7L2042.0 525.6L2043.4 524.4L2045.0 524.1L2046.4 525.1L2047.8 524.5L2049.3 524.0L2050.8 525.8L2052.3 525.1L2053.8 524.9L2055.4 526.5L2056.9 525.7L2058.5 525.9L2060.0 527.1L2061.5 525.5L2063.0 526.2L2064.5 526.9L2066.0 525.0L2067.5 525.7L2069.0 525.9L2070.5 524.6L2072.0 524.8L2073.5 525.2L2075.0 523.5L2076.5 524.7L2078.1 524.6L2079.7 523.4L2081.2 524.8L2082.8 524.1L2084.3 523.3L2085.8 524.5L2087.3 523.5L2088.7 522.2L2090.0 523.0L2091.2 522.4L2092.3 520.4L2093.3 519.1L2094.3 519.2L2095.3 518.1L2096.2 516.1L2097.1 514.2L2098.1 513.7L2099.0 514.0L2100.0 513.2L2101.5 511.0L2102.9 511.2L2104.4 511.3L2105.9 509.2L2107.5 510.4L2108.8 510.4L2110.1 509.4L2111.5 510.4L2112.9 511.2L2114.4 510.2L2115.8 511.1L2117.3 512.3L2118.7 511.3L2120.0 512.2L2121.5 514.0L2123.0 513.4L2124.4 514.3L2125.8 516.1L2127.2 515.7L2128.6 516.4L2130.0 518.3L2131.4 518.1L2132.8 518.3L2134.3 520.5L2135.7 520.4L2137.1 520.4L2138.5 522.2L2140.0 522.0L2141.4 521.6L2142.8 523.2L2144.1 523.0L2145.5 522.2L2147.0 523.2L2148.4 523.4L2150.0 522.2L2151.3 523.3L2152.6 523.8L2154.0 522.3L2155.5 522.8L2156.9 523.6L2158.4 522.0L2159.9 522.8L2161.4 523.5L2162.8 521.9L2164.3 522.7L2165.8 523.4M1907.5 599.0L1909.0 599.3L1910.4 598.1L1911.8 599.2L1913.3 599.5L1914.7 598.4L1916.2 599.6L1917.6 599.7L1919.1 598.7L1920.5 599.5L1922.0 599.9L1923.5 599.0L1925.0 599.6L1926.4 600.1L1927.8 598.8L1929.2 599.6L1930.7 600.0L1932.1 598.6L1933.5 599.2L1935.0 599.8L1936.5 598.7L1937.9 599.0L1939.3 599.6L1940.8 598.5L1942.2 598.6L1943.6 599.5L1945.0 598.3L1946.5 598.4L1948.2 599.4L1949.8 597.9L1951.5 598.9L1953.1 598.8L1954.7 597.8L1956.3 599.0L1957.8 598.3L1959.2 597.6L1960.4 598.7L1961.6 598.5L1962.5 597.9L1964.2 597.8L1965.5 598.1L1965.8 597.5L1966.1 596.6L1966.4 595.3L1966.7 594.0L1966.9 592.5L1967.1 590.9L1967.3 589.1L1967.4 587.4L1967.6 585.4L1967.7 583.4L1967.9 581.6L1968.0 579.6L1968.1 577.8L1968.2 575.8L1968.3 574.0L1968.4 571.9L1968.5 570.1L1968.6 568.8L1968.6 566.9L1968.7 565.9L1968.8 564.7L1969.0 563.4L1969.1 562.6L1969.2 562.3L1969.3 562.1L1969.5 562.0L1969.7 562.1L1969.9 562.6L1970.0 563.1L1970.2 563.8L1970.4 565.0L1970.5 566.3L1970.7 567.6L1970.9 568.9L1971.1 570.2L1971.2 571.9L1971.4 573.7L1971.6 575.3L1971.8 577.1L1972.0 579.0L1972.2 581.0L1972.4 582.8L1972.6 584.7L1972.8 586.6L1973.0 588.3L1973.3 590.3L1973.5 591.8L1973.8 592.9L1974.2 595.0L1974.7 596.6L1975.2 597.5L1975.7 598.4L1976.2 599.5L1976.8 600.8L1977.5 602.5L1978.4 604.6L1979.3 605.7L1980.3 605.9L1981.4 607.2L1982.5 609.3L1983.7 610.3L1984.9 610.6L1986.2 612.3L1987.5 614.2L1988.8 613.5L1990.1 612.9L1991.4 613.2L1992.7 611.7L1993.8 609.4L1994.3 608.5L1994.7 607.6L1995.1 606.6L1995.5 605.5L1995.8 604.4L1996.1 603.1L1996.3 601.7L1996.6 600.2L1996.9 598.3L1997.2 596.8L1997.5 595.0L1997.8 593.2L1998.2 591.5L1998.5 589.9L1998.8 588.8L1999.1 587.2L1999.4 586.2L1999.7 585.1L2000.1 583.9L2000.4 582.8L2000.8 581.8L2001.2 580.3L2001.9 578.4L2002.6 576.7L2003.3 575.3L2004.1 574.9L2005.0 574.3L2006.2 572.4L2007.5 570.4L2008.8 570.5L2010.0 570.6L2010.9 570.3L2011.6 571.0L2012.3 572.5L2013.0 574.8L2013.8 577.1L2014.4 577.9L2014.9 578.9L2015.5 580.0L2016.1 581.1L2016.7 582.9L2017.3 585.1L2018.0 586.8L2018.8 588.0L2019.7 588.4L2020.7 589.1L2021.7 591.0L2022.8 592.6L2023.9 592.8L2025.0 593.2L2026.2 594.9L2027.4 596.5L2028.7 596.8L2029.9 597.8L2031.2 599.8L2032.5 600.0L2033.9 600.1L2035.3 602.2L2036.7 602.9L2038.3 602.6L2040.0 604.3L2041.3 604.2L2042.6 603.7L2044.0 604.7L2045.5 604.7L2047.0 604.0L2048.6 605.2L2050.2 604.8L2051.8 604.3L2053.4 605.5L2055.0 604.7L2056.4 604.7L2057.8 606.1L2059.2 605.1L2060.7 605.3L2062.2 606.5L2063.7 605.9L2065.3 606.0L2066.8 607.0L2068.2 606.0L2069.7 606.4L2071.1 607.9L2072.5 607.0L2073.8 606.9L2075.0 607.9L2076.6 607.6L2078.2 607.4L2079.6 608.9L2081.0 608.5L2082.4 607.9L2083.7 609.3L2085.0 609.0L2086.6 607.9L2088.0 608.4L2089.5 607.7L2091.0 606.5L2092.5 607.4L2093.9 607.6L2095.3 607.4L2096.8 609.3L2098.3 610.1L2099.7 609.7L2101.1 611.4L2102.5 611.7L2104.1 610.2L2105.5 610.6L2107.0 609.7L2108.4 607.7L2110.0 607.9L2111.3 607.3L2112.7 605.8L2114.0 606.2L2115.5 606.3L2116.9 604.7L2118.4 604.9L2120.0 605.0L2121.4 603.4L2122.8 603.8L2124.3 604.5L2125.8 602.8L2127.3 603.5L2128.8 603.6L2130.4 602.2L2131.9 603.3L2133.5 603.1L2135.0 601.7L2136.5 602.7L2138.0 602.3L2139.5 601.2L2141.0 602.5L2142.5 601.6L2144.0 600.9L2145.5 601.9L2147.0 601.2L2148.5 600.9L2150.0 602.0L2151.4 601.3L2152.8 600.8L2154.3 602.1L2155.7 601.6L2157.1 601.0L2158.6 602.2L2160.0 602.0L2161.4 601.5L2162.9 602.8L2164.3 602.7L2165.8 601.9M1907.5 705.6L1909.0 705.3L1910.5 704.7L1911.9 704.7L1913.4 704.4L1914.9 703.6L1916.4 703.8L1917.9 703.5L1919.4 702.8L1920.8 703.1L1922.3 702.9L1923.6 702.2L1925.0 702.5L1926.5 702.7L1927.9 702.4L1929.3 702.9L1930.7 703.5L1932.1 703.3L1933.4 703.7L1934.8 704.3L1936.1 704.1L1937.5 704.2L1939.1 705.0L1940.6 704.7L1942.2 705.0L1943.7 705.5L1945.3 705.1L1946.9 705.5L1948.4 705.8L1950.0 705.1L1951.6 705.6L1953.3 705.4L1955.1 705.0L1956.8 705.4L1958.4 704.6L1960.0 704.6L1961.3 704.8L1962.5 704.4L1964.2 704.7L1965.5 704.8L1965.9 704.2L1966.3 703.2L1966.6 701.9L1966.9 700.2L1967.1 698.5L1967.3 696.6L1967.6 694.7L1967.7 692.7L1967.9 690.6L1968.1 688.5L1968.2 686.7L1968.4 684.9L1968.5 683.2L1968.7 681.7L1968.9 680.6L1969.1 679.6L1969.3 679.1L1969.5 679.0L1969.9 679.4L1970.2 680.3L1970.6 681.5L1971.0 683.0L1971.4 684.7L1971.8 686.4L1972.1 688.1L1972.5 689.7L1972.8 691.4L1973.1 693.2L1973.3 694.9L1973.5 696.6L1973.8 698.2L1974.3 699.5L1975.0 700.2L1976.4 700.1L1978.1 700.2L1979.8 699.7L1981.2 699.7L1982.1 700.8L1982.7 702.2L1983.3 703.6L1983.7 705.0L1984.1 706.5L1984.6 708.1L1985.0 709.7L1985.3 710.8L1985.5 711.9L1985.8 713.2L1986.0 714.5L1986.3 715.9L1986.5 717.4L1986.7 718.9L1986.9 720.3L1987.1 721.9L1987.3 723.3L1987.5 724.9L1987.7 726.3L1987.9 727.9L1988.1 729.2L1988.2 730.8L1988.4 732.1L1988.6 733.6L1988.8 734.9L1988.9 736.2L1989.1 737.7L1989.2 739.0L1989.3 740.3L1989.4 741.8L1989.6 743.2L1989.7 744.7L1989.8 746.2L1989.9 747.8L1990.0 749.2L1990.1 750.7L1990.2 752.2L1990.3 753.7L1990.4 755.2L1990.5 756.7L1990.6 758.1L1990.8 759.6L1990.9 761.0L1991.0 762.4L1991.1 763.8L1991.2 765.2L1991.4 766.9L1991.6 768.6L1991.7 770.5L1991.9 772.5L1992.0 774.3L1992.2 776.2L1992.3 778.0L1992.5 779.5L1992.7 781.0L1992.8 782.3L1993.0 783.4L1993.3 784.1L1993.5 784.6L1993.8 784.8L1994.1 784.5L1994.5 783.9L1994.9 782.9L1995.4 781.6L1995.8 780.1L1996.3 778.4L1996.7 776.4L1997.1 774.4L1997.5 772.5L1997.7 771.3L1997.9 770.0L1998.1 768.8L1998.3 767.6L1998.4 766.2L1998.6 764.9L1998.7 763.4L1998.9 762.0L1999.0 760.6L1999.2 759.2L1999.3 757.8L1999.4 756.2L1999.6 754.7L1999.7 753.3L1999.8 751.7L1999.9 750.2L2000.0 748.6L2000.2 747.1L2000.3 745.5L2000.4 744.1L2000.5 742.5L2000.7 741.0L2000.8 739.6L2001.0 738.0L2001.1 736.6L2001.2 735.3L2001.4 733.7L2001.6 732.2L2001.8 730.6L2001.9 729.0L2002.1 727.5L2002.3 726.1L2002.5 724.5L2002.7 723.1L2002.8 721.6L2003.0 720.3L2003.2 718.9L2003.4 717.6L2003.6 716.2L2003.7 714.8L2003.9 713.5L2004.1 712.2L2004.3 710.8L2004.5 709.5L2004.6 708.0L2004.8 706.7L2005.0 705.3L2005.2 703.9L2005.3 702.5L2005.5 701.0L2005.7 699.4L2005.8 697.9L2006.0 696.3L2006.1 694.7L2006.3 693.2L2006.5 691.6L2006.6 690.0L2006.8 688.4L2006.9 686.9L2007.1 685.3L2007.3 683.9L2007.4 682.4L2007.6 681.0L2007.8 679.6L2007.9 678.3L2008.1 677.0L2008.2 675.9L2008.4 674.8L2008.6 673.6L2008.8 672.6L2009.0 671.2L2009.3 669.8L2009.6 668.3L2009.8 667.1L2010.1 665.7L2010.4 664.4L2010.7 662.9L2011.0 661.4L2011.2 659.7L2011.5 658.5L2011.7 657.0L2011.9 655.5L2012.1 653.9L2012.3 652.1L2012.5 650.3L2012.7 648.5L2012.9 646.7L2013.1 645.0L2013.3 643.4L2013.5 641.7L2013.7 640.2L2014.0 638.9L2014.2 637.7L2014.4 636.6L2014.6 635.8L2014.8 635.3L2015.0 635.1L2015.2 635.1L2015.4 635.4L2015.6 636.1L2015.8 637.2L2016.0 638.2L2016.2 639.7L2016.4 641.3L2016.6 643.0L2016.8 644.8L2017.0 646.6L2017.2 648.5L2017.4 650.5L2017.6 652.4L2017.8 654.3L2018.0 656.0L2018.3 657.7L2018.5 659.1L2018.8 660.3L2019.1 661.8L2019.5 663.1L2019.9 664.2L2020.3 665.5L2020.8 666.7L2021.2 668.2L2021.6 669.7L2022.1 671.2L2022.5 672.8L2022.9 674.1L2023.2 675.3L2023.5 676.5L2023.9 677.8L2024.2 678.9L2024.6 680.2L2024.9 681.7L2025.3 683.1L2025.7 684.6L2026.1 686.1L2026.5 687.6L2027.0 689.0L2027.5 690.2L2028.1 691.4L2028.6 692.6L2029.1 693.9L2029.7 695.3L2030.3 696.9L2030.9 698.4L2031.6 699.7L2032.3 700.8L2033.1 701.6L2034.0 702.6L2035.0 703.8L2036.1 704.8L2037.2 705.1L2038.5 705.5L2039.8 706.5L2041.2 706.8L2042.6 706.7L2044.0 707.5L2045.5 707.8L2047.0 707.7L2048.5 708.6L2050.0 708.9L2051.4 708.8L2052.8 709.4L2054.2 709.7L2055.7 709.4L2057.2 710.1L2058.8 710.3L2060.3 710.0L2061.8 710.7L2063.3 710.8L2064.8 710.7L2066.2 711.5L2067.5 711.7L2068.8 711.7L2070.0 712.5L2071.5 713.5L2072.8 713.9L2074.1 714.8L2075.2 716.3L2076.4 717.1L2077.5 717.7L2078.7 718.9L2080.0 720.4L2081.2 720.8L2082.4 721.3L2083.7 722.7L2085.0 723.5L2086.3 724.0L2087.6 725.1L2088.9 726.3L2090.1 726.7L2091.3 727.5L2092.5 728.9L2093.6 730.0L2094.7 730.7L2095.7 731.8L2096.7 733.4L2097.6 734.7L2098.6 735.6L2099.6 736.5L2100.5 737.8L2101.5 739.2L2102.5 740.2L2103.6 740.9L2104.7 742.1L2105.8 743.8L2107.0 744.9L2108.1 745.4L2109.2 746.2L2110.2 747.2L2111.2 747.2L2112.1 746.7L2112.8 745.7L2113.6 745.1L2114.3 744.3L2115.1 743.2L2115.8 741.7L2116.5 739.9L2117.2 738.3L2117.9 736.8L2118.6 735.4L2119.3 734.1L2120.0 732.7L2120.6 731.3L2121.2 729.8L2121.8 728.3L2122.3 727.0L2122.9 725.8L2123.5 724.5L2124.0 723.0L2124.6 721.4L2125.1 719.6L2125.7 718.0L2126.3 716.5L2126.9 715.4L2127.5 714.3L2128.1 713.2L2128.7 712.1L2129.3 711.0L2130.0 709.8L2131.2 708.5L2132.4 708.1L2133.7 707.2L2135.0 706.1L2136.2 705.8L2137.5 705.3L2138.7 704.0L2139.9 703.2L2141.1 702.8L2142.4 701.7L2143.6 700.7L2145.0 700.6L2146.3 700.5L2147.7 699.8L2149.1 699.9L2150.6 700.2L2152.1 699.7L2153.5 699.9L2155.0 700.3L2156.5 699.8L2158.0 699.9L2159.6 700.2L2161.1 699.7L2162.7 700.0L2164.2 700.1L2165.8 699.6M1907.5 800.3L1909.0 800.2L1910.4 801.0L1911.8 800.6L1913.3 800.4L1914.7 801.1L1916.2 800.9L1917.6 800.5L1919.1 801.4L1920.5 801.1L1922.0 800.7L1923.5 801.5L1925.0 801.2L1926.4 800.9L1927.8 801.8L1929.2 801.4L1930.7 801.0L1932.1 801.9L1933.5 801.6L1935.0 801.2L1936.5 801.9L1937.9 801.8L1939.3 801.5L1940.8 802.0L1942.2 802.0L1943.6 801.6L1945.0 802.2L1946.5 802.4L1948.2 801.8L1949.8 802.6L1951.5 802.2L1953.1 802.3L1954.7 803.1L1956.3 802.3L1957.8 802.7L1959.2 803.3L1960.4 802.8L1961.6 802.5L1962.5 803.1L1964.2 803.4L1965.5 802.5L1966.6 802.0L1967.6 801.1L1968.8 800.0L1970.4 800.1L1972.2 802.0L1973.8 801.8L1974.5 801.0L1975.1 800.2L1975.6 799.1L1976.1 797.8L1976.6 796.2L1977.0 794.5L1977.5 792.6L1977.9 791.0L1978.3 789.5L1978.7 787.9L1979.1 786.5L1979.5 785.0L1979.9 783.8L1980.3 782.8L1980.8 781.6L1981.2 780.4L1981.9 778.4L1982.7 776.4L1983.5 774.9L1984.2 774.1L1985.0 774.2L1985.8 774.5L1986.5 775.3L1987.3 776.6L1988.0 778.1L1988.8 780.1L1989.5 782.1L1990.3 783.9L1991.1 785.4L1991.9 786.7L1992.5 787.1L1992.8 787.0L1993.1 786.4L1993.3 785.5L1993.6 784.3L1993.7 782.6L1993.9 780.9L1994.1 779.1L1994.2 777.1L1994.4 775.2L1994.6 773.4L1994.8 771.7L1995.0 770.1L1995.3 768.3L1995.6 766.4L1995.9 764.8L1996.2 763.1L1996.6 761.7L1997.0 760.6L1997.5 759.9L2000.0 758.7L2000.4 759.1L2000.8 760.0L2001.0 761.4L2001.2 763.3L2001.3 765.3L2001.4 767.3L2001.6 769.2L2001.8 771.0L2002.0 772.6L2002.5 774.9L2003.1 777.1L2003.8 777.7L2004.4 776.7L2005.1 775.1L2005.8 773.1L2006.6 771.5L2007.5 770.4L2008.7 768.6L2010.1 767.4L2011.2 767.8L2011.8 768.4L2012.2 769.4L2012.6 770.6L2012.9 772.1L2013.1 773.8L2013.4 775.5L2013.8 777.1L2014.0 778.2L2014.2 779.5L2014.4 780.8L2014.7 782.2L2014.9 783.6L2015.1 785.1L2015.4 786.5L2015.6 788.2L2015.8 789.6L2016.1 791.2L2016.3 792.7L2016.5 794.2L2016.8 795.6L2017.0 797.1L2017.3 798.6L2017.5 799.9L2017.7 801.1L2017.9 802.6L2018.1 804.1L2018.3 805.7L2018.4 807.3L2018.6 809.2L2018.8 811.2L2019.0 812.9L2019.1 814.9L2019.3 816.9L2019.5 818.8L2019.7 820.7L2019.9 822.6L2020.1 824.2L2020.3 825.8L2020.5 827.3L2020.8 828.6L2021.0 829.8L2021.3 830.6L2021.5 831.4L2021.8 831.7L2022.2 832.0L2022.5 832.2L2023.2 831.9L2024.0 831.2L2024.8 830.2L2025.6 828.3L2026.5 826.1L2027.5 824.5L2028.4 823.9L2029.4 823.1L2030.4 821.7L2031.5 820.0L2032.6 819.3L2033.8 819.0L2035.0 818.0L2036.3 817.1L2037.6 817.5L2039.1 817.1L2040.5 816.4L2042.0 817.1L2043.5 816.9L2045.0 816.6L2046.3 817.5L2047.7 817.7L2049.1 817.4L2050.5 818.3L2051.9 819.1L2053.4 818.9L2054.8 819.9L2056.1 821.0L2057.5 821.1L2058.8 821.8L2060.1 823.1L2061.5 823.5L2062.8 823.9L2064.1 825.5L2065.4 826.4L2066.6 826.7L2067.8 827.9L2068.9 829.4L2070.0 830.1L2071.1 830.7L2072.1 832.3L2073.1 833.8L2074.0 835.1L2074.9 835.9L2075.7 836.9L2076.6 838.7L2077.5 840.4L2078.3 841.4L2079.0 842.3L2079.8 843.3L2080.5 844.7L2081.2 846.2L2082.0 847.8L2082.7 849.1L2083.5 849.9L2084.2 850.9L2085.0 852.2L2085.9 854.1L2086.8 855.7L2087.8 856.7L2088.7 857.9L2089.6 859.4L2090.6 861.0L2091.5 862.0L2092.5 862.3L2094.1 863.4L2095.8 864.3L2097.5 863.4L2098.7 863.2L2100.0 862.8L2101.3 861.2L2102.6 860.0L2103.8 859.1L2105.0 857.7L2105.8 856.3L2106.6 855.0L2107.4 854.1L2108.2 853.3L2108.9 852.2L2109.7 850.5L2110.4 848.9L2111.1 847.3L2111.8 846.3L2112.5 845.3L2113.1 844.1L2113.7 842.8L2114.3 841.2L2114.9 839.6L2115.5 838.2L2116.0 837.1L2116.6 835.9L2117.2 834.8L2117.7 833.4L2118.3 831.7L2118.9 830.0L2119.4 828.5L2120.0 827.2L2120.6 826.1L2121.1 824.9L2121.7 823.7L2122.2 822.2L2122.8 820.6L2123.4 819.0L2123.9 817.3L2124.5 816.0L2125.0 814.9L2125.6 813.9L2126.2 812.8L2126.9 811.4L2127.5 809.8L2128.4 808.1L2129.2 806.8L2130.1 806.0L2130.9 804.6L2131.9 803.0L2132.8 801.4L2133.9 800.9L2135.0 800.4L2136.3 799.3L2137.6 798.3L2139.1 798.5L2140.6 797.8L2142.1 797.4L2143.5 797.9L2145.0 797.5L2146.4 797.2L2147.8 798.1L2149.3 798.1L2150.7 797.9L2152.1 799.1L2153.6 799.2L2155.0 799.2L2156.5 800.1L2158.0 800.3L2159.6 800.1L2161.1 801.3L2162.7 801.2L2164.2 801.4L2165.8 802.5M1907.5 899.7L1908.9 899.3L1910.2 899.6L1911.6 898.5L1912.9 897.8L1914.3 897.8L1915.7 897.3L1917.1 896.5L1918.5 896.7L1920.0 896.5L1921.3 895.8L1922.7 896.2L1924.1 896.3L1925.5 895.9L1926.9 896.2L1928.4 896.7L1929.8 896.3L1931.3 896.9L1932.8 897.3L1934.4 896.9L1935.9 897.4L1937.5 897.6L1938.9 897.2L1940.4 898.1L1942.0 898.1L1943.6 897.7L1945.3 898.7L1947.0 898.4L1948.7 898.7L1950.4 899.4L1952.1 898.8L1953.7 899.7L1955.3 899.9L1956.8 899.4L1958.2 900.4L1959.5 900.5L1960.6 900.0L1961.7 900.2L1962.5 900.8L1964.2 900.8L1965.5 900.1L1965.9 899.7L1966.2 899.0L1966.5 898.1L1966.8 897.0L1967.0 895.4L1967.3 893.7L1967.5 891.9L1967.6 890.0L1967.8 887.9L1967.9 885.8L1968.1 883.5L1968.2 881.4L1968.3 879.5L1968.5 877.4L1968.6 875.6L1968.7 874.0L1968.8 872.5L1969.0 871.3L1969.1 870.4L1969.3 870.0L1969.5 869.7L1969.8 870.0L1970.1 870.7L1970.4 872.2L1970.7 873.9L1971.0 875.8L1971.3 877.9L1971.6 880.1L1971.9 882.0L1972.2 883.8L1972.5 885.3L1972.8 886.7L1973.2 888.4L1973.5 890.1L1973.9 891.8L1974.3 893.4L1974.6 894.7L1975.1 895.7L1975.5 896.3L1976.0 896.2L1976.5 895.3L1977.0 894.0L1977.6 891.9L1978.2 889.9L1978.8 888.0L1979.4 886.3L1980.0 885.3L1980.6 883.9L1981.3 881.9L1981.9 879.7L1982.6 877.7L1983.3 876.2L1984.1 875.6L1985.0 875.3L1986.1 875.3L1987.4 875.9L1988.8 877.7L1990.2 879.2L1991.4 879.5L1992.5 879.8L1993.3 879.7L1993.9 878.6L1994.4 877.0L1994.9 874.9L1995.3 873.0L1995.8 871.0L1996.2 869.5L1997.1 867.8L1998.0 866.2L1998.8 865.4L1999.2 865.8L1999.7 867.0L2000.1 868.8L2000.6 870.6L2001.2 872.4L2002.4 874.2L2003.7 874.8L2005.0 874.6L2005.8 874.2L2006.5 873.4L2007.3 871.6L2008.0 869.7L2008.7 867.5L2009.4 866.3L2010.0 865.9L2010.5 866.5L2010.9 867.6L2011.3 868.7L2011.7 870.2L2012.1 871.7L2012.4 873.2L2012.7 874.7L2013.1 876.5L2013.4 878.1L2013.8 879.6L2014.0 880.9L2014.3 882.3L2014.6 884.1L2014.8 885.6L2015.0 887.1L2015.3 888.8L2015.5 890.4L2015.7 892.0L2016.0 893.4L2016.3 895.0L2016.5 896.3L2016.8 897.5L2017.2 898.6L2017.5 899.8L2017.9 901.3L2018.3 902.8L2018.7 904.5L2019.2 906.4L2019.6 908.2L2020.2 909.7L2020.8 910.9L2021.6 911.6L2022.5 912.1L2023.7 913.1L2025.1 913.8L2026.6 913.3L2028.2 913.7L2029.9 913.7L2031.6 913.2L2033.3 913.9L2035.0 913.6L2036.3 913.7L2037.7 914.7L2039.0 914.7L2040.4 914.5L2041.7 915.4L2043.1 915.8L2044.5 915.5L2045.9 916.5L2047.3 916.9L2048.6 916.8L2050.0 917.5L2051.4 918.3L2052.8 917.9L2054.2 918.6L2055.6 919.4L2057.1 919.3L2058.5 919.7L2059.9 920.6L2061.2 920.7L2062.5 920.9L2063.8 922.2L2065.0 922.7L2066.3 922.8L2067.5 924.1L2068.6 925.5L2069.8 926.0L2070.8 926.5L2071.9 927.8L2072.9 929.5L2074.0 930.2L2075.0 930.9L2075.9 932.0L2076.8 933.5L2077.6 934.8L2078.5 935.8L2079.3 936.5L2080.2 937.7L2081.0 939.4L2081.8 940.9L2082.6 941.9L2083.4 942.7L2084.2 943.5L2085.0 944.8L2086.0 946.7L2086.9 948.0L2087.9 948.8L2088.8 949.9L2089.7 951.5L2090.6 953.1L2091.5 954.1L2092.5 954.7L2093.5 955.9L2094.6 957.9L2095.6 959.3L2096.7 960.0L2097.8 961.1L2098.9 962.4L2100.0 962.8L2101.2 962.1L2102.5 961.7L2103.8 961.5L2105.1 960.0L2106.3 958.4L2107.5 957.6L2108.3 956.9L2109.1 955.6L2109.8 954.0L2110.5 952.6L2111.1 951.3L2111.8 950.3L2112.4 949.2L2113.0 947.5L2113.7 945.8L2114.3 943.9L2115.0 942.1L2115.5 941.1L2116.0 939.9L2116.5 938.9L2117.0 937.9L2117.5 936.4L2118.0 934.6L2118.5 932.9L2119.0 931.2L2119.5 929.7L2119.9 928.4L2120.4 927.0L2120.9 925.9L2121.4 924.5L2121.9 923.0L2122.4 921.5L2123.0 919.7L2123.5 918.3L2124.0 917.0L2124.5 915.9L2125.0 915.0L2125.7 913.9L2126.4 912.4L2127.0 910.6L2127.7 908.9L2128.4 907.6L2129.1 906.7L2129.8 905.8L2130.6 904.8L2131.5 903.3L2132.5 902.0L2133.7 901.5L2134.9 901.1L2136.3 899.6L2137.8 898.9L2139.2 898.9L2140.7 897.7L2142.2 897.4L2143.6 897.7L2145.0 896.8L2146.5 896.7L2147.9 897.3L2149.3 897.1L2150.7 897.4L2152.1 898.4L2153.6 898.3L2155.0 898.3L2156.3 899.4L2157.7 899.5L2159.0 899.4L2160.4 900.4L2161.7 901.0L2163.1 900.7L2164.4 901.6L2165.8 902.5M1907.5 1001.5L1909.0 1001.4L1910.4 1000.6L1911.8 1001.1L1913.3 1001.0L1914.7 1000.3L1916.2 1000.6L1917.6 1000.6L1919.1 999.9L1920.5 1000.3L1922.0 1000.4L1923.5 999.6L1925.0 1000.2L1926.4 1000.4L1927.8 999.7L1929.2 1000.1L1930.7 1000.4L1932.1 999.9L1933.5 1000.3L1935.0 1000.8L1936.5 1000.3L1937.9 1000.7L1939.3 1001.2L1940.8 1000.7L1942.2 1001.0L1943.6 1001.6L1945.0 1000.9L1946.5 1001.2L1948.2 1001.9L1949.8 1001.2L1951.5 1001.9L1953.1 1002.0L1954.7 1001.7L1956.3 1002.4L1957.8 1002.1L1959.2 1001.9L1960.4 1002.6L1961.6 1002.6L1962.5 1002.3L1964.2 1002.7L1965.5 1002.9L1965.9 1002.2L1966.2 1001.3L1966.5 1000.0L1966.8 998.7L1967.0 997.0L1967.3 995.2L1967.5 993.2L1967.6 991.2L1967.8 989.2L1968.0 987.3L1968.1 985.2L1968.2 983.3L1968.4 981.4L1968.5 979.6L1968.6 978.0L1968.7 976.5L1968.9 975.2L1969.0 974.2L1969.2 973.5L1969.3 973.1L1969.5 972.8L1969.7 973.1L1970.0 973.8L1970.2 974.8L1970.4 976.2L1970.7 977.6L1970.9 979.4L1971.1 981.0L1971.4 982.9L1971.6 984.7L1971.9 986.5L1972.2 988.3L1972.5 989.7L1972.9 991.5L1973.3 993.7L1973.8 995.8L1974.3 997.5L1974.8 999.0L1975.3 1000.1L1975.8 1000.7L1976.2 1000.9L1976.9 1000.5L1977.5 999.8L1978.1 998.6L1978.8 996.9L1979.4 994.7L1980.0 992.3L1980.3 991.0L1980.6 989.9L1980.9 988.8L1981.2 987.5L1981.5 986.3L1981.8 985.1L1982.1 983.9L1982.3 982.6L1982.6 981.2L1982.9 979.8L1983.1 978.4L1983.4 976.8L1983.7 975.2L1983.9 973.5L1984.2 971.9L1984.5 970.3L1984.7 968.7L1985.0 967.2L1985.3 965.7L1985.5 964.2L1985.8 962.8L1986.0 961.3L1986.2 959.8L1986.5 958.2L1986.7 956.6L1986.9 955.1L1987.1 953.6L1987.4 952.0L1987.6 950.3L1987.9 948.7L1988.1 947.3L1988.4 945.6L1988.7 944.3L1989.0 942.9L1989.3 941.6L1989.6 940.6L1990.0 939.7L1990.9 938.2L1991.8 937.0L1992.8 935.4L1993.8 934.7L1994.6 935.3L1995.4 936.8L1996.1 938.7L1996.8 940.6L1997.5 942.4L1997.8 943.3L1998.0 944.2L1998.3 945.3L1998.5 946.6L1998.7 948.0L1998.9 949.5L1999.0 951.0L1999.2 952.6L1999.4 954.2L1999.5 955.9L1999.7 957.4L1999.8 959.1L2000.0 960.9L2000.1 962.5L2000.2 964.1L2000.4 965.6L2000.5 967.2L2000.7 968.7L2000.9 970.2L2001.1 971.5L2001.2 972.7L2001.5 974.1L2001.7 975.7L2001.9 977.2L2002.1 978.8L2002.3 980.4L2002.5 982.0L2002.7 983.7L2003.0 985.2L2003.2 986.7L2003.5 988.2L2003.8 989.5L2004.2 990.8L2004.6 991.9L2005.0 992.9L2006.1 993.6L2007.4 994.0L2008.8 995.2L2010.7 995.4L2012.5 996.0L2013.2 997.5L2013.8 999.0L2014.4 1000.4L2014.9 1001.9L2015.5 1003.2L2016.2 1004.5L2017.1 1006.3L2018.0 1008.3L2018.9 1009.4L2020.0 1010.2L2021.2 1011.6L2022.5 1012.9L2023.8 1013.0L2025.2 1012.7L2026.7 1013.5L2028.3 1012.8L2030.0 1012.6L2031.7 1013.1L2033.3 1012.1L2035.0 1012.7L2036.4 1012.8L2037.9 1012.3L2039.4 1012.8L2040.9 1013.0L2042.4 1012.4L2043.9 1013.2L2045.5 1013.4L2047.0 1012.9L2048.5 1013.9L2050.0 1013.8L2051.4 1013.6L2052.8 1014.6L2054.2 1014.7L2055.6 1014.4L2057.0 1015.4L2058.4 1015.8L2059.8 1015.5L2061.2 1016.3L2062.5 1017.0L2063.8 1016.7L2065.0 1017.3L2066.6 1018.4L2068.0 1018.5L2069.5 1019.1L2070.8 1020.4L2072.2 1020.7L2073.6 1021.3L2075.0 1022.8L2076.1 1023.5L2077.3 1023.9L2078.4 1025.0L2079.5 1026.6L2080.6 1027.5L2081.8 1028.1L2082.9 1029.3L2084.0 1030.6L2085.1 1030.8L2086.2 1030.9L2087.7 1031.7L2089.2 1031.9L2090.7 1031.0L2092.1 1031.1L2093.6 1030.9L2095.0 1029.7L2096.3 1029.5L2097.5 1029.0L2098.8 1027.5L2100.0 1026.3L2101.3 1025.9L2102.5 1024.7L2103.8 1023.1L2105.0 1022.4L2106.2 1022.0L2107.5 1020.4L2108.7 1019.2L2110.0 1018.9L2111.2 1018.1L2112.5 1016.4L2113.7 1015.9L2115.0 1015.5L2116.2 1014.2L2117.5 1013.1L2118.8 1012.8L2120.1 1012.0L2121.3 1010.7L2122.6 1010.1L2123.8 1009.9L2125.0 1008.8L2126.3 1007.6L2127.5 1007.1L2128.7 1006.3L2129.8 1004.8L2131.1 1004.2L2132.5 1004.2L2133.7 1003.2L2135.0 1002.5L2136.4 1002.7L2137.9 1002.2L2139.3 1001.4L2140.8 1001.8L2142.2 1001.5L2143.7 1000.8L2145.0 1001.4L2146.5 1001.5L2147.9 1001.3L2149.3 1002.2L2150.7 1002.6L2152.1 1002.6L2153.6 1003.3L2155.0 1004.1L2156.5 1003.7L2158.0 1004.6L2159.6 1005.1L2161.1 1004.8L2162.7 1005.7L2164.2 1006.0L2165.8 1005.8M1907.5 1106.4L1909.0 1106.6L1910.4 1105.9L1911.8 1106.4L1913.3 1106.5L1914.7 1105.9L1916.2 1106.2L1917.6 1106.5L1919.1 1105.7L1920.5 1106.2L1922.0 1106.4L1923.5 1105.8L1925.0 1106.3L1926.4 1106.7L1927.8 1106.1L1929.2 1106.3L1930.7 1106.8L1932.1 1106.3L1933.5 1106.7L1935.0 1107.3L1936.5 1106.8L1937.9 1107.1L1939.3 1107.6L1940.8 1107.1L1942.2 1107.2L1943.6 1107.8L1945.0 1107.3L1946.5 1107.4L1948.2 1108.0L1949.8 1107.3L1951.5 1107.7L1953.1 1107.8L1954.7 1107.1L1956.3 1107.9L1957.8 1107.6L1959.2 1107.2L1960.4 1107.8L1961.6 1107.8L1962.5 1107.3L1964.2 1107.6L1965.5 1108.0L1965.9 1107.4L1966.2 1106.4L1966.5 1105.1L1966.8 1103.5L1967.0 1101.9L1967.3 1099.9L1967.5 1098.1L1967.6 1096.1L1967.8 1093.9L1967.9 1091.9L1968.1 1089.8L1968.2 1087.9L1968.4 1086.0L1968.5 1084.3L1968.6 1082.7L1968.8 1081.5L1968.9 1080.3L1969.1 1079.6L1969.3 1079.2L1969.5 1079.0L1969.9 1079.5L1970.2 1080.2L1970.6 1081.4L1971.0 1082.9L1971.4 1084.5L1971.7 1086.2L1972.1 1087.9L1972.5 1089.7L1972.8 1091.1L1973.1 1093.0L1973.4 1094.9L1973.6 1096.9L1973.9 1099.0L1974.2 1101.0L1974.5 1102.7L1974.8 1104.3L1975.1 1105.5L1975.4 1106.5L1975.8 1107.0L1976.2 1107.1L1977.1 1106.9L1978.1 1106.2L1979.1 1104.7L1980.0 1102.4L1980.4 1101.4L1980.7 1100.3L1981.0 1099.1L1981.3 1098.0L1981.6 1096.7L1981.9 1095.6L1982.2 1094.4L1982.4 1092.9L1982.7 1091.7L1982.9 1090.2L1983.2 1088.5L1983.4 1086.9L1983.6 1085.3L1983.8 1083.4L1984.1 1081.6L1984.3 1079.9L1984.5 1078.1L1984.8 1076.3L1985.0 1074.7L1985.2 1073.3L1985.4 1072.0L1985.6 1070.6L1985.8 1069.3L1985.9 1067.8L1986.1 1066.4L1986.3 1065.0L1986.4 1063.6L1986.6 1062.2L1986.8 1060.8L1986.9 1059.3L1987.1 1057.8L1987.3 1056.3L1987.4 1054.9L1987.6 1053.3L1987.8 1051.9L1987.9 1050.3L1988.1 1048.7L1988.3 1047.1L1988.5 1045.6L1988.6 1044.1L1988.8 1042.5L1989.0 1041.1L1989.2 1039.7L1989.4 1038.3L1989.6 1036.9L1989.8 1035.7L1990.0 1034.7L1990.3 1032.9L1990.7 1031.2L1991.1 1029.4L1991.5 1027.7L1991.8 1025.9L1992.2 1024.0L1992.6 1022.3L1993.0 1020.5L1993.4 1019.1L1993.8 1018.0L1994.1 1017.4L1994.5 1017.2L1995.0 1017.6L1995.4 1018.8L1995.8 1020.3L1996.3 1022.2L1996.7 1024.1L1997.1 1025.8L1997.5 1027.4L1997.7 1028.4L1997.9 1029.4L1998.1 1030.5L1998.3 1031.6L1998.4 1032.8L1998.6 1034.2L1998.8 1035.7L1998.9 1037.1L1999.1 1038.7L1999.3 1040.3L1999.4 1041.8L1999.6 1043.4L1999.7 1045.0L1999.9 1046.6L2000.0 1048.2L2000.2 1049.8L2000.3 1051.4L2000.5 1053.0L2000.6 1054.7L2000.8 1056.2L2000.9 1057.6L2001.1 1058.9L2001.2 1060.4L2001.4 1061.7L2001.6 1063.2L2001.7 1064.5L2001.9 1066.0L2002.0 1067.4L2002.2 1068.8L2002.3 1070.3L2002.5 1071.8L2002.6 1073.2L2002.8 1074.7L2002.9 1076.3L2003.1 1077.8L2003.2 1079.2L2003.4 1080.8L2003.6 1082.1L2003.8 1083.8L2004.0 1085.1L2004.2 1086.5L2004.5 1087.9L2004.7 1089.3L2005.0 1090.4L2005.5 1092.0L2006.0 1093.6L2006.5 1094.8L2007.0 1096.0L2007.6 1097.5L2008.2 1099.1L2008.8 1100.6L2009.4 1101.9L2010.0 1102.8L2011.2 1103.6L2012.5 1104.7L2013.8 1106.7L2014.5 1107.6L2015.2 1108.5L2015.9 1109.6L2016.5 1110.8L2017.3 1112.7L2018.0 1114.2L2018.8 1115.3L2019.6 1116.2L2020.5 1117.1L2021.5 1118.3L2022.5 1119.8L2023.8 1120.1L2024.9 1119.7L2026.1 1120.1L2027.5 1120.3L2028.9 1119.1L2030.4 1118.9L2031.9 1118.9L2033.5 1117.9L2035.0 1118.1L2036.4 1118.2L2037.9 1117.4L2039.3 1117.7L2040.8 1118.0L2042.4 1117.3L2043.9 1117.8L2045.4 1117.8L2047.0 1117.4L2048.5 1118.1L2050.0 1118.2L2051.5 1117.9L2053.1 1118.6L2054.6 1118.7L2056.2 1118.6L2057.7 1119.5L2059.3 1119.5L2060.8 1119.6L2062.2 1120.8L2063.6 1120.7L2065.0 1121.0L2066.6 1122.2L2068.0 1122.5L2069.4 1123.2L2070.8 1124.5L2072.2 1125.0L2073.6 1125.3L2075.0 1126.5L2076.4 1126.9L2077.8 1126.9L2079.3 1128.1L2080.7 1128.6L2082.2 1128.3L2083.6 1129.1L2085.0 1129.1L2086.3 1128.1L2087.6 1127.9L2088.8 1127.6L2090.1 1126.2L2091.3 1125.0L2092.5 1124.5L2093.8 1123.6L2095.0 1122.1L2096.3 1121.5L2097.5 1121.0L2098.7 1119.4L2100.0 1118.1L2101.2 1117.6L2102.4 1116.8L2103.7 1115.3L2105.0 1114.9L2106.4 1114.9L2107.8 1113.9L2109.2 1113.4L2110.7 1113.7L2112.1 1113.1L2113.6 1112.6L2115.0 1113.0L2116.5 1111.9L2117.9 1111.3L2119.4 1111.2L2120.8 1110.2L2122.2 1109.5L2123.6 1109.6L2125.0 1108.8L2126.5 1107.8L2128.0 1107.9L2129.4 1106.9L2130.9 1106.0L2132.5 1106.6L2133.7 1106.3L2135.1 1106.1L2136.5 1106.8L2137.9 1107.2L2139.4 1107.0L2140.8 1108.0L2142.2 1108.4L2143.6 1108.1L2145.0 1108.9L2146.5 1109.3L2147.9 1108.7L2149.3 1109.2L2150.8 1109.6L2152.2 1108.9L2153.6 1109.3L2155.0 1109.9L2156.5 1109.5L2158.1 1110.0L2159.6 1110.9L2161.1 1110.5L2162.7 1111.3L2164.2 1111.8L2165.8 1111.6M1907.5 1214.5L1909.0 1214.6L1910.5 1214.0L1911.9 1214.6L1913.4 1214.8L1914.9 1214.1L1916.4 1214.9L1917.9 1214.8L1919.4 1214.4L1920.8 1215.0L1922.3 1215.0L1923.6 1214.6L1925.0 1215.1L1926.7 1215.4L1928.3 1214.9L1929.8 1216.0L1931.4 1215.7L1932.9 1215.7L1934.4 1216.5L1936.0 1216.1L1937.5 1216.0L1938.9 1216.4L1940.3 1215.8L1941.7 1215.2L1943.1 1215.5L1944.4 1214.9L1945.8 1214.1L1947.2 1214.5L1948.6 1214.1L1950.0 1213.3L1951.6 1213.8L1953.3 1213.7L1955.1 1213.3L1956.8 1214.1L1958.4 1213.4L1960.0 1213.7L1961.3 1214.1L1962.5 1213.6L1964.2 1213.8L1965.5 1214.2L1966.0 1213.4L1966.4 1212.0L1966.8 1210.2L1967.2 1208.3L1967.5 1206.2L1967.7 1204.0L1968.0 1202.0L1968.3 1200.1L1968.6 1198.6L1968.8 1197.6L1969.2 1196.8L1969.5 1196.6L1969.9 1196.9L1970.3 1197.6L1970.7 1198.5L1971.1 1199.9L1971.6 1201.4L1972.0 1202.9L1972.4 1204.9L1972.9 1206.8L1973.3 1208.8L1973.8 1210.2L1974.3 1212.0L1974.9 1213.6L1975.4 1214.8L1976.0 1215.9L1976.7 1217.2L1977.5 1218.8L1978.7 1220.3L1980.0 1221.1L1981.3 1221.5L1982.5 1222.3L1983.4 1221.8L1984.2 1220.2L1984.9 1218.4L1985.6 1216.6L1986.2 1214.9L1986.6 1214.1L1986.8 1213.2L1987.1 1212.2L1987.4 1211.0L1987.6 1209.8L1987.9 1208.2L1988.1 1206.8L1988.4 1205.1L1988.6 1203.6L1988.8 1201.9L1989.0 1200.2L1989.3 1198.6L1989.5 1197.0L1989.7 1195.2L1989.9 1193.8L1990.1 1192.2L1990.3 1190.6L1990.6 1189.3L1990.8 1188.0L1991.0 1186.5L1991.2 1185.3L1991.5 1183.8L1991.8 1182.4L1992.0 1180.8L1992.2 1179.3L1992.5 1177.6L1992.7 1175.9L1992.9 1174.4L1993.2 1172.6L1993.4 1170.9L1993.7 1169.3L1993.9 1167.7L1994.2 1166.3L1994.4 1164.9L1994.7 1163.5L1995.0 1162.4L1995.3 1161.3L1995.6 1160.0L1995.9 1159.1L1996.2 1157.9L1996.8 1156.0L1997.4 1153.8L1998.1 1151.6L1998.7 1149.8L1999.4 1148.4L2000.0 1147.5L2000.7 1146.9L2001.2 1146.5L2001.9 1146.5L2002.6 1147.4L2003.2 1148.9L2003.8 1151.0L2004.4 1153.4L2005.0 1155.3L2005.4 1156.5L2005.7 1157.6L2006.1 1158.8L2006.5 1160.0L2006.8 1161.2L2007.2 1162.4L2007.6 1164.0L2007.9 1165.6L2008.3 1167.3L2008.6 1169.1L2009.0 1170.7L2009.3 1172.4L2009.7 1173.9L2010.0 1175.3L2010.3 1176.5L2010.6 1177.7L2010.9 1179.0L2011.3 1180.4L2011.6 1181.6L2011.9 1183.1L2012.2 1184.7L2012.5 1186.2L2012.8 1187.9L2013.1 1189.5L2013.4 1191.1L2013.7 1192.5L2014.0 1193.9L2014.3 1195.1L2014.7 1196.4L2015.0 1197.4L2015.4 1198.8L2015.8 1200.1L2016.2 1201.7L2016.5 1203.3L2016.9 1204.9L2017.3 1206.7L2017.7 1208.2L2018.1 1209.7L2018.6 1210.9L2019.0 1212.0L2019.5 1212.8L2020.0 1213.4L2021.1 1215.1L2022.2 1216.9L2023.8 1217.6L2024.8 1217.3L2026.0 1218.0L2027.4 1218.1L2028.8 1217.3L2030.4 1217.5L2031.9 1217.6L2033.5 1216.6L2035.0 1217.1L2036.4 1217.2L2037.9 1216.4L2039.3 1216.8L2040.8 1217.0L2042.4 1216.0L2043.9 1216.6L2045.4 1216.5L2047.0 1215.8L2048.5 1216.6L2050.0 1216.3L2051.5 1215.9L2053.0 1216.7L2054.4 1216.5L2055.9 1216.3L2057.4 1217.1L2058.8 1217.1L2060.3 1216.7L2061.9 1217.7L2063.4 1217.4L2065.0 1217.2L2066.4 1217.9L2067.8 1217.6L2069.2 1217.3L2070.7 1218.2L2072.2 1217.8L2073.8 1217.6L2075.3 1218.5L2076.8 1218.0L2078.3 1217.8L2079.8 1218.6L2081.2 1217.9L2082.5 1217.6L2083.8 1218.1L2085.0 1217.7L2086.6 1216.5L2088.1 1216.7L2089.5 1215.8L2090.8 1214.6L2092.1 1214.2L2093.5 1213.6L2095.0 1212.2L2096.2 1211.9L2097.5 1211.6L2098.8 1210.4L2100.2 1209.7L2101.6 1209.6L2103.0 1208.5L2104.4 1207.4L2105.8 1207.7L2107.2 1206.9L2108.6 1206.0L2110.0 1206.4L2111.5 1206.3L2113.0 1205.8L2114.6 1206.5L2116.1 1206.5L2117.7 1206.6L2119.2 1207.6L2120.7 1207.5L2122.2 1207.6L2123.6 1208.8L2125.0 1208.8L2126.6 1208.9L2128.0 1210.0L2129.4 1210.3L2130.8 1210.5L2132.2 1211.8L2133.6 1212.0L2135.0 1212.1L2136.4 1213.3L2137.7 1213.7L2139.1 1213.7L2140.4 1214.5L2141.9 1215.2L2143.4 1214.8L2145.0 1215.7L2146.2 1216.0L2147.6 1215.4L2148.9 1215.6L2150.4 1216.2L2151.8 1215.6L2153.3 1215.7L2154.9 1216.1L2156.4 1215.5L2158.0 1215.6L2159.6 1215.9L2161.2 1215.2L2162.7 1215.7L2164.2 1215.8L2165.8 1215.0" stroke="#111" stroke-width="2.5" fill="none" stroke-linejoin="round" stroke-linecap="round"/>
<path d="M1223 6H1566.0M1223 1313.5H1566.0M1321.2 6v16.5M1321.2 1313.5v-16.5M1340.9 6v8.5M1340.9 1313.5v-8.5M1360.6 6v16.5M1360.6 1313.5v-16.5M1380.3 6v8.5M1380.3 1313.5v-8.5M1400.0 6v16.5M1400.0 1313.5v-16.5M1419.7 6v8.5M1419.7 1313.5v-8.5M1439.3 6v24M1439.3 1313.5v-24M1459.0 6v8.5M1459.0 1313.5v-8.5M1478.7 6v16.5M1478.7 1313.5v-16.5M1498.4 6v8.5M1498.4 1313.5v-8.5M1518.0 6v16.5M1518.0 1313.5v-16.5M1537.7 6v8.5M1537.7 1313.5v-8.5M1557.4 6v16.5M1557.4 1313.5v-16.5M1604.0 6H1861.0M1604.0 1313.5H1861.0M1617.5 6v8.5M1617.5 1313.5v-8.5M1637.2 6v16.5M1637.2 1313.5v-16.5M1656.8 6v8.5M1656.8 1313.5v-8.5M1676.5 6v16.5M1676.5 1313.5v-16.5M1696.1 6v8.5M1696.1 1313.5v-8.5M1715.8 6v16.5M1715.8 1313.5v-16.5M1735.4 6v8.5M1735.4 1313.5v-8.5M1755.0 6v16.5M1755.0 1313.5v-16.5M1774.7 6v8.5M1774.7 1313.5v-8.5M1794.3 6v16.5M1794.3 1313.5v-16.5M1814.0 6v8.5M1814.0 1313.5v-8.5M1833.7 6v24M1833.7 1313.5v-24M1853.3 6v8.5M1853.3 1313.5v-8.5M1907.5 6H2166.0M1907.5 1313.5H2166.0M1910.8 6v16.5M1910.8 1313.5v-16.5M1930.2 6v8.5M1930.2 1313.5v-8.5M1949.7 6v24M1949.7 1313.5v-24M1969.1 6v8.5M1969.1 1313.5v-8.5M1988.5 6v16.5M1988.5 1313.5v-16.5M2008.0 6v8.5M2008.0 1313.5v-8.5M2027.5 6v16.5M2027.5 1313.5v-16.5M2046.9 6v8.5M2046.9 1313.5v-8.5M2066.3 6v16.5M2066.3 1313.5v-16.5M2085.8 6v8.5M2085.8 1313.5v-8.5M2105.2 6v16.5M2105.2 1313.5v-16.5M2124.7 6v8.5M2124.7 1313.5v-8.5M2144.2 6v16.5M2144.2 1313.5v-16.5M2163.6 6v8.5M2163.6 1313.5v-8.5M2212.5 6H2500.0M2212.5 1313.5H2500.0M2218.8 6v16.5M2218.8 1313.5v-16.5M2238.5 6v8.5M2238.5 1313.5v-8.5M2258.2 6v16.5M2258.2 1313.5v-16.5M2277.9 6v8.5M2277.9 1313.5v-8.5M2297.7 6v16.5M2297.7 1313.5v-16.5M2317.4 6v8.5M2317.4 1313.5v-8.5M2337.1 6v16.5M2337.1 1313.5v-16.5M2356.9 6v8.5M2356.9 1313.5v-8.5M2376.6 6v16.5M2376.6 1313.5v-16.5M2396.3 6v8.5M2396.3 1313.5v-8.5M2416.1 6v16.5M2416.1 1313.5v-16.5M2435.8 6v8.5M2435.8 1313.5v-8.5M2455.5 6v24M2455.5 1313.5v-24M2475.2 6v8.5M2475.2 1313.5v-8.5M2495.0 6v16.5M2495.0 1313.5v-16.5" stroke="#111" stroke-width="2.2" fill="none"/>
<line x1="1310.2" y1="5" x2="1310.2" y2="1314.5" stroke="#111" stroke-width="2.2"/>
<path d="M1676.5 50V431M1676.5 452V1045M1676.5 1076V1130M1676.5 1191V1290M1964.0 40V1313M2287.5 58V397M2287.5 437V580M2287.5 600V976M2287.5 1006V1096M2287.5 1174V1194M2287.5 1250V1274M2287.5 1289V1313" stroke="#111" stroke-width="2.2" fill="none"/>
<rect x="1963.5" y="72" width="4.5" height="1176" fill="#111"/>
<text x="4.00" y="71.00" id="pA" font-family="'Liberation Sans', Arial, sans-serif" font-weight="700" font-size="84.88" text-anchor="start" fill="#000" textLength="63.53" lengthAdjust="spacingAndGlyphs">A</text>
<text x="1093.50" y="72.00" id="pB" font-family="'Liberation Sans', Arial, sans-serif" font-weight="700" font-size="88.04" text-anchor="start" fill="#000" textLength="60.45" lengthAdjust="spacingAndGlyphs">B</text>
<text x="446.50" y="104.75" id="p1" font-family="Merriweather, 'Liberation Serif', serif" font-weight="400" font-size="41.38" text-anchor="middle" fill="#000" class="on sf" textLength="141.48" lengthAdjust="spacingAndGlyphs">0.0006</text>
<text x="632.00" y="104.75" id="p2" font-family="Merriweather, 'Liberation Serif', serif" font-weight="400" font-size="41.38" text-anchor="middle" fill="#000" class="on sf" textLength="132.84" lengthAdjust="spacingAndGlyphs">0.0061</text>
<text x="817.50" y="105.25" id="p3" font-family="Merriweather, 'Liberation Serif', serif" font-weight="400" font-size="41.06" text-anchor="middle" fill="#000" class="on sf" textLength="159.87" lengthAdjust="spacingAndGlyphs">&lt;0.0001</text>
<text x="195.50" y="259.75" id="t200" font-family="Merriweather, 'Liberation Serif', serif" font-weight="900" font-size="46.70" text-anchor="end" fill="#000" class="on sf" textLength="92.15" lengthAdjust="spacingAndGlyphs">200</text>
<text x="196.00" y="673.50" id="t150" font-family="Merriweather, 'Liberation Serif', serif" font-weight="900" font-size="48.29" text-anchor="end" fill="#000" class="on sf" textLength="83.96" lengthAdjust="spacingAndGlyphs">150</text>
<text x="195.75" y="1087.00" id="t100" font-family="Merriweather, 'Liberation Serif', serif" font-weight="900" font-size="45.88" text-anchor="end" fill="#000" class="on sf" textLength="87.50" lengthAdjust="spacingAndGlyphs">100</text>
<text x="360.75" y="436.00" id="b182" font-family="Merriweather, 'Liberation Serif', serif" font-weight="400" font-size="36.58" text-anchor="middle" fill="#fff" class="on sf" textLength="57.68" lengthAdjust="spacingAndGlyphs">182</text>
<text x="541.50" y="535.75" id="b170" font-family="Merriweather, 'Liberation Serif', serif" font-weight="400" font-size="34.31" text-anchor="middle" fill="#fff" class="on sf" textLength="57.42" lengthAdjust="spacingAndGlyphs">170</text>
<text x="722.00" y="602.45" id="b162" font-family="Merriweather, 'Liberation Serif', serif" font-weight="400" font-size="33.81" text-anchor="middle" fill="#000" class="on sf" textLength="58.95" lengthAdjust="spacingAndGlyphs">162</text>
<text x="902.00" y="750.80" id="b144" font-family="Merriweather, 'Liberation Serif', serif" font-weight="400" font-size="33.90" text-anchor="middle" fill="#000" class="on sf" textLength="59.39" lengthAdjust="spacingAndGlyphs">144</text>
<text transform="translate(39.63,646.50) rotate(-90)" id="ytitle" font-family="Merriweather, 'Liberation Serif', serif" font-weight="700" font-size="47.76" text-anchor="middle" fill="#000" class="on sf" textLength="438.40" lengthAdjust="spacingAndGlyphs">QRS duration [ms]</text>
<text transform="translate(374.00,1314.25) rotate(-45)" id="xl1" font-family="Merriweather, 'Liberation Serif', serif" font-weight="900" font-size="48.22" text-anchor="end" fill="#000" class="sf" textLength="207.60" lengthAdjust="spacingAndGlyphs">Baseline</text>
<text transform="translate(554.00,1314.50) rotate(-45)" id="xl2" font-family="Merriweather, 'Liberation Serif', serif" font-weight="900" font-size="47.84" text-anchor="end" fill="#000" class="sf" textLength="216.58" lengthAdjust="spacingAndGlyphs">BiV‒CRT</text>
<text transform="translate(734.50,1315.25) rotate(-45)" id="xl3" font-family="Merriweather, 'Liberation Serif', serif" font-weight="900" font-size="47.92" text-anchor="end" fill="#000" class="sf" textLength="165.01" lengthAdjust="spacingAndGlyphs">LBBAP</text>
<text transform="translate(915.50,1314.50) rotate(-45)" id="xl4" font-family="Merriweather, 'Liberation Serif', serif" font-weight="900" font-size="47.42" text-anchor="end" fill="#000" class="sf" textLength="232.69" lengthAdjust="spacingAndGlyphs">LOT‒CRT</text>
<text x="1308.00" y="117.80" id="ldI" font-family="'Liberation Sans', Arial, sans-serif" font-weight="400" font-size="26.60" text-anchor="end" fill="#111">I</text>
<text x="1308.00" y="218.00" id="ldII" font-family="'Liberation Sans', Arial, sans-serif" font-weight="400" font-size="26.60" text-anchor="end" fill="#111">II</text>
<text x="1308.00" y="319.20" id="ldIII" font-family="'Liberation Sans', Arial, sans-serif" font-weight="400" font-size="26.60" text-anchor="end" fill="#111">III</text>
<text x="1308.00" y="419.40" id="ldaVR" font-family="'Liberation Sans', Arial, sans-serif" font-weight="400" font-size="26.60" text-anchor="end" fill="#111">aVR</text>
<text x="1307.00" y="520.60" id="ldaVL" font-family="'Liberation Sans', Arial, sans-serif" font-weight="400" font-size="26.60" text-anchor="end" fill="#111">aVL</text>
<text x="1307.00" y="620.80" id="ldaVF" font-family="'Liberation Sans', Arial, sans-serif" font-weight="400" font-size="26.60" text-anchor="end" fill="#111">aVF</text>
<text x="1307.00" y="722.00" id="ldV1" font-family="'Liberation Sans', Arial, sans-serif" font-weight="400" font-size="26.60" text-anchor="end" fill="#111">V1</text>
<text x="1307.00" y="822.20" id="ldV2" font-family="'Liberation Sans', Arial, sans-serif" font-weight="400" font-size="26.60" text-anchor="end" fill="#111">V2</text>
<text x="1307.00" y="923.40" id="ldV3" font-family="'Liberation Sans', Arial, sans-serif" font-weight="400" font-size="26.60" text-anchor="end" fill="#111">V3</text>
<text x="1307.00" y="1023.60" id="ldV4" font-family="'Liberation Sans', Arial, sans-serif" font-weight="400" font-size="26.60" text-anchor="end" fill="#111">V4</text>
<text x="1307.00" y="1124.80" id="ldV5" font-family="'Liberation Sans', Arial, sans-serif" font-weight="400" font-size="26.60" text-anchor="end" fill="#111">V5</text>
<text x="1307.00" y="1225.00" id="ldV6" font-family="'Liberation Sans', Arial, sans-serif" font-weight="400" font-size="26.60" text-anchor="end" fill="#111">V6</text>
<text x="1439.70" y="54.50" id="n38" font-family="'Liberation Sans', Arial, sans-serif" font-weight="400" font-size="24.20" text-anchor="middle" fill="#111">38</text>
<text x="1833.50" y="54.50" id="n34" font-family="'Liberation Sans', Arial, sans-serif" font-weight="400" font-size="24.20" text-anchor="middle" fill="#111">34</text>
<text x="1950.00" y="54.50" id="n05" font-family="'Liberation Sans', Arial, sans-serif" font-weight="400" font-size="24.20" text-anchor="middle" fill="#111">05</text>
<text x="2456.10" y="54.50" id="n08" font-family="'Liberation Sans', Arial, sans-serif" font-weight="400" font-size="24.20" text-anchor="middle" fill="#111">08</text>
<text x="1429.80" y="1398.25" id="bl1" font-family="Merriweather, 'Liberation Serif', serif" font-weight="400" font-size="60.72" text-anchor="middle" fill="#000" class="sf" textLength="255.26" lengthAdjust="spacingAndGlyphs">Baseline</text>
<text x="1744.55" y="1398.50" id="bl2" font-family="Merriweather, 'Liberation Serif', serif" font-weight="400" font-size="60.07" text-anchor="middle" fill="#000" class="sf" textLength="266.89" lengthAdjust="spacingAndGlyphs">BiV‒CRT</text>
<text x="2033.90" y="1400.00" id="bl3" font-family="Merriweather, 'Liberation Serif', serif" font-weight="400" font-size="61.03" text-anchor="middle" fill="#000" class="sf" textLength="205.62" lengthAdjust="spacingAndGlyphs">LBBAP</text>
<text x="2211.10" y="1398.00" id="bl4" font-family="Merriweather, 'Liberation Serif', serif" font-weight="400" font-size="61.95" text-anchor="start" fill="#000" class="sf" textLength="290.15" lengthAdjust="spacingAndGlyphs">LOT‒CRT</text>
</svg>
</body></html>
